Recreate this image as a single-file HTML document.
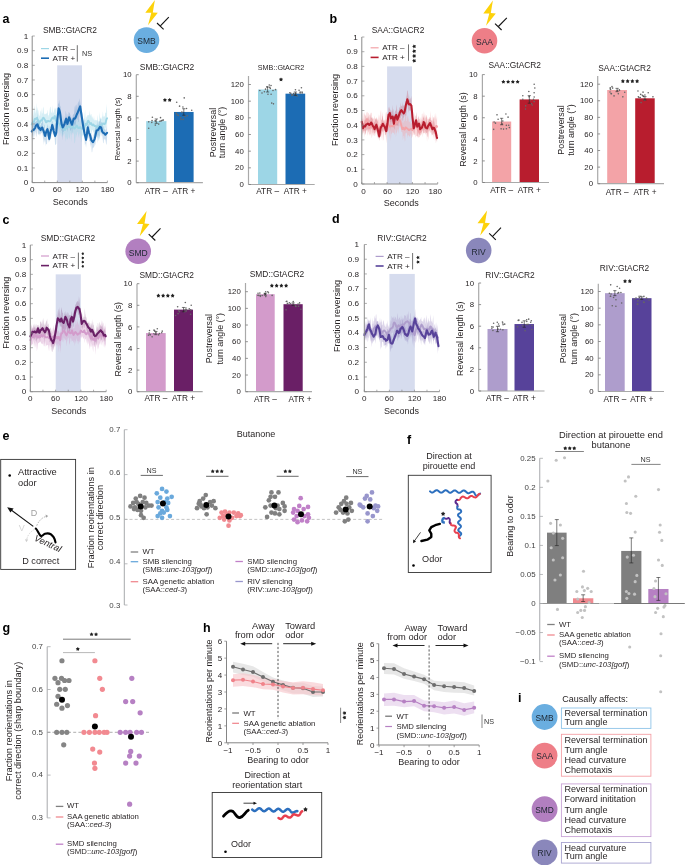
<!DOCTYPE html>
<html><head><meta charset="utf-8"><title>Figure</title>
<style>
html,body{margin:0;padding:0;background:#fff;}
body{width:685px;height:865px;overflow:hidden;font-family:"Liberation Sans",sans-serif;}
svg{display:block;will-change:transform;}
text{font-family:"Liberation Sans",sans-serif;}
</style></head><body>
<svg width="685" height="865" viewBox="0 0 685 865" font-family="Liberation Sans, sans-serif" fill="#231f20">
<rect x="0" y="0" width="685" height="865" fill="#ffffff"/>
<text x="2.5" y="22.5" font-size="12.5" fill="#000" font-weight="bold">a</text>
<text x="329.5" y="23" font-size="12.5" fill="#000" font-weight="bold">b</text>
<text x="2.5" y="223.5" font-size="12.5" fill="#000" font-weight="bold">c</text>
<text x="332" y="223" font-size="12.5" fill="#000" font-weight="bold">d</text>
<text x="2.5" y="440" font-size="12.5" fill="#000" font-weight="bold">e</text>
<text x="407" y="443.5" font-size="12.5" fill="#000" font-weight="bold">f</text>
<text x="2.5" y="632" font-size="12.5" fill="#000" font-weight="bold">g</text>
<text x="203" y="632" font-size="12.5" fill="#000" font-weight="bold">h</text>
<text x="518" y="702" font-size="12.5" fill="#000" font-weight="bold">i</text>
<rect x="57.2" y="65.32" width="24.8" height="117.28" fill="#d6dcee"/>
<polygon points="31.75,109.53 32.17,120.16 32.59,117.01 33,117.34 33.42,108.23 33.84,116.22 34.25,110.58 34.67,105.16 35.14,109.1 35.61,114.37 36.07,110.63 36.54,102.82 37.01,113.19 37.45,106.64 37.88,109.78 38.32,110.68 38.76,114.41 39.23,115.46 39.69,116.57 40.16,110.37 40.63,111.76 41.09,117.21 41.56,107.87 42.03,113.83 42.5,113.08 42.96,108.23 43.43,106.4 43.87,112.1 44.31,114.32 44.74,114.22 45.18,113.66 45.65,114.47 46.12,113.24 46.58,113.72 47.05,113.07 47.52,109.51 47.99,114.96 48.45,115.07 48.92,116.91 49.39,107.53 49.85,114.25 50.32,107.32 50.79,106.62 51.26,112.79 51.72,112.25 52.19,113.5 52.66,105.02 53.12,112.99 53.59,112.5 54.06,110.23 54.53,107.41 54.96,110.54 55.4,107.47 55.84,109.15 56.28,107.23 56.72,115.38 57.15,117.89 57.59,116.22 58.03,118.84 58.5,116.02 58.96,117.83 59.43,114.03 59.9,110.99 60.36,117.1 60.83,122.54 61.3,122.31 61.77,117.56 62.23,121.93 62.7,115.62 63.17,115.83 63.64,124.29 64.1,123.06 64.57,124.37 65.04,124.58 65.5,119.75 65.97,123.06 66.44,119.07 66.91,118.24 67.37,121.23 67.84,115.5 68.31,118.12 68.77,123.04 69.24,119.78 69.71,123.05 70.18,120.65 70.64,121.02 71.11,120.7 71.58,120.35 72.04,117.12 72.51,122 72.98,121.39 73.45,117.93 73.91,121.17 74.38,121.58 74.85,122.83 75.31,121.91 75.78,120.23 76.25,119.62 76.72,115.69 77.18,120.96 77.65,120.86 78.12,116.15 78.58,120.47 79.05,120.14 79.52,118.06 79.99,123.04 80.45,115.62 80.92,122.6 81.39,116.42 81.85,119.34 82.32,120.56 82.79,123 83.26,121.55 83.72,119.99 84.19,120.08 84.66,114.36 85.12,109.5 85.59,120.02 86.06,118.89 86.53,116.08 86.99,117.21 87.46,115.37 87.93,115.1 88.39,115.14 88.86,115.26 89.33,114.27 89.8,110.32 90.26,116.06 90.73,114.81 91.2,113.73 91.66,115.9 92.13,118.81 92.6,116.1 93.07,118.27 93.53,120.12 94,115.72 94.47,120.57 94.93,120.37 95.4,119.47 95.87,120.86 96.34,119.7 96.8,120.73 97.27,120.11 97.74,114.56 98.2,121.27 98.67,121.19 99.14,121.6 99.61,112.08 100.07,117.55 100.54,118.48 101.01,118.88 101.47,118.87 101.94,116.89 102.41,116.19 102.88,111.23 103.34,116.58 103.81,116.77 104.28,115.74 104.74,117.35 105.21,113.1 105.68,112.45 106.15,112.93 106.61,103.96 107.08,111.19 107.08,125.07 106.61,124.4 106.15,125.96 105.68,130.59 105.21,127.05 104.74,132.4 104.28,136.15 103.81,127.19 103.34,133.98 102.88,128.88 102.41,129.32 101.94,134.67 101.47,131.39 101.01,129.02 100.54,131.66 100.07,137.17 99.61,140.73 99.14,130.94 98.67,139.46 98.2,140.86 97.74,133.02 97.27,136.06 96.8,133.98 96.34,136.69 95.87,131.53 95.4,138.51 94.93,134.15 94.47,136.28 94,133.91 93.53,132.15 93.07,131.58 92.6,130.01 92.13,129.87 91.66,136.76 91.2,131.75 90.73,134.81 90.26,127.74 89.8,135.61 89.33,128.28 88.86,129.82 88.39,134.5 87.93,127.06 87.46,130.83 86.99,127.4 86.53,130.44 86.06,136.29 85.59,129.6 85.12,130.7 84.66,131.69 84.19,131.21 83.72,133.85 83.26,136.7 82.79,134.8 82.32,137.42 81.85,134.55 81.39,141.67 80.92,141.47 80.45,133.11 79.99,137.8 79.52,133.76 79.05,133.35 78.58,137.91 78.12,135.21 77.65,131.65 77.18,131.88 76.72,137.73 76.25,134.9 75.78,133.29 75.31,140.01 74.85,142.94 74.38,143.25 73.91,133.53 73.45,134.11 72.98,131.57 72.51,133.45 72.04,132.21 71.58,135.61 71.11,141.91 70.64,132.07 70.18,134.13 69.71,139.39 69.24,137.68 68.77,138.06 68.31,132.49 67.84,140.18 67.37,138.64 66.91,139.48 66.44,138.09 65.97,135.95 65.5,141.99 65.04,137.34 64.57,133.51 64.1,133.48 63.64,136.06 63.17,134.36 62.7,137.59 62.23,133.68 61.77,132.68 61.3,137.16 60.83,135.05 60.36,132.06 59.9,136.44 59.43,132.09 58.96,132.47 58.5,130.25 58.03,128.58 57.59,128.64 57.15,127.49 56.72,125.59 56.28,125.19 55.84,125.47 55.4,128.89 54.96,129.55 54.53,121.06 54.06,128.77 53.59,129.74 53.12,126.41 52.66,132.63 52.19,125.65 51.72,125.36 51.26,124.02 50.79,124.96 50.32,126.58 49.85,135.42 49.39,129.14 48.92,128.74 48.45,127.23 47.99,135.73 47.52,135.35 47.05,129.47 46.58,129.29 46.12,131.56 45.65,125.9 45.18,130.97 44.74,128.41 44.31,128.83 43.87,125.09 43.43,131.73 42.96,125.99 42.5,125.9 42.03,125.74 41.56,132.76 41.09,131.65 40.63,129.05 40.16,132.43 39.69,127.33 39.23,136.46 38.76,134.01 38.32,130.17 37.88,128.32 37.45,127.55 37.01,122.74 36.54,126.22 36.07,127.18 35.61,123.79 35.14,126.27 34.67,132.29 34.25,126.22 33.84,130.85 33.42,132.71 33,128.7 32.59,135.61 32.17,129.71 31.75,131.92" fill="#9dd6e6" opacity="0.42"/>
<polygon points="31.75,122.12 32.17,125.37 32.59,124.91 33,125.75 33.42,117.45 33.84,124.69 34.25,122.03 34.67,119.84 35.09,122.25 35.51,121.44 35.92,122.26 36.34,120.77 36.76,120.81 37.17,119.37 37.59,112.96 38.18,123.07 38.76,122.54 39.2,121.06 39.64,122.5 40.07,126.35 40.51,125.51 40.95,125.04 41.39,122.65 41.82,123.19 42.26,121.9 42.85,119.43 43.43,127.26 43.87,128.87 44.31,124.61 44.74,124.8 45.18,130.7 45.65,128.71 46.12,129.51 46.58,127.42 47.05,127.34 47.52,125.5 47.96,124.07 48.39,128.65 48.83,130.65 49.27,132.86 49.71,125.22 50.15,129.48 50.58,126.33 51.02,124.75 51.61,122.82 52.19,120.6 52.77,122.53 53.36,124.25 53.8,125.87 54.23,122.65 54.67,128.4 55.11,121.9 55.69,122.38 56.28,126.67 56.86,121.87 57.45,113.64 58.03,103.19 58.61,103.96 59.12,99.66 59.63,103.23 60.13,106.98 60.6,105.39 61.07,113.84 61.53,115.2 62.12,121.41 62.7,123.23 63.14,120.33 63.58,123.63 64.01,115.56 64.45,120.4 64.89,119.7 65.33,117.49 65.77,110.53 66.2,113.35 66.79,117.24 67.37,118.88 67.81,113.38 68.25,116.19 68.69,112.06 69.12,112.62 69.71,112.88 70.29,117.36 70.73,113.99 71.17,117.24 71.61,120.57 72.04,117.31 72.48,118.21 72.92,114.98 73.36,114.19 73.8,114.16 74.23,112.38 74.67,107.57 75.11,104.9 75.55,106.67 75.99,111.14 76.42,105.58 76.86,104.31 77.3,110.28 77.74,103.72 78.18,102.28 78.61,101.08 79.05,105.26 79.64,98.23 80.22,102.59 80.8,105.39 81.39,110.04 81.82,111.89 82.26,111.66 82.7,113.82 83.14,120.52 83.58,122.23 84.01,117.24 84.45,123.28 84.89,125.46 85.47,133.42 86.06,134.36 86.5,128.16 86.93,129.59 87.37,126.24 87.81,121.86 88.25,125.26 88.69,123.89 89.12,124.31 89.56,129.94 90,131.66 90.44,134 90.88,136.17 91.31,137 91.75,132.76 92.19,138.28 92.63,136.87 93.07,139.72 93.5,133.67 93.94,135.35 94.38,132.28 94.82,130.73 95.26,126.68 95.69,127.37 96.13,127.51 96.57,123.65 97.01,126.57 97.45,120.1 97.88,125.47 98.32,126.04 98.76,123.09 99.2,121.29 99.64,121.6 100.07,120.75 100.51,116.96 100.95,124.05 101.39,121.81 101.82,122.36 102.26,122.44 102.7,123.88 103.14,126.27 103.58,126.72 104.01,129.25 104.45,128.7 104.89,130.76 105.33,129 105.77,129.93 106.2,129.1 106.64,125.66 107.08,124.82 107.08,137.79 106.64,143.41 106.2,145.1 105.77,141.63 105.33,139.49 104.89,139.15 104.45,139.8 104.01,138.21 103.58,143.07 103.14,143.2 102.7,139.05 102.26,134.73 101.82,136.67 101.39,133.29 100.95,132.48 100.51,131.85 100.07,135.42 99.64,139.27 99.2,136.02 98.76,135.25 98.32,138.6 97.88,142.89 97.45,137.69 97.01,137.16 96.57,136.87 96.13,137.95 95.69,141.26 95.26,145.52 94.82,143.3 94.38,146.31 93.94,146.71 93.5,148.27 93.07,147.11 92.63,148.79 92.19,152.23 91.75,152.35 91.31,145.33 90.88,143.74 90.44,147.87 90,141.57 89.56,141.36 89.12,141.37 88.69,135.82 88.25,138.28 87.81,138.37 87.37,135.26 86.93,139.62 86.5,142.47 86.06,147.83 85.47,143.45 84.89,144.96 84.45,136.88 84.01,134.07 83.58,130.52 83.14,130.21 82.7,129.32 82.26,123.15 81.82,123.13 81.39,120.53 80.8,115.17 80.22,110.79 79.64,117.63 79.05,111.97 78.61,122.07 78.18,122.07 77.74,117.5 77.3,120.65 76.86,118.16 76.42,118.47 75.99,121.96 75.55,124.53 75.11,126.5 74.67,125.22 74.23,123.43 73.8,129.83 73.36,124.98 72.92,127.84 72.48,128.67 72.04,135.03 71.61,127.74 71.17,129.24 70.73,130.67 70.29,130.62 69.71,124.92 69.12,123.83 68.69,124.32 68.25,125.18 67.81,132.24 67.37,129.53 66.79,127.23 66.2,128.7 65.77,124.33 65.33,127.92 64.89,129.22 64.45,128.64 64.01,129.44 63.58,132.31 63.14,131.45 62.7,140.82 62.12,130.48 61.53,130.69 61.07,124.48 60.6,126.81 60.13,119.21 59.63,115.95 59.12,120.62 58.61,111.89 58.03,117.75 57.45,124.3 56.86,130.59 56.28,143.7 55.69,144.89 55.11,144.59 54.67,138.79 54.23,136.04 53.8,134.75 53.36,132.81 52.77,131 52.19,134.24 51.61,133.43 51.02,137.76 50.58,137.61 50.15,139.51 49.71,141.13 49.27,141.43 48.83,140.19 48.39,143.08 47.96,136.9 47.52,135.77 47.05,143.75 46.58,144.41 46.12,144.11 45.65,139.75 45.18,146.47 44.74,138.91 44.31,142.73 43.87,137.89 43.43,145.14 42.85,136.01 42.26,132.91 41.82,133.6 41.39,132.6 40.95,133.78 40.51,133.81 40.07,135.72 39.64,133.62 39.2,134.37 38.76,134.79 38.18,134.01 37.59,127.93 37.17,133.91 36.76,133.07 36.34,137.54 35.92,135.38 35.51,131.52 35.09,132.43 34.67,137.52 34.25,132.36 33.84,133.02 33.42,141.84 33,134.27 32.59,137.3 32.17,134.8 31.75,140.13" fill="#1c6cb4" opacity="0.22"/>
<polyline points="31.75,124.4 32.08,123.7 32.4,123 32.73,122.29 33.05,122.03 33.37,122.04 33.7,122.05 34.02,121.81 34.35,120.68 34.67,119.55 35.01,118.58 35.34,118.59 35.67,118.77 36.01,118.94 36.34,118.72 36.67,118.2 37.01,117.68 37.36,118.61 37.71,119.42 38.06,120.24 38.41,121.19 38.76,122.88 39.09,123.03 39.43,123.19 39.76,122.42 40.09,121.57 40.43,120.73 40.76,120.47 41.09,120.57 41.43,120.67 41.76,120.5 42.1,119.76 42.43,119.03 42.76,118.32 43.1,118.01 43.43,117.69 43.78,117.95 44.13,118.5 44.48,119.11 44.83,119.73 45.18,120.4 45.52,121.17 45.85,121.94 46.18,122.24 46.52,121.81 46.85,121.37 47.18,121.02 47.52,121.47 47.85,121.24 48.19,121.02 48.52,121.06 48.85,121.16 49.19,121.27 49.52,121.33 49.85,121.35 50.19,121.37 50.52,121.22 50.86,120.49 51.19,119.75 51.52,119.01 51.86,118.46 52.19,117.93 52.52,117.57 52.86,117.71 53.19,118.18 53.52,118.65 53.86,118.59 54.19,117.4 54.53,116.22 54.88,115.99 55.23,117.63 55.58,119.26 55.93,120.89 56.28,121.05 56.63,121.1 56.98,121.15 57.33,121.58 57.68,122.11 58.03,122.65 58.36,122.9 58.7,123.21 59.03,123.51 59.36,123.9 59.7,124.44 60.03,124.98 60.36,125.54 60.7,126.42 61.03,127.31 61.37,128.2 61.7,128.16 62.03,127.8 62.37,127.44 62.7,127.59 63.03,128.19 63.37,128.8 63.7,129.34 64.04,129.57 64.37,129.8 64.7,130.03 65.04,129.96 65.37,129.34 65.7,128.71 66.04,128.35 66.37,128.21 66.7,128.07 67.04,127.74 67.37,126.88 67.71,126.51 68.04,126.15 68.37,126.3 68.71,126.46 69.04,126.62 69.37,126.89 69.71,127.22 70.04,127.05 70.38,127.01 70.71,127.19 71.04,127.37 71.38,127.5 71.71,126.89 72.04,126.28 72.38,126.34 72.71,126.51 73.04,126.72 73.38,126.93 73.71,127.35 74.05,127.98 74.38,128.61 74.71,128.49 75.05,128.01 75.38,127.53 75.71,127.05 76.05,126.55 76.38,126.05 76.72,125.55 77.05,125.97 77.38,126.68 77.72,127.38 78.05,127.9 78.38,127.96 78.72,128.03 79.05,128.09 79.38,127.76 79.72,127.43 80.05,127.1 80.39,127.37 80.72,127.9 81.05,128.43 81.39,128.79 81.72,128.57 82.05,128.35 82.39,128.17 82.72,128.39 83.06,128.6 83.39,128.82 83.72,128.59 84.06,127.93 84.39,127.27 84.72,126.45 85.06,125.47 85.39,124.48 85.72,123.77 86.06,124.03 86.39,124.45 86.73,124.87 87.06,123.73 87.39,122.45 87.73,121.18 88.06,120.7 88.39,120.69 88.73,121.35 89.06,122.03 89.4,122.73 89.73,123.43 90.06,124.11 90.4,123.78 90.73,123.45 91.06,123.12 91.4,123.55 91.73,124.26 92.06,124.96 92.4,125.28 92.73,125.12 93.07,124.97 93.4,124.48 93.73,125 94.07,125.52 94.4,126.04 94.73,126.06 95.07,126 95.4,125.94 95.74,126.21 96.07,126.33 96.4,126.46 96.74,126.72 97.07,127.38 97.4,128.05 97.74,128.71 98.07,127.8 98.4,126.86 98.74,125.91 99.07,125.64 99.41,125.72 99.74,125.81 100.07,125.7 100.41,125.42 100.74,125.15 101.07,124.87 101.41,124.69 101.74,124.51 102.08,124.33 102.41,124.05 102.74,123.75 103.08,123.45 103.41,123.41 103.74,123.66 104.08,123.91 104.41,124.11 104.74,124.06 105.08,123.51 105.41,122.95 105.75,121.85 106.08,120.67 106.41,119.48 106.75,118.72 107.08,118.26" fill="none" stroke="#9dd6e6" stroke-width="1.9" stroke-linejoin="round" stroke-linecap="round"/>
<polyline points="31.75,131.48 32.08,131.04 32.4,130.61 32.73,130.17 33.05,129.95 33.37,129.86 33.7,129.78 34.02,129.6 34.35,129.06 34.67,128.52 35,128.04 35.32,127.3 35.64,126.5 35.97,125.7 36.29,125.14 36.62,124.91 36.94,124.67 37.27,124.45 37.59,124.37 37.98,126.03 38.37,127.65 38.76,128.33 39.11,128.06 39.46,127.82 39.81,128.59 40.16,129.36 40.51,130.13 40.86,129.58 41.21,128.95 41.56,128.32 41.91,127.86 42.26,127.46 42.65,128.57 43.04,129.68 43.43,130.79 43.78,131.43 44.13,132.66 44.48,134.04 44.83,135.42 45.18,135.95 45.52,134.53 45.85,133.12 46.18,131.98 46.52,131.25 46.85,130.52 47.18,129.8 47.52,129.09 47.87,130.87 48.22,132.64 48.57,134.7 48.92,136.8 49.27,138.89 49.62,137.02 49.97,134.86 50.32,132.7 50.67,131.24 51.02,130.19 51.41,128.64 51.8,126.9 52.19,125.06 52.58,126.33 52.97,127.81 53.36,129.33 53.71,130.94 54.06,132.21 54.41,133.43 54.76,134.65 55.11,135.95 55.5,135.03 55.89,134.1 56.28,132.62 56.67,127.71 57.06,122.82 57.45,118.68 57.83,115.32 58.22,111.92 58.61,108.36 58.92,109.01 59.22,109.67 59.52,110.75 59.83,111.89 60.13,113.03 60.48,116 60.83,118.69 61.18,121.39 61.53,123.9 61.92,124.99 62.31,126.08 62.7,127.5 63.05,126.83 63.4,126.15 63.75,125.48 64.1,124.83 64.45,124.19 64.8,123.06 65.15,121.9 65.5,120.73 65.85,119.57 66.2,118.64 66.59,120.46 66.98,122.28 67.37,123.94 67.72,122.87 68.07,121.78 68.42,120.3 68.77,118.82 69.12,117.34 69.51,118.23 69.9,119.12 70.29,120.09 70.64,121.19 70.99,122.28 71.34,123.38 71.69,124.05 72.04,124.7 72.39,123.25 72.74,122 73.09,120.79 73.45,119.57 73.8,118.49 74.15,118.62 74.5,118.76 74.85,118.55 75.2,118.06 75.55,117.58 75.9,116.66 76.25,115.79 76.6,114.93 76.95,114.13 77.3,113.53 77.65,112.69 78,111.85 78.35,110.97 78.7,110.09 79.05,109.21 79.44,108.17 79.83,107.12 80.22,106.34 80.61,109.18 81,112.02 81.39,114.51 81.74,116.73 82.09,118.96 82.44,121.23 82.79,123.65 83.14,126.08 83.49,128.02 83.84,129.82 84.19,131.61 84.54,133.41 84.89,134.9 85.28,136.41 85.67,137.95 86.06,139.9 86.41,137.57 86.76,135.24 87.11,132.62 87.46,130 87.81,127.38 88.16,128.97 88.51,130.64 88.86,132.32 89.21,133.21 89.56,133.83 89.91,134.69 90.26,135.87 90.61,137.28 90.96,138.68 91.31,140.15 91.66,140.64 92.01,141.12 92.36,141.55 92.72,141.86 93.07,142.16 93.42,141.34 93.77,140.69 94.12,140.04 94.47,139.38 94.82,138.28 95.17,136.61 95.52,134.93 95.87,133.46 96.22,132.01 96.57,130.56 96.92,130.42 97.27,130.33 97.62,130.24 97.97,130.03 98.32,129.75 98.67,129 99.02,128.4 99.37,127.95 99.72,127.5 100.07,126.85 100.42,127 100.77,127.14 101.12,127.52 101.47,128.8 101.82,130.07 102.18,131.52 102.53,131.97 102.88,132.42 103.23,132.87 103.58,133.14 103.93,133.16 104.28,133.19 104.63,133.64 104.98,134.2 105.33,134.77 105.68,134.4 106.03,134.02 106.38,133.64 106.73,133.23 107.08,132.78" fill="none" stroke="#1c6cb4" stroke-width="2.1" stroke-linejoin="round" stroke-linecap="round"/>
<line x1="32.2" y1="36" x2="32.2" y2="182.6" stroke="#8a8a8a" stroke-width="1"/>
<line x1="32.2" y1="182.6" x2="107.4" y2="182.6" stroke="#8a8a8a" stroke-width="1"/>
<line x1="32.2" y1="182.6" x2="34.8" y2="182.6" stroke="#8a8a8a" stroke-width="0.7"/>
<text x="28.2" y="185.2" font-size="8.1" text-anchor="end">0</text>
<line x1="32.2" y1="167.94" x2="34.8" y2="167.94" stroke="#8a8a8a" stroke-width="0.7"/>
<text x="28.2" y="170.54" font-size="8.1" text-anchor="end">0.1</text>
<line x1="32.2" y1="153.28" x2="34.8" y2="153.28" stroke="#8a8a8a" stroke-width="0.7"/>
<text x="28.2" y="155.88" font-size="8.1" text-anchor="end">0.2</text>
<line x1="32.2" y1="138.62" x2="34.8" y2="138.62" stroke="#8a8a8a" stroke-width="0.7"/>
<text x="28.2" y="141.22" font-size="8.1" text-anchor="end">0.3</text>
<line x1="32.2" y1="123.96" x2="34.8" y2="123.96" stroke="#8a8a8a" stroke-width="0.7"/>
<text x="28.2" y="126.56" font-size="8.1" text-anchor="end">0.4</text>
<line x1="32.2" y1="109.3" x2="34.8" y2="109.3" stroke="#8a8a8a" stroke-width="0.7"/>
<text x="28.2" y="111.9" font-size="8.1" text-anchor="end">0.5</text>
<line x1="32.2" y1="94.64" x2="34.8" y2="94.64" stroke="#8a8a8a" stroke-width="0.7"/>
<text x="28.2" y="97.24" font-size="8.1" text-anchor="end">0.6</text>
<line x1="32.2" y1="79.98" x2="34.8" y2="79.98" stroke="#8a8a8a" stroke-width="0.7"/>
<text x="28.2" y="82.58" font-size="8.1" text-anchor="end">0.7</text>
<line x1="32.2" y1="65.32" x2="34.8" y2="65.32" stroke="#8a8a8a" stroke-width="0.7"/>
<text x="28.2" y="67.92" font-size="8.1" text-anchor="end">0.8</text>
<line x1="32.2" y1="50.66" x2="34.8" y2="50.66" stroke="#8a8a8a" stroke-width="0.7"/>
<text x="28.2" y="53.26" font-size="8.1" text-anchor="end">0.9</text>
<line x1="32.2" y1="36" x2="34.8" y2="36" stroke="#8a8a8a" stroke-width="0.7"/>
<text x="28.2" y="38.6" font-size="8.1" text-anchor="end">1</text>
<line x1="32.2" y1="182.6" x2="32.2" y2="180.6" stroke="#8a8a8a" stroke-width="0.7"/>
<line x1="44.73" y1="182.6" x2="44.73" y2="180.6" stroke="#8a8a8a" stroke-width="0.7"/>
<line x1="57.27" y1="182.6" x2="57.27" y2="180.6" stroke="#8a8a8a" stroke-width="0.7"/>
<line x1="69.8" y1="182.6" x2="69.8" y2="180.6" stroke="#8a8a8a" stroke-width="0.7"/>
<line x1="82.33" y1="182.6" x2="82.33" y2="180.6" stroke="#8a8a8a" stroke-width="0.7"/>
<line x1="94.87" y1="182.6" x2="94.87" y2="180.6" stroke="#8a8a8a" stroke-width="0.7"/>
<line x1="107.4" y1="182.6" x2="107.4" y2="180.6" stroke="#8a8a8a" stroke-width="0.7"/>
<text x="32.2" y="191.6" font-size="8.1" text-anchor="middle">0</text>
<text x="57.27" y="191.6" font-size="8.1" text-anchor="middle">60</text>
<text x="82.33" y="191.6" font-size="8.1" text-anchor="middle">120</text>
<text x="107.4" y="191.6" font-size="8.1" text-anchor="middle">180</text>
<text x="70.3" y="204.8" font-size="9" text-anchor="middle">Seconds</text>
<text transform="translate(9.2,109) rotate(-90)" font-size="9" text-anchor="middle">Fraction reversing</text>
<text x="70" y="32.5" font-size="8.4" text-anchor="middle">SMB::GtACR2</text>
<line x1="41" y1="48.6" x2="49" y2="48.6" stroke="#9dd6e6" stroke-width="1.2"/>
<line x1="41" y1="58.2" x2="49" y2="58.2" stroke="#1c6cb4" stroke-width="1.6"/>
<text x="52.6" y="51.2" font-size="8.1">ATR –</text>
<text x="52.6" y="60.8" font-size="8.1">ATR +</text>
<line x1="77.3" y1="45.2" x2="77.3" y2="61.6" stroke="#333" stroke-width="0.7"/>
<text x="81.9" y="56.2" font-size="7.3" fill="#333">NS</text>
<rect x="387.1" y="66.4" width="24.9" height="117.6" fill="#d6dcee"/>
<polygon points="361.75,118.6 362.17,119.64 362.59,111.65 363,120.05 363.42,118.12 363.84,112.39 364.25,115.11 364.67,112.09 365.14,117.08 365.61,114.17 366.07,116.75 366.54,112.58 367.01,112.28 367.47,111.68 367.94,117.01 368.41,112.78 368.88,113.22 369.34,115.39 369.81,114.21 370.28,122.21 370.74,112.74 371.21,112.66 371.68,113.1 372.15,120.69 372.61,117.5 373.08,117.86 373.55,118.71 374.01,119.1 374.48,115.2 374.95,119.29 375.42,118.25 375.88,118.8 376.35,117.13 376.82,119.19 377.28,120.85 377.75,118.94 378.22,120.34 378.69,113.78 379.15,122.93 379.62,114.59 380.09,118.87 380.55,112.4 381.02,109.84 381.49,118.89 381.96,120.18 382.42,111.43 382.89,115.46 383.36,122.05 383.82,119.43 384.29,120.96 384.76,119.93 385.23,119.17 385.69,113.56 386.16,111.38 386.63,112.87 387.09,118.36 387.56,118.09 388.03,115.6 388.5,118.59 388.96,117.59 389.43,113.36 389.9,114.83 390.36,120.36 390.83,112.55 391.3,122.05 391.77,120.22 392.23,120.01 392.7,118.96 393.17,119.84 393.64,117.26 394.1,121.79 394.57,120.54 395.04,116.16 395.5,117.33 395.97,116.98 396.44,118.13 396.91,116.1 397.37,117.51 397.81,116.16 398.25,112.77 398.69,111.29 399.12,108.69 399.71,112.95 400.29,114.28 400.73,112.85 401.17,118.13 401.61,118.36 402.04,116.73 402.48,120.86 402.92,123.26 403.36,122.51 403.8,115.46 404.23,120.69 404.67,121.51 405.11,114.06 405.55,114.87 406.01,113 406.48,121.16 406.95,121.14 407.42,116.47 407.88,115.39 408.35,122.46 408.82,115.95 409.28,122.54 409.75,121.55 410.22,121 410.69,123.76 411.15,123.44 411.62,122.84 412.09,119.95 412.55,121.14 413.02,122.67 413.49,119.63 413.96,119.49 414.42,112.19 414.89,120.61 415.36,120.79 415.82,121.97 416.29,122.14 416.76,115.94 417.23,117.95 417.69,118.75 418.16,122.74 418.63,116.24 419.09,117.56 419.56,124.23 420.03,122.7 420.5,116.56 420.96,123.12 421.43,121.33 421.9,113.78 422.36,113.56 422.83,118.43 423.3,110.89 423.77,118.29 424.23,112.12 424.7,120.51 425.17,113.67 425.64,118.33 426.1,115.87 426.57,114.71 427.04,116.77 427.5,119.08 427.97,119.48 428.44,117.95 428.91,120.23 429.37,117.51 429.84,116.73 430.31,117.94 430.77,110.71 431.24,120.65 431.71,121.17 432.18,114.82 432.64,119.5 433.11,122.12 433.58,120.93 434.04,116.33 434.51,118.85 434.98,113.67 435.45,119.43 435.91,112.78 436.5,120.35 437.08,116.86 437.08,132.18 436.5,138.14 435.91,131.75 435.45,140.42 434.98,138.49 434.51,131.62 434.04,141.05 433.58,133.57 433.11,138.12 432.64,133.33 432.18,130.07 431.71,136.63 431.24,131.44 430.77,132.01 430.31,133.3 429.84,131.96 429.37,130.34 428.91,136.4 428.44,140.35 427.97,131.31 427.5,131.72 427.04,142.49 426.57,132.97 426.1,131.87 425.64,134.2 425.17,134.49 424.7,132.83 424.23,132.93 423.77,132.79 423.3,132.82 422.83,137.36 422.36,129.91 421.9,133.39 421.43,134.57 420.96,134.7 420.5,135.71 420.03,135.62 419.56,137.54 419.09,137.08 418.63,136.72 418.16,138.23 417.69,135.93 417.23,136.31 416.76,136.14 416.29,135.56 415.82,137.68 415.36,135.24 414.89,132.92 414.42,135.31 413.96,133.67 413.49,131.74 413.02,134.15 412.55,135.79 412.09,137.16 411.62,138.25 411.15,134.34 410.69,133.83 410.22,135.82 409.75,136.22 409.28,136.63 408.82,135.21 408.35,135.23 407.88,135.32 407.42,138.12 406.95,132.11 406.48,133.48 406.01,133.36 405.55,133.18 405.11,141.63 404.67,133.81 404.23,142.05 403.8,135.9 403.36,135.55 402.92,140.56 402.48,132.81 402.04,131.47 401.61,132.13 401.17,130.91 400.73,127.02 400.29,126.06 399.71,126.01 399.12,127.75 398.69,129.62 398.25,133.77 397.81,128.89 397.37,130.26 396.91,133.35 396.44,131.9 395.97,136.99 395.5,130.82 395.04,129.6 394.57,135.19 394.1,133.4 393.64,132.81 393.17,132.73 392.7,133 392.23,131.49 391.77,133.99 391.3,133.49 390.83,140.99 390.36,131.11 389.9,131.99 389.43,138.07 388.96,130.77 388.5,129.09 388.03,134.61 387.56,128.73 387.09,132.33 386.63,134.02 386.16,130.36 385.69,137.24 385.23,131.65 384.76,130.25 384.29,130.52 383.82,136.29 383.36,140.26 382.89,140.41 382.42,131.9 381.96,130.2 381.49,140.19 381.02,130.82 380.55,131.69 380.09,132.48 379.62,139.92 379.15,131.78 378.69,133.27 378.22,139.46 377.75,133.2 377.28,139.23 376.82,132.21 376.35,132.15 375.88,130.13 375.42,133.67 374.95,131.8 374.48,136.39 374.01,135.19 373.55,135.6 373.08,132.73 372.61,133.6 372.15,136.55 371.68,138.34 371.21,131.62 370.74,135.71 370.28,134.08 369.81,133.81 369.34,135.99 368.88,132.3 368.41,132.12 367.94,135.69 367.47,133.65 367.01,127.33 366.54,130.78 366.07,129.58 365.61,133.8 365.14,130.67 364.67,131.27 364.25,137.82 363.84,130.99 363.42,133.34 363,130.87 362.59,134.73 362.17,131.43 361.75,130.05" fill="#f3a3a7" opacity="0.42"/>
<polygon points="361.75,117.52 362.34,120.01 362.92,123.36 363.5,122.67 364.09,122.61 364.53,119.17 364.96,120.49 365.4,120.24 365.84,113.9 366.28,120.29 366.72,119.41 367.15,120 367.59,118.65 368.03,116.3 368.47,119.6 368.91,115.96 369.34,119.87 369.78,120.41 370.22,116.49 370.66,112.91 371.09,117.88 371.53,117.16 371.97,118.29 372.41,119.48 372.85,116.77 373.28,122.66 373.72,123.84 374.16,121.48 374.6,122.52 375.04,119.2 375.47,119.94 375.91,118.47 376.35,120.15 376.93,116.92 377.52,122.24 377.96,120.42 378.39,125.65 378.83,128.43 379.27,126.13 379.71,125.48 380.15,127.7 380.58,125.58 381.02,123.55 381.46,120.28 381.9,119.78 382.34,115.46 382.77,117.05 383.21,120.22 383.65,121.55 384.09,122.05 384.53,123.37 384.96,119.16 385.4,122.35 385.84,126.66 386.28,124.08 386.86,123.66 387.45,117.74 388.03,113.71 388.61,106.74 389.2,109.42 389.78,106.46 390.36,111.51 390.95,109.63 391.39,111.8 391.82,112.39 392.26,104.76 392.7,111.47 393.28,108.68 393.87,116.14 394.45,114.91 395.04,111.51 395.62,110.71 396.2,109.57 396.79,104.2 397.37,114.16 397.81,112.31 398.25,111.85 398.69,112.5 399.12,108.48 399.71,107.1 400.29,107.63 400.73,102.22 401.17,106.44 401.61,105.47 402.04,106.54 402.48,101.96 402.92,107.26 403.36,104.49 403.8,106.05 404.38,106.66 404.96,104.64 405.55,101.8 406.13,98.1 406.72,95.59 407.3,90.85 407.88,90.42 408.47,99.48 408.91,93.85 409.34,98.88 409.78,99.85 410.22,97.55 410.8,100 411.39,95.76 411.97,107.68 412.55,113.03 413.14,117.23 413.72,121.48 414.31,121.93 414.89,119.39 415.47,115.92 416.06,115.31 416.64,111.99 417.23,122.38 417.66,120.89 418.1,120.14 418.54,115.34 418.98,119.62 419.56,118.38 420.15,123.38 420.58,123.91 421.02,116.96 421.46,124.13 421.9,118.69 422.34,121.09 422.77,120.28 423.21,117.11 423.65,118.22 424.09,114.88 424.53,119.98 424.96,122.27 425.4,122.43 425.84,117.9 426.28,116.42 426.72,118.36 427.15,124.55 427.59,122.77 428.03,121.33 428.47,121.3 428.91,118.66 429.49,119.13 430.07,117.23 430.66,120.02 431.24,120.1 431.82,120.9 432.41,124.7 432.85,120.57 433.28,116.64 433.72,117.65 434.16,121.57 434.6,123.74 435.04,127.17 435.47,126.67 435.91,128.56 436.5,130.97 437.08,129.85 437.08,141.86 436.5,139.56 435.91,143.41 435.47,137.16 435.04,134.87 434.6,134.33 434.16,134.11 433.72,132.16 433.28,133.58 432.85,134.78 432.41,134.83 431.82,134.56 431.24,131 430.66,127.32 430.07,130.81 429.49,130.51 428.91,128.63 428.47,130.93 428.03,132.02 427.59,135.95 427.15,137.52 426.72,133.03 426.28,133.06 425.84,132.71 425.4,131.51 424.96,129.62 424.53,130.02 424.09,132.68 423.65,133.74 423.21,130.37 422.77,131.07 422.34,129.34 421.9,132.56 421.46,131.88 421.02,133.4 420.58,132.8 420.15,134.88 419.56,134.62 418.98,134.55 418.54,131.89 418.1,134.2 417.66,137.98 417.23,132.47 416.64,127.05 416.06,124.2 415.47,126.68 414.89,127.92 414.31,135.21 413.72,134.89 413.14,126.97 412.55,126.33 411.97,121.56 411.39,110.55 410.8,110.9 410.22,109.7 409.78,111 409.34,110.59 408.91,108.67 408.47,113.01 407.88,107.07 407.3,104.5 406.72,110.78 406.13,116.14 405.55,115.17 404.96,113.78 404.38,115.87 403.8,118.35 403.36,116.85 402.92,121.21 402.48,119.44 402.04,115.05 401.61,115.81 401.17,117.07 400.73,114.68 400.29,118.03 399.71,117.98 399.12,120.51 398.69,121.46 398.25,126.62 397.81,124.69 397.37,126.21 396.79,124.69 396.2,126.25 395.62,119.2 395.04,121.65 394.45,129.41 393.87,127.91 393.28,125.11 392.7,120.5 392.26,119.5 391.82,121.67 391.39,121.23 390.95,130.24 390.36,122.03 389.78,121.16 389.2,118.88 388.61,123.4 388.03,131.51 387.45,130.52 386.86,132.21 386.28,143.38 385.84,135.23 385.4,134.32 384.96,135.23 384.53,130.55 384.09,131.22 383.65,131.83 383.21,127.92 382.77,132.65 382.34,130.19 381.9,133.67 381.46,135.84 381.02,132.72 380.58,137.13 380.15,135.63 379.71,138.11 379.27,140.97 378.83,138.7 378.39,137.61 377.96,135.97 377.52,137.05 376.93,130.51 376.35,130.55 375.91,136.13 375.47,130.73 375.04,132.26 374.6,133.58 374.16,133.59 373.72,132.08 373.28,130.68 372.85,128.14 372.41,133.82 371.97,128.99 371.53,129.26 371.09,127.65 370.66,133.12 370.22,127.82 369.78,128.13 369.34,130.36 368.91,131.41 368.47,128.44 368.03,130.93 367.59,129.89 367.15,128.85 366.72,131.82 366.28,128.93 365.84,135.61 365.4,132.76 364.96,134.85 364.53,129.45 364.09,131.41 363.5,130.61 362.92,135.64 362.34,129.53 361.75,127.33" fill="#b81d2e" opacity="0.22"/>
<polyline points="361.75,122.11 362.08,123.24 362.4,124.37 362.73,125.49 363.05,125.82 363.37,125.64 363.7,125.45 364.02,125.24 364.35,124.94 364.67,124.64 365.01,123.53 365.34,122.66 365.67,121.83 366.01,121 366.34,120.29 366.67,119.67 367.01,119.05 367.34,120.11 367.67,121.21 368.01,122.31 368.34,123.41 368.68,124.99 369.01,126.58 369.34,128.17 369.68,127.72 370.01,126.91 370.34,126.11 370.68,125.4 371.01,124.86 371.35,124.31 371.68,123.85 372.01,125.17 372.35,126.49 372.68,127.82 373.01,128.4 373.35,128.77 373.68,129.15 374.01,129.26 374.35,128.08 374.68,126.89 375.02,125.99 375.35,126.28 375.68,126.57 376.02,126.86 376.35,126.17 376.68,126.36 377.02,126.55 377.35,127.04 377.69,127.73 378.02,128.42 378.35,129.02 378.69,129.39 379.02,128.6 379.35,127.81 379.69,127.39 380.02,126.97 380.35,126.55 380.69,125.87 381.02,125.09 381.36,125.31 381.69,125.6 382.02,125.98 382.36,126.37 382.69,126.68 383.02,126.31 383.36,125.94 383.69,125.08 384.03,125.22 384.36,125.6 384.69,125.97 385.03,125.97 385.36,125.63 385.69,125.28 386.03,125.03 386.36,125.1 386.69,125.16 387.03,125.22 387.36,124.77 387.7,124.27 388.03,123.77 388.36,124.29 388.7,125.11 389.03,125.93 389.36,126.46 389.7,126.44 390.03,126.41 390.36,126.39 390.7,126.24 391.03,126.09 391.37,125.94 391.7,126 392.03,126.13 392.37,126.27 392.7,126.37 393.03,125.93 393.37,125.49 393.7,125.13 394.04,125.18 394.37,125.24 394.7,125.29 395.04,124.61 395.37,123.8 395.7,122.99 396.04,122.69 396.37,122.81 396.7,122.92 397.04,122.82 397.37,122.14 397.72,121.07 398.07,120.04 398.42,119.74 398.77,119.44 399.12,119.13 399.51,119.95 399.9,120.74 400.29,121.53 400.64,122.75 400.99,123.96 401.34,125.18 401.69,126.71 402.04,128.25 402.39,129.08 402.74,128.79 403.09,128.28 403.45,127.76 403.8,128.6 404.15,129.09 404.5,129.58 404.85,129.3 405.2,128.4 405.55,127.51 405.88,127.46 406.21,127.73 406.55,128 406.88,128.28 407.22,128.55 407.55,128.83 407.88,129.11 408.22,129.45 408.55,129.81 408.88,130.17 409.22,130.18 409.55,129.84 409.89,129.5 410.22,129.27 410.55,129.15 410.89,129.03 411.22,128.91 411.55,129.28 411.89,129.71 412.22,130.13 412.55,129.61 412.89,128.14 413.22,126.68 413.56,125.7 413.89,125.81 414.22,125.93 414.56,126.03 414.89,125.53 415.22,126.03 415.56,126.53 415.89,126.55 416.23,126.39 416.56,126.23 416.89,126.61 417.23,127.75 417.56,128.71 417.89,129.61 418.23,130.03 418.56,130.44 418.89,130.85 419.23,131.42 419.56,132.03 419.9,131.63 420.23,130.75 420.56,129.42 420.9,128.1 421.23,127.1 421.56,127.14 421.9,127.18 422.23,127.73 422.57,127.12 422.9,126.44 423.23,125.76 423.57,125.39 423.9,125.2 424.23,125 424.57,125.47 424.9,126.26 425.23,127.04 425.57,127.76 425.9,127.15 426.24,126.54 426.57,125.93 426.9,126.09 427.24,126.67 427.57,127.25 427.9,127.44 428.24,127.18 428.57,126.91 428.91,126.61 429.24,126.13 429.57,125.65 429.91,125.17 430.24,125.45 430.57,125.85 430.91,126.26 431.24,126.03 431.57,125.82 431.91,125.62 432.24,125.59 432.58,126.04 432.91,126.49 433.24,126.94 433.58,127.33 433.91,127.22 434.24,127.11 434.58,127.14 434.91,127.25 435.25,127.35 435.58,127.11 435.91,126.33 436.3,126.01 436.69,126.04 437.08,126.72" fill="none" stroke="#f3a3a7" stroke-width="1.9" stroke-linejoin="round" stroke-linecap="round"/>
<polyline points="361.75,121.69 362.14,123.93 362.53,126.17 362.92,128.25 363.31,127.3 363.7,126.34 364.09,125.78 364.44,126.06 364.79,126.34 365.14,126.39 365.49,125.75 365.84,125.11 366.19,124.52 366.54,124.39 366.89,124.25 367.24,124.11 367.59,123.67 367.94,123.68 368.29,123.69 368.64,124.07 368.99,124.53 369.34,124.99 369.69,124.66 370.04,124.41 370.39,124.16 370.74,123.49 371.09,122.48 371.45,122.88 371.8,123.45 372.15,124.28 372.5,125.12 372.85,125.79 373.2,126.29 373.55,126.78 373.9,127.33 374.25,128.25 374.6,129.17 374.95,128.23 375.3,127.27 375.65,126.32 376,125.37 376.35,124.67 376.74,126.14 377.13,127.61 377.52,128.85 377.87,130.3 378.22,131.74 378.57,133.28 378.92,134.82 379.27,136.37 379.62,134.22 379.97,131.87 380.32,129.53 380.67,128.04 381.02,127.05 381.37,126.77 381.72,126.25 382.07,125.47 382.42,124.69 382.77,123.74 383.12,124.35 383.47,124.96 383.82,125.54 384.18,126 384.53,126.46 384.88,126.97 385.23,128.15 385.58,129.32 385.93,130.49 386.28,131.18 386.67,128.54 387.06,125.89 387.45,123.75 387.83,120.44 388.22,117.24 388.61,114.52 389,114.51 389.39,114.11 389.78,113 390.17,114.62 390.56,116.44 390.95,118.44 391.3,118.02 391.65,117.64 392,117.3 392.35,116.96 392.7,116.61 393.09,119.07 393.48,121.54 393.87,123.75 394.26,121.49 394.65,119.23 395.04,117.2 395.43,116.43 395.82,115.65 396.2,114.89 396.59,116.45 396.98,118.03 397.37,119.66 397.72,118.79 398.07,117.91 398.42,116.88 398.77,115.85 399.12,114.82 399.51,113.73 399.9,112.65 400.29,111.51 400.64,111.07 400.99,110.62 401.34,110.17 401.69,110.58 402.04,111.02 402.39,111.92 402.74,112.29 403.09,112.56 403.45,112.82 403.8,113.43 404.18,112.59 404.57,111.75 404.96,110.08 405.35,107.82 405.74,105.56 406.13,104.07 406.52,102.6 406.91,101.09 407.3,99.38 407.69,100.39 408.08,101.71 408.47,103.66 408.82,104.13 409.17,104.42 409.52,104.31 409.87,104.21 410.22,104.04 410.61,104.55 411,105.05 411.39,105.54 411.78,109.52 412.17,113.5 412.55,117.89 412.94,121.48 413.33,125.08 413.72,128.31 414.11,127.11 414.5,125.9 414.89,124.52 415.28,123.11 415.67,121.7 416.06,120.21 416.45,122.23 416.84,124.32 417.23,126.7 417.58,126.04 417.93,125.4 418.28,124.82 418.63,124.23 418.98,123.63 419.37,125.46 419.76,127.3 420.15,129.19 420.5,128.83 420.85,128.47 421.2,128.12 421.55,127.86 421.9,127.59 422.25,126.63 422.6,125.74 422.95,124.85 423.3,123.96 423.65,122.12 424,122.45 424.35,122.78 424.7,124.05 425.05,125.71 425.4,127.36 425.75,127.75 426.1,127.72 426.45,127.68 426.8,127.89 427.15,128.43 427.5,127.34 427.85,126.42 428.2,125.91 428.55,125.41 428.91,124.77 429.29,124.13 429.68,123.49 430.07,123.04 430.46,124.18 430.85,125.33 431.24,126.05 431.63,127.1 432.02,128.16 432.41,129.24 432.76,128.6 433.11,127.95 433.46,127.76 433.81,127.88 434.16,128.01 434.51,128.99 434.86,129.89 435.21,130.78 435.56,131.72 435.91,132.75 436.3,134.68 436.69,136.49 437.08,138.09" fill="none" stroke="#b81d2e" stroke-width="2.1" stroke-linejoin="round" stroke-linecap="round"/>
<line x1="361.8" y1="37" x2="361.8" y2="184" stroke="#8a8a8a" stroke-width="1"/>
<line x1="361.8" y1="184" x2="437.7" y2="184" stroke="#8a8a8a" stroke-width="1"/>
<line x1="361.8" y1="184" x2="364.4" y2="184" stroke="#8a8a8a" stroke-width="0.7"/>
<text x="357.8" y="186.6" font-size="8.1" text-anchor="end">0</text>
<line x1="361.8" y1="169.3" x2="364.4" y2="169.3" stroke="#8a8a8a" stroke-width="0.7"/>
<text x="357.8" y="171.9" font-size="8.1" text-anchor="end">0.1</text>
<line x1="361.8" y1="154.6" x2="364.4" y2="154.6" stroke="#8a8a8a" stroke-width="0.7"/>
<text x="357.8" y="157.2" font-size="8.1" text-anchor="end">0.2</text>
<line x1="361.8" y1="139.9" x2="364.4" y2="139.9" stroke="#8a8a8a" stroke-width="0.7"/>
<text x="357.8" y="142.5" font-size="8.1" text-anchor="end">0.3</text>
<line x1="361.8" y1="125.2" x2="364.4" y2="125.2" stroke="#8a8a8a" stroke-width="0.7"/>
<text x="357.8" y="127.8" font-size="8.1" text-anchor="end">0.4</text>
<line x1="361.8" y1="110.5" x2="364.4" y2="110.5" stroke="#8a8a8a" stroke-width="0.7"/>
<text x="357.8" y="113.1" font-size="8.1" text-anchor="end">0.5</text>
<line x1="361.8" y1="95.8" x2="364.4" y2="95.8" stroke="#8a8a8a" stroke-width="0.7"/>
<text x="357.8" y="98.4" font-size="8.1" text-anchor="end">0.6</text>
<line x1="361.8" y1="81.1" x2="364.4" y2="81.1" stroke="#8a8a8a" stroke-width="0.7"/>
<text x="357.8" y="83.7" font-size="8.1" text-anchor="end">0.7</text>
<line x1="361.8" y1="66.4" x2="364.4" y2="66.4" stroke="#8a8a8a" stroke-width="0.7"/>
<text x="357.8" y="69" font-size="8.1" text-anchor="end">0.8</text>
<line x1="361.8" y1="51.7" x2="364.4" y2="51.7" stroke="#8a8a8a" stroke-width="0.7"/>
<text x="357.8" y="54.3" font-size="8.1" text-anchor="end">0.9</text>
<line x1="361.8" y1="37" x2="364.4" y2="37" stroke="#8a8a8a" stroke-width="0.7"/>
<text x="357.8" y="39.6" font-size="8.1" text-anchor="end">1</text>
<line x1="361.8" y1="184" x2="361.8" y2="182" stroke="#8a8a8a" stroke-width="0.7"/>
<line x1="374.45" y1="184" x2="374.45" y2="182" stroke="#8a8a8a" stroke-width="0.7"/>
<line x1="387.1" y1="184" x2="387.1" y2="182" stroke="#8a8a8a" stroke-width="0.7"/>
<line x1="399.75" y1="184" x2="399.75" y2="182" stroke="#8a8a8a" stroke-width="0.7"/>
<line x1="412.4" y1="184" x2="412.4" y2="182" stroke="#8a8a8a" stroke-width="0.7"/>
<line x1="425.05" y1="184" x2="425.05" y2="182" stroke="#8a8a8a" stroke-width="0.7"/>
<line x1="437.7" y1="184" x2="437.7" y2="182" stroke="#8a8a8a" stroke-width="0.7"/>
<text x="363.5" y="194" font-size="8.1" text-anchor="middle">0</text>
<text x="387.6" y="194" font-size="8.1" text-anchor="middle">60</text>
<text x="412.4" y="194" font-size="8.1" text-anchor="middle">120</text>
<text x="435.2" y="194" font-size="8.1" text-anchor="middle">180</text>
<text x="401.15" y="206.2" font-size="9" text-anchor="middle">Seconds</text>
<text transform="translate(338,110) rotate(-90)" font-size="9" text-anchor="middle">Fraction reversing</text>
<text x="398" y="33" font-size="8.4" text-anchor="middle">SAA::GtACR2</text>
<line x1="370.6" y1="47.8" x2="378.6" y2="47.8" stroke="#f3a3a7" stroke-width="1.2"/>
<line x1="370.6" y1="57.4" x2="378.6" y2="57.4" stroke="#b81d2e" stroke-width="1.6"/>
<text x="382.2" y="50.4" font-size="8.1">ATR –</text>
<text x="382.2" y="60" font-size="8.1">ATR +</text>
<line x1="408.5" y1="44.4" x2="408.5" y2="60.8" stroke="#333" stroke-width="0.7"/>
<polygon points="412.1,46.4 413.21,45.68 413.55,44.4 414.58,45.24 415.9,45.17 415.42,46.4 415.9,47.63 414.58,47.56 413.55,48.4 413.21,47.12" fill="#222"/>
<polygon points="412.1,51.2 413.21,50.48 413.55,49.2 414.58,50.04 415.9,49.97 415.42,51.2 415.9,52.43 414.58,52.36 413.55,53.2 413.21,51.92" fill="#222"/>
<polygon points="412.1,56 413.21,55.28 413.55,54 414.58,54.84 415.9,54.77 415.42,56 415.9,57.23 414.58,57.16 413.55,58 413.21,56.72" fill="#222"/>
<polygon points="412.1,60.8 413.21,60.08 413.55,58.8 414.58,59.64 415.9,59.57 415.42,60.8 415.9,62.03 414.58,61.96 413.55,62.8 413.21,61.52" fill="#222"/>
<rect x="55.7" y="274.34" width="25.1" height="117.36" fill="#d6dcee"/>
<polygon points="30.34,331.04 30.8,330.35 31.27,323.41 31.74,330.54 32.2,328.93 32.67,328.82 33.14,324.4 33.61,328.77 34.07,326.57 34.54,328.05 35.01,326.03 35.47,328.36 35.94,329.18 36.41,331.56 36.88,331.79 37.34,330.51 37.81,330.97 38.28,331.11 38.74,331.34 39.21,331.81 39.68,330.34 40.15,323.66 40.61,326.84 41.08,330.17 41.55,328.21 42.01,329.27 42.48,325.34 42.95,330.8 43.42,328.14 43.88,328.43 44.35,326.75 44.82,327.99 45.28,324.99 45.75,327.62 46.22,331.76 46.69,332.46 47.15,329.66 47.62,330 48.09,325.55 48.55,331.86 49.02,333.94 49.49,330.52 49.96,334.99 50.42,332.77 50.89,333.57 51.36,333.69 51.82,330.55 52.29,332.22 52.76,328.24 53.23,328.48 53.69,324.87 54.16,330.97 54.63,331.22 55.09,329.34 55.56,332.61 56.03,330.82 56.5,323.27 56.96,325.65 57.43,329.46 57.9,331.86 58.36,330.91 58.8,330.88 59.24,333.29 59.68,332.74 60.12,332.86 60.7,330.66 61.28,325.62 61.72,325.31 62.16,320.32 62.6,326.62 63.04,322.84 63.47,316.16 63.91,324.84 64.35,322.48 64.79,327.16 65.23,321.97 65.66,327.5 66.1,327.18 66.54,328.23 66.98,322.96 67.42,328.8 67.85,325.22 68.29,325.72 68.73,326.86 69.17,321.57 69.61,321.19 70.04,323.91 70.48,327.91 70.92,326.05 71.36,325.44 71.8,324.66 72.23,324.65 72.67,325.46 73.11,326.61 73.55,329.14 73.99,327.61 74.42,328.46 74.86,320.47 75.3,318.54 75.74,325.01 76.18,324.5 76.61,322.54 77.05,318.97 77.49,321.71 77.93,322.31 78.36,325.21 78.8,322.38 79.24,328.69 79.68,320.05 80.12,321.68 80.55,318.34 81.02,319.1 81.49,319.22 81.96,326.89 82.42,323.74 82.89,319.93 83.36,326.58 83.82,320.03 84.29,322.01 84.76,324.09 85.23,319.36 85.69,323.63 86.16,325.82 86.63,320.46 87.09,327.6 87.56,324.81 88.03,323.85 88.5,321.19 88.96,328.58 89.43,327.59 89.9,326.9 90.36,327.19 90.83,330.84 91.3,323.67 91.77,331.87 92.23,331.52 92.7,331.65 93.17,328.91 93.64,329.51 94.1,328.4 94.57,334.14 95.04,333.58 95.5,334.07 95.97,334.53 96.44,333.2 96.91,333.04 97.37,326.94 97.84,327.33 98.31,329.92 98.77,330.48 99.24,330.69 99.71,329.84 100.18,323.02 100.64,329.18 101.11,324.33 101.58,320.1 102.04,327.32 102.51,328.97 102.98,324.19 103.45,322.29 103.91,330.45 104.35,327.34 104.79,325.15 105.23,328.27 105.66,322.42 105.66,347.94 105.23,343.93 104.79,348.09 104.35,343.15 103.91,347.11 103.45,340.25 102.98,342.47 102.51,342.02 102.04,345.84 101.58,343.93 101.11,339.58 100.64,345.07 100.18,340.81 99.71,345.01 99.24,342.97 98.77,349.52 98.31,346.68 97.84,343.12 97.37,349.72 96.91,346.41 96.44,343.85 95.97,346.64 95.5,354.97 95.04,344.91 94.57,347.07 94.1,346.87 93.64,344.18 93.17,352.15 92.7,348.48 92.23,344.67 91.77,347.17 91.3,344.17 90.83,342.2 90.36,347.83 89.9,344.92 89.43,349.57 88.96,344.3 88.5,342.89 88.03,340.83 87.56,345.81 87.09,339.25 86.63,343.43 86.16,338.12 85.69,339.53 85.23,338.81 84.76,343.16 84.29,336.42 83.82,339.1 83.36,338.46 82.89,337.2 82.42,336.06 81.96,338.44 81.49,336.3 81.02,338.34 80.55,336.12 80.12,341.7 79.68,342.58 79.24,339.14 78.8,344.89 78.36,341.1 77.93,340.97 77.49,340.45 77.05,344.36 76.61,339.3 76.18,337.76 75.74,343.92 75.3,341.29 74.86,339.66 74.42,346.66 73.99,338.88 73.55,343.23 73.11,341.44 72.67,340.47 72.23,341.24 71.8,338.08 71.36,342.19 70.92,338.86 70.48,337.5 70.04,342.24 69.61,343.42 69.17,344.9 68.73,336.95 68.29,338.32 67.85,338.26 67.42,340.01 66.98,341.97 66.54,346.57 66.1,339.62 65.66,340.46 65.23,339.76 64.79,337.79 64.35,340.9 63.91,337.08 63.47,343.11 63.04,336.61 62.6,342.44 62.16,339.82 61.72,340.16 61.28,339.87 60.7,353.11 60.12,346.37 59.68,344.87 59.24,346.56 58.8,352.65 58.36,344.12 57.9,343.26 57.43,346.97 56.96,343.63 56.5,346.07 56.03,342.14 55.56,344.35 55.09,346.87 54.63,346.2 54.16,343.66 53.69,341.92 53.23,350.4 52.76,346.79 52.29,345.09 51.82,344.08 51.36,346.89 50.89,346.9 50.42,344.31 49.96,351.42 49.49,345.88 49.02,344.26 48.55,351.25 48.09,344.92 47.62,345.25 47.15,344.85 46.69,345.22 46.22,345.84 45.75,346.86 45.28,340.52 44.82,345.97 44.35,346.55 43.88,341.56 43.42,346.63 42.95,342.94 42.48,344.61 42.01,343.77 41.55,343.68 41.08,342.89 40.61,341.13 40.15,341.38 39.68,342.18 39.21,342.6 38.74,343.25 38.28,342.66 37.81,344.26 37.34,348.46 36.88,351.3 36.41,344.76 35.94,340.47 35.47,345.9 35.01,347.77 34.54,344.82 34.07,342.74 33.61,340.47 33.14,345.67 32.67,343.98 32.2,343.81 31.74,344.74 31.27,345.61 30.8,346.93 30.34,352.35" fill="#d39bcb" opacity="0.42"/>
<polygon points="30.34,325.14 30.77,327.86 31.21,324.94 31.65,330.21 32.09,327.59 32.55,327.4 33.02,329.08 33.49,323.44 33.96,328.81 34.42,326.27 34.89,323.59 35.36,325.16 35.82,328.68 36.29,327.71 36.76,324.04 37.34,325.56 37.93,325.46 38.36,324.41 38.8,326.53 39.24,326.15 39.68,328.26 40.12,321.87 40.55,321.97 40.99,320.84 41.43,324.28 41.87,322.94 42.31,319.11 42.74,326.13 43.18,317.72 43.62,321.49 44.06,325.58 44.5,322.98 44.93,326.75 45.37,321.82 45.81,325.24 46.25,320.25 46.69,321.65 47.12,318.37 47.56,325.38 48,324.01 48.44,323.47 49.02,327.94 49.61,329.39 50.04,329.52 50.48,327.64 50.92,327.42 51.36,330.32 51.8,337.98 52.23,338.87 52.67,336.34 53.11,338.14 53.69,336.47 54.28,330.9 54.72,328.76 55.15,325.44 55.59,324.49 56.03,325.34 56.47,322.21 56.91,314.05 57.34,316.75 57.78,311.99 58.36,308.46 58.95,313.71 59.53,307.1 60.12,317.14 60.7,313.78 61.28,306.98 61.87,309.95 62.45,312.67 63.04,312.93 63.62,319.84 64.06,318.13 64.5,311.56 64.93,314.29 65.37,314.77 65.81,310.92 66.25,313.14 66.69,314.38 67.12,316.04 67.71,312.12 68.29,312.95 68.88,316.23 69.46,314.79 70.04,315.4 70.63,315.31 71.21,314.82 71.8,310.76 72.38,316.01 72.96,317.57 73.55,310.64 74.13,313.39 74.72,308.16 75.3,305.14 75.88,304 76.47,302.52 77.05,301.59 77.64,301.59 78.07,300.46 78.51,303.37 78.95,296.62 79.39,299.76 79.97,306.1 80.55,308.93 81.14,314.95 81.72,318.04 82.16,313.51 82.6,318.57 83.04,318.84 83.47,316.93 83.91,316.13 84.35,317.58 84.79,308.21 85.23,313.41 85.81,316.79 86.39,317.4 86.83,320.16 87.27,321.68 87.71,323.05 88.15,323.1 88.58,322.96 89.02,320.55 89.46,323.32 89.9,323.93 90.34,326.46 90.77,322.93 91.21,323.54 91.65,326.04 92.09,319.1 92.53,326.23 92.96,320.94 93.4,325.26 93.84,324.82 94.28,329.62 94.72,331.98 95.15,333.29 95.59,330.91 96.03,329.98 96.47,324.82 96.91,328.18 97.34,330.83 97.78,322.72 98.22,323.7 98.66,329.69 99.09,321.64 99.53,323.04 99.97,326.9 100.41,324.13 100.85,325.53 101.28,326.9 101.72,326.29 102.16,326.32 102.6,320.48 103.04,327.17 103.47,330 103.91,331.24 104.35,329.7 104.79,328.33 105.23,331.93 105.66,325.52 105.66,346.74 105.23,340.9 104.79,339.74 104.35,342.34 103.91,339.31 103.47,337.33 103.04,341.41 102.6,337.21 102.16,336.43 101.72,340.8 101.28,339.25 100.85,340.57 100.41,338.43 99.97,336.14 99.53,336.87 99.09,338.31 98.66,339.96 98.22,339.64 97.78,339.48 97.34,338.17 96.91,343.91 96.47,340.66 96.03,345.52 95.59,339.81 95.15,343.08 94.72,346.08 94.28,342.2 93.84,338.51 93.4,335.79 92.96,336.4 92.53,338.09 92.09,335.9 91.65,342.16 91.21,340.62 90.77,341.59 90.34,334.16 89.9,334.98 89.46,334.49 89.02,337.68 88.58,335.21 88.15,333.91 87.71,332.65 87.27,332.37 86.83,331.12 86.39,328.71 85.81,325.61 85.23,324.06 84.79,325.83 84.35,327.71 83.91,328.42 83.47,324.84 83.04,326.42 82.6,330.27 82.16,326.87 81.72,329.05 81.14,323.22 80.55,318.46 79.97,318.58 79.39,311.8 78.95,314.69 78.51,315.34 78.07,313.23 77.64,309.73 77.05,313.69 76.47,310.67 75.88,319.03 75.3,316.1 74.72,318.78 74.13,321.47 73.55,327.04 72.96,326.19 72.38,322.95 71.8,325.74 71.21,326.68 70.63,325.44 70.04,332.09 69.46,331.83 68.88,329.51 68.29,328.43 67.71,333.69 67.12,328.58 66.69,326.27 66.25,328 65.81,329.82 65.37,329.76 64.93,323.99 64.5,333.93 64.06,330.63 63.62,328.22 63.04,330.75 62.45,332.56 61.87,325.16 61.28,327.39 60.7,325.55 60.12,327.32 59.53,324.12 58.95,323 58.36,323.76 57.78,323.1 57.34,325.64 56.91,328.06 56.47,331.07 56.03,333.27 55.59,340.23 55.15,343.08 54.72,348.08 54.28,343.96 53.69,350.22 53.11,347.11 52.67,350.78 52.23,352.26 51.8,351.15 51.36,348.59 50.92,343.1 50.48,341.8 50.04,341.79 49.61,342.5 49.02,336.86 48.44,337.66 48,332.87 47.56,335.11 47.12,335.66 46.69,332.19 46.25,333.87 45.81,334.82 45.37,335.38 44.93,338.77 44.5,344.06 44.06,335.24 43.62,333.94 43.18,339.49 42.74,337.06 42.31,335.25 41.87,332.05 41.43,334.49 40.99,336.74 40.55,333.6 40.12,343.03 39.68,339.74 39.24,338.28 38.8,338.08 38.36,334.27 37.93,336.92 37.34,336.94 36.76,343.34 36.29,339.39 35.82,340.89 35.36,337.03 34.89,338.99 34.42,340.08 33.96,337.39 33.49,340.59 33.02,336.95 32.55,338.5 32.09,337.97 31.65,345.99 31.21,338.23 30.77,338.66 30.34,342.2" fill="#6a1f66" opacity="0.22"/>
<polyline points="30.34,340.13 30.67,339.43 31,338.72 31.34,338.02 31.67,337.47 32,336.99 32.34,336.5 32.67,336.34 33.01,336.64 33.34,336.94 33.67,337.07 34.01,335.87 34.34,334.67 34.67,333.46 35.01,333.52 35.34,334.71 35.67,335.89 36.01,336.34 36.34,336.12 36.68,335.89 37.01,335.96 37.34,337.09 37.68,337.39 38.01,337.69 38.34,337.16 38.68,336.56 39.01,335.96 39.35,335.84 39.68,336.02 40.01,336.69 40.35,336.9 40.68,336.19 41.01,335.48 41.35,334.82 41.68,335.53 42.01,336.25 42.35,336.47 42.68,336.15 43.02,335.65 43.35,335.15 43.68,334.97 44.02,335.19 44.35,335.41 44.68,336.23 45.02,336.59 45.35,336.95 45.69,337.31 46.02,337.36 46.35,337.34 46.69,337.33 47.02,337.26 47.35,337.16 47.69,337.05 48.02,337.06 48.35,337.43 48.69,337.79 49.02,338.16 49.36,338.34 49.69,338.51 50.02,338.69 50.36,338.99 50.69,339.34 51.02,339.69 51.36,339.9 51.69,339.18 52.03,338.46 52.36,337.75 52.69,337.22 53.03,336.69 53.36,336.15 53.69,336.12 54.03,336.89 54.36,337.66 54.69,338.09 55.03,338.13 55.36,338.17 55.7,338.16 56.03,337.95 56.36,337.41 56.7,336.87 57.03,337.33 57.36,337.92 57.7,338.51 58.03,338.16 58.36,337.15 58.72,336.96 59.07,337.25 59.42,338.35 59.77,339.46 60.12,340.36 60.51,337.89 60.9,335.42 61.28,333.49 61.64,333.36 61.99,333.24 62.34,332.89 62.69,331.96 63.04,331.03 63.39,331.4 63.74,331.18 64.09,330.96 64.44,330.74 64.79,331.76 65.14,332.79 65.49,333.81 65.84,334.42 66.19,334.97 66.54,335.52 66.89,334.62 67.24,333.54 67.59,332.45 67.94,331.76 68.29,331.35 68.64,331.64 68.99,331.98 69.34,332.39 69.69,332.8 70.04,333.3 70.39,333.3 70.74,333.3 71.09,333.08 71.45,331.77 71.8,330.47 72.15,330.38 72.5,331.67 72.85,332.97 73.2,334.27 73.55,334.95 73.9,334.39 74.25,333.82 74.6,333.21 74.95,332.57 75.3,331.94 75.65,332.2 76,332.57 76.35,332.95 76.7,333.43 77.05,334.01 77.4,334.59 77.75,334.8 78.1,334.26 78.45,333.73 78.8,333.48 79.15,333.55 79.5,333.63 79.85,333.63 80.2,332.33 80.55,331.03 80.89,330.45 81.22,330.77 81.56,331.22 81.89,331.68 82.22,331.93 82.56,332.03 82.89,332.12 83.22,332.15 83.56,331.58 83.89,331 84.23,330.42 84.56,331.29 84.89,332.2 85.23,333.11 85.56,333.62 85.89,333.93 86.23,334.24 86.56,334.21 86.89,333.61 87.23,333.02 87.56,332.46 87.9,332.66 88.23,332.86 88.56,333.07 88.9,333.58 89.23,334.17 89.56,334.77 89.9,335.77 90.23,336.88 90.57,337.99 90.9,338.72 91.23,337.84 91.57,336.95 91.9,336.06 92.23,337 92.57,338.32 92.9,339.63 93.23,339.87 93.57,339.37 93.9,338.88 94.24,338.82 94.57,339.79 94.9,340.26 95.24,340.73 95.57,339.87 95.9,339 96.24,338.14 96.57,337.82 96.91,337.73 97.24,337.48 97.57,337.42 97.91,337.65 98.24,337.88 98.57,337.97 98.91,336.99 99.24,336.01 99.57,335.03 99.91,334.8 100.24,334.73 100.58,334.67 100.91,334.8 101.24,335.1 101.58,335.4 101.91,336 102.24,335.95 102.58,335.9 102.91,335.84 103.25,336.16 103.58,336.51 103.91,336.86 104.26,337.11 104.61,337.34 104.96,337.57 105.31,337.19 105.66,336.22" fill="none" stroke="#d39bcb" stroke-width="1.9" stroke-linejoin="round" stroke-linecap="round"/>
<polyline points="30.34,336.42 30.69,335.86 31.04,335.29 31.39,334.73 31.74,333.71 32.09,332.62 32.42,331.86 32.75,331.77 33.09,332.03 33.42,332.29 33.76,332.3 34.09,331.89 34.42,331.47 34.76,331.42 35.09,331.76 35.42,332.11 35.76,332.46 36.09,332.44 36.43,332.31 36.76,332.18 37.15,330.81 37.54,329.55 37.93,328.29 38.28,329.37 38.63,330.77 38.98,332.16 39.33,332.69 39.68,332.52 40.03,331.17 40.38,330.31 40.73,330.15 41.08,329.98 41.43,329.48 41.78,328.99 42.13,328.5 42.48,328.15 42.83,328.73 43.18,329.32 43.53,330.37 43.88,330.74 44.23,331.1 44.58,331.47 44.93,332.36 45.28,331.7 45.64,331.05 45.99,330.02 46.34,328.85 46.69,327.68 47.04,328.09 47.39,328.81 47.74,329.52 48.09,329.81 48.44,329.53 48.83,330.51 49.22,332.06 49.61,334.24 49.96,335.97 50.31,337.32 50.66,338.26 51.01,339.2 51.36,340.09 51.71,340.42 52.06,340.75 52.41,341.21 52.76,342.14 53.11,343.07 53.5,341.75 53.89,340.35 54.28,338.94 54.63,337.04 54.98,335.35 55.33,333.65 55.68,331.83 56.03,329.19 56.38,326.77 56.73,324.36 57.08,322.36 57.43,320.36 57.78,318.36 58.17,318.64 58.56,319.05 58.95,319.43 59.34,320.12 59.73,320.81 60.12,321.48 60.51,320.54 60.9,319.6 61.28,318.54 61.67,319.61 62.06,320.68 62.45,321.96 62.84,322.25 63.23,322.54 63.62,322.97 63.97,321.88 64.32,320.8 64.67,319.53 65.02,318.18 65.37,316.82 65.72,317.42 66.07,318.1 66.42,318.78 66.77,319.64 67.12,320.78 67.51,322.44 67.9,323.85 68.29,324.91 68.68,325.58 69.07,326.41 69.46,327.35 69.85,324.78 70.24,321.93 70.63,319 71.02,318.41 71.41,317.65 71.8,316.89 72.18,317.82 72.57,319.71 72.96,321.59 73.35,320.53 73.74,318.93 74.13,317.34 74.52,315.32 74.91,313.26 75.3,311.19 75.69,309.99 76.08,308.83 76.47,307.66 76.86,307.4 77.25,307.16 77.64,306.92 77.99,307.43 78.34,307.95 78.69,308.46 79.04,308.64 79.39,308.77 79.78,310.6 80.17,312.39 80.55,314.17 80.94,317.51 81.33,320.67 81.72,323.84 82.07,323.09 82.42,322.55 82.77,322 83.12,321.46 83.47,321.08 83.82,320.94 84.18,320.81 84.53,321.03 84.88,321.32 85.23,321.62 85.62,322.5 86,323.05 86.39,323.6 86.74,324.23 87.09,324.93 87.45,325.63 87.8,326.35 88.15,327.07 88.5,327.56 88.85,327.88 89.2,328.1 89.55,328.31 89.9,329.02 90.25,330.07 90.6,331.12 90.95,331.6 91.3,330.88 91.65,330.17 92,329.73 92.35,330.54 92.7,331.35 93.05,332.15 93.4,332.68 93.75,333.92 94.1,335.16 94.45,335.55 94.8,335.84 95.15,336.13 95.5,335.77 95.85,335.65 96.2,335.52 96.55,335.04 96.91,334.35 97.26,333.89 97.61,333.48 97.96,333.12 98.31,332.75 98.66,332.42 99.01,332.03 99.36,331.64 99.71,331.24 100.06,330.81 100.41,330.38 100.76,330.24 101.11,330.82 101.46,331.39 101.81,331.97 102.16,331.85 102.51,332.5 102.86,333.14 103.21,333.92 103.56,334.74 103.91,335.56 104.26,335.54 104.61,335.19 104.96,334.83 105.31,335.21 105.66,336.29" fill="none" stroke="#6a1f66" stroke-width="2.1" stroke-linejoin="round" stroke-linecap="round"/>
<line x1="30.3" y1="245" x2="30.3" y2="391.7" stroke="#8a8a8a" stroke-width="1"/>
<line x1="30.3" y1="391.7" x2="106.2" y2="391.7" stroke="#8a8a8a" stroke-width="1"/>
<line x1="30.3" y1="391.7" x2="32.9" y2="391.7" stroke="#8a8a8a" stroke-width="0.7"/>
<text x="26.3" y="394.3" font-size="8.1" text-anchor="end">0</text>
<line x1="30.3" y1="377.03" x2="32.9" y2="377.03" stroke="#8a8a8a" stroke-width="0.7"/>
<text x="26.3" y="379.63" font-size="8.1" text-anchor="end">0.1</text>
<line x1="30.3" y1="362.36" x2="32.9" y2="362.36" stroke="#8a8a8a" stroke-width="0.7"/>
<text x="26.3" y="364.96" font-size="8.1" text-anchor="end">0.2</text>
<line x1="30.3" y1="347.69" x2="32.9" y2="347.69" stroke="#8a8a8a" stroke-width="0.7"/>
<text x="26.3" y="350.29" font-size="8.1" text-anchor="end">0.3</text>
<line x1="30.3" y1="333.02" x2="32.9" y2="333.02" stroke="#8a8a8a" stroke-width="0.7"/>
<text x="26.3" y="335.62" font-size="8.1" text-anchor="end">0.4</text>
<line x1="30.3" y1="318.35" x2="32.9" y2="318.35" stroke="#8a8a8a" stroke-width="0.7"/>
<text x="26.3" y="320.95" font-size="8.1" text-anchor="end">0.5</text>
<line x1="30.3" y1="303.68" x2="32.9" y2="303.68" stroke="#8a8a8a" stroke-width="0.7"/>
<text x="26.3" y="306.28" font-size="8.1" text-anchor="end">0.6</text>
<line x1="30.3" y1="289.01" x2="32.9" y2="289.01" stroke="#8a8a8a" stroke-width="0.7"/>
<text x="26.3" y="291.61" font-size="8.1" text-anchor="end">0.7</text>
<line x1="30.3" y1="274.34" x2="32.9" y2="274.34" stroke="#8a8a8a" stroke-width="0.7"/>
<text x="26.3" y="276.94" font-size="8.1" text-anchor="end">0.8</text>
<line x1="30.3" y1="259.67" x2="32.9" y2="259.67" stroke="#8a8a8a" stroke-width="0.7"/>
<text x="26.3" y="262.27" font-size="8.1" text-anchor="end">0.9</text>
<line x1="30.3" y1="245" x2="32.9" y2="245" stroke="#8a8a8a" stroke-width="0.7"/>
<text x="26.3" y="247.6" font-size="8.1" text-anchor="end">1</text>
<line x1="30.3" y1="391.7" x2="30.3" y2="389.7" stroke="#8a8a8a" stroke-width="0.7"/>
<line x1="42.95" y1="391.7" x2="42.95" y2="389.7" stroke="#8a8a8a" stroke-width="0.7"/>
<line x1="55.6" y1="391.7" x2="55.6" y2="389.7" stroke="#8a8a8a" stroke-width="0.7"/>
<line x1="68.25" y1="391.7" x2="68.25" y2="389.7" stroke="#8a8a8a" stroke-width="0.7"/>
<line x1="80.9" y1="391.7" x2="80.9" y2="389.7" stroke="#8a8a8a" stroke-width="0.7"/>
<line x1="93.55" y1="391.7" x2="93.55" y2="389.7" stroke="#8a8a8a" stroke-width="0.7"/>
<line x1="106.2" y1="391.7" x2="106.2" y2="389.7" stroke="#8a8a8a" stroke-width="0.7"/>
<text x="30.3" y="400.7" font-size="8.1" text-anchor="middle">0</text>
<text x="55.6" y="400.7" font-size="8.1" text-anchor="middle">60</text>
<text x="80.9" y="400.7" font-size="8.1" text-anchor="middle">120</text>
<text x="106.2" y="400.7" font-size="8.1" text-anchor="middle">180</text>
<text x="68.75" y="413.9" font-size="9" text-anchor="middle">Seconds</text>
<text transform="translate(8.8,312.7) rotate(-90)" font-size="9" text-anchor="middle">Fraction reversing</text>
<text x="68" y="240.7" font-size="8.4" text-anchor="middle">SMD::GtACR2</text>
<line x1="41" y1="256" x2="49" y2="256" stroke="#d39bcb" stroke-width="1.2"/>
<line x1="41" y1="265.6" x2="49" y2="265.6" stroke="#6a1f66" stroke-width="1.6"/>
<text x="52.6" y="258.6" font-size="8.1">ATR –</text>
<text x="52.6" y="268.2" font-size="8.1">ATR +</text>
<line x1="78.4" y1="252.6" x2="78.4" y2="269" stroke="#333" stroke-width="0.7"/>
<polygon points="81.2,253.7 82.05,253.15 82.31,252.18 83.09,252.82 84.09,252.76 83.73,253.7 84.09,254.64 83.09,254.58 82.31,255.22 82.05,254.25" fill="#222"/>
<polygon points="81.2,257.9 82.05,257.35 82.31,256.38 83.09,257.02 84.09,256.96 83.73,257.9 84.09,258.84 83.09,258.78 82.31,259.42 82.05,258.45" fill="#222"/>
<polygon points="81.2,262.1 82.05,261.55 82.31,260.58 83.09,261.22 84.09,261.16 83.73,262.1 84.09,263.04 83.09,262.98 82.31,263.62 82.05,262.65" fill="#222"/>
<polygon points="81.2,266.3 82.05,265.75 82.31,264.78 83.09,265.42 84.09,265.36 83.73,266.3 84.09,267.24 83.09,267.18 82.31,267.82 82.05,266.85" fill="#222"/>
<rect x="389.4" y="273.94" width="25.4" height="117.76" fill="#d6dcee"/>
<polygon points="364.34,320.61 364.8,324.38 365.27,320.78 365.74,325.91 366.2,320.92 366.67,325.48 367.14,324.68 367.61,323.73 368.07,323.72 368.54,319.62 369.01,321.21 369.47,324.3 369.94,323.03 370.41,317.36 370.88,327.92 371.34,328.85 371.81,327.44 372.28,317.26 372.74,323.99 373.21,323.87 373.68,320.71 374.12,321.04 374.55,315.6 374.99,318.05 375.43,318.78 375.87,314.71 376.31,314.18 376.74,320.76 377.18,321.39 377.65,320.92 378.12,323.53 378.58,324.12 379.05,323.39 379.52,322.23 379.99,317.84 380.45,321.66 380.92,322.77 381.39,321.56 381.85,318.86 382.32,325.17 382.79,324.73 383.26,320.5 383.72,320.54 384.19,323.81 384.66,325.42 385.12,326.56 385.59,327.3 386.06,323.11 386.53,324.16 386.99,327.07 387.46,320.17 387.93,324.64 388.39,325.88 388.86,327.38 389.33,328.08 389.8,324.76 390.26,323.4 390.73,319.7 391.2,321.98 391.66,315.74 392.13,317.44 392.6,317.41 393.07,318.14 393.53,315.93 394,319.47 394.47,318.67 394.93,316.02 395.4,317.83 395.87,317.19 396.34,319.16 396.8,320.25 397.27,315.83 397.74,312.71 398.2,319.28 398.67,319.38 399.14,317.79 399.61,317.92 400.07,316 400.54,320.99 401.01,319.44 401.47,319.05 401.94,315.16 402.41,319.63 402.88,319.67 403.34,318.66 403.81,317.98 404.28,315.43 404.74,315.1 405.21,315.85 405.68,316.11 406.15,314.57 406.61,319.04 407.08,316.95 407.55,313.48 408.01,314.97 408.48,310.54 408.95,319.51 409.42,318.27 409.88,319.87 410.35,313.57 410.82,313 411.28,320.65 411.75,320.76 412.22,321.8 412.69,320.49 413.15,315.12 413.62,325.87 414.09,321.54 414.55,327.73 415.02,327 415.49,319.42 415.96,323.74 416.42,319.55 416.89,318.4 417.36,316.96 417.82,319 418.29,318.58 418.76,322.75 419.23,320.33 419.69,320.44 420.16,319.24 420.63,319.34 421.09,316.77 421.56,320.8 422.03,321.2 422.5,321.8 422.96,320.71 423.43,318.34 423.9,322.42 424.36,318.41 424.83,317.35 425.3,319.99 425.77,324.11 426.23,319.28 426.7,314.73 427.17,321.06 427.64,323.3 428.1,321.62 428.57,317.46 429.04,321.15 429.5,320.93 429.97,323.23 430.44,314 430.91,317.51 431.37,321.29 431.84,321.46 432.31,323.49 432.77,320.13 433.24,315.14 433.71,327.67 434.18,325.17 434.64,323.74 435.11,329 435.58,327.12 436.04,322.1 436.51,326.47 436.98,330.51 437.45,324.07 437.91,330.02 437.91,347.52 437.45,354.1 436.98,342.28 436.51,343.37 436.04,344.19 435.58,342.86 435.11,340.31 434.64,339.56 434.18,337.21 433.71,345.18 433.24,340.85 432.77,339.74 432.31,335.69 431.84,335.85 431.37,334.38 430.91,339.26 430.44,334.44 429.97,335.49 429.5,332.99 429.04,342.37 428.57,341.76 428.1,337.55 427.64,334.84 427.17,334.56 426.7,336.47 426.23,335.68 425.77,341.59 425.3,340.95 424.83,343.26 424.36,340.65 423.9,340.48 423.43,332.5 422.96,334.67 422.5,336.5 422.03,340.13 421.56,332.75 421.09,333.91 420.63,339.95 420.16,336.26 419.69,335.7 419.23,339.59 418.76,342.97 418.29,335.79 417.82,333.87 417.36,336.99 416.89,331.97 416.42,341.64 415.96,338.79 415.49,343.26 415.02,341.17 414.55,341.06 414.09,348.34 413.62,343.34 413.15,339.77 412.69,336 412.22,334.86 411.75,338.34 411.28,331.73 410.82,339.87 410.35,331.95 409.88,333.77 409.42,333.63 408.95,329.15 408.48,334.54 408.01,328.63 407.55,330.45 407.08,327.49 406.61,330.94 406.15,330.48 405.68,334.25 405.21,332.75 404.74,331.02 404.28,337.69 403.81,329.22 403.34,329.34 402.88,331.7 402.41,334.29 401.94,331.47 401.47,332.26 401.01,340.03 400.54,333.6 400.07,333.64 399.61,332.24 399.14,333.38 398.67,337.55 398.2,336.43 397.74,332.28 397.27,332.68 396.8,334.45 396.34,333.88 395.87,333.01 395.4,329.28 394.93,332.91 394.47,330.95 394,329.13 393.53,328.85 393.07,329.44 392.6,333.47 392.13,332.84 391.66,332.96 391.2,342.57 390.73,339.66 390.26,337.41 389.8,337.8 389.33,341.2 388.86,340.13 388.39,339.61 387.93,340.89 387.46,342.59 386.99,339.73 386.53,341.81 386.06,345.52 385.59,349.45 385.12,340.25 384.66,337.95 384.19,341 383.72,343.25 383.26,337.31 382.79,338.03 382.32,338.97 381.85,338.26 381.39,336.86 380.92,337.59 380.45,337.27 379.99,336.95 379.52,342.48 379.05,339.64 378.58,337.15 378.12,337.39 377.65,333.13 377.18,338.69 376.74,335.51 376.31,335.92 375.87,338.79 375.43,335.52 374.99,336.86 374.55,338.51 374.12,339.77 373.68,341.18 373.21,334.19 372.74,336.74 372.28,342.98 371.81,342.17 371.34,347.18 370.88,339.91 370.41,342.03 369.94,335.18 369.47,335.82 369.01,337.75 368.54,337.4 368.07,341.37 367.61,341.84 367.14,336.69 366.67,341.04 366.2,334.78 365.74,338.15 365.27,337.15 364.8,337.4 364.34,340.12" fill="#ae9dcc" opacity="0.42"/>
<polygon points="364.34,329.97 364.77,331.09 365.21,329 365.65,328.37 366.09,329.14 366.53,323.22 366.96,325.35 367.4,322.34 367.84,316.56 368.42,323.02 369.01,319.48 369.59,321.79 370.18,319.58 370.61,327.46 371.05,327.35 371.49,328.42 371.93,328.1 372.36,328.04 372.8,332.35 373.24,329.78 373.68,330.1 374.12,330.14 374.55,322.79 374.99,328.5 375.43,324.27 376.01,324.61 376.6,322.11 377.18,321.34 377.77,321.28 378.2,321.12 378.64,322.85 379.08,326.39 379.52,326.21 380.1,329.79 380.69,333.01 381.12,326.33 381.56,324.26 382,331.29 382.44,331.02 382.88,332.25 383.31,329.79 383.75,329.45 384.19,333.34 384.63,334.46 385.07,333.29 385.5,335.77 385.94,332.82 386.38,333.07 386.82,335.17 387.26,329.29 387.69,328.99 388.28,329.51 388.86,331.32 389.3,327.04 389.74,335.14 390.18,337.95 390.61,334.54 391.05,335.75 391.49,336.86 391.93,339.21 392.36,338.85 392.8,334.22 393.24,333.2 393.68,327.61 394.12,332.98 394.7,329.27 395.28,330.41 395.72,328.21 396.16,327.25 396.6,324.13 397.04,324.66 397.47,327.31 397.91,325.16 398.35,329.09 398.79,327.71 399.23,329.31 399.66,325.91 400.1,318.65 400.54,324.8 400.98,323.32 401.42,323.79 401.85,324 402.29,323.06 402.73,317.33 403.17,323.45 403.61,326.65 404.04,326.28 404.48,322.14 404.92,328.33 405.36,326.85 405.8,329.85 406.23,329.67 406.67,330.37 407.11,327.92 407.55,329.78 407.99,327.69 408.42,324.23 408.86,321.05 409.3,320.78 409.88,324.24 410.47,319.15 410.91,318.91 411.34,325.86 411.78,327.49 412.22,320.5 412.66,321.09 413.09,318.68 413.53,317.91 413.97,316.07 414.55,316.38 415.14,308.71 415.72,317.06 416.31,318.46 416.74,316.03 417.18,321.53 417.62,320.89 418.06,321.73 418.5,323.14 418.93,323.44 419.37,326.25 419.81,326.79 420.25,325.64 420.69,323.95 421.12,327.75 421.56,330.88 422,331.41 422.44,332.06 422.88,330.25 423.31,331.62 423.75,329.78 424.19,329.44 424.63,332.03 425.07,333.67 425.5,330.95 425.94,323.63 426.38,329.16 426.82,326.86 427.26,323.23 427.69,329.11 428.13,320.64 428.57,328.62 429.01,330.3 429.45,328.68 429.88,329.21 430.32,326.35 430.76,327.95 431.2,328.18 431.64,325.94 432.07,326.65 432.51,327.07 432.95,328.57 433.39,329.36 433.82,327.38 434.26,329.61 434.7,328.45 435.14,328.69 435.58,327.16 436.16,329.42 436.74,330.22 437.18,333.83 437.62,331.55 438.06,338.49 438.5,335.17 438.5,351.52 438.06,348.66 437.62,345.92 437.18,342.33 436.74,342.57 436.16,345.34 435.58,343.15 435.14,338.06 434.7,339.27 434.26,339.51 433.82,341.07 433.39,340.64 432.95,337.8 432.51,339.45 432.07,338.06 431.64,341.26 431.2,344.82 430.76,342.58 430.32,338.77 429.88,343.52 429.45,343.75 429.01,340.96 428.57,340.48 428.13,337.03 427.69,339.14 427.26,335.23 426.82,335.7 426.38,337.18 425.94,337.75 425.5,340.99 425.07,345.67 424.63,342.89 424.19,344.67 423.75,343.13 423.31,342.18 422.88,341.67 422.44,340.12 422,340.88 421.56,339.89 421.12,345.57 420.69,341.21 420.25,340.2 419.81,338.93 419.37,334.97 418.93,334.61 418.5,333.59 418.06,332.48 417.62,336.35 417.18,333.26 416.74,330.54 416.31,328.12 415.72,331.9 415.14,325.45 414.55,326.38 413.97,331.24 413.53,335.09 413.09,330.96 412.66,340.02 412.22,345.02 411.78,334.94 411.34,335.35 410.91,332.39 410.47,337.23 409.88,334.79 409.3,338.14 408.86,339.92 408.42,337.65 407.99,344.74 407.55,341.39 407.11,341.6 406.67,341.77 406.23,339.89 405.8,340.46 405.36,340.99 404.92,337.39 404.48,340.63 404.04,336.88 403.61,336.98 403.17,335.43 402.73,333.26 402.29,333.02 401.85,334.25 401.42,338.89 400.98,335.33 400.54,335.02 400.1,335.5 399.66,338.49 399.23,336.22 398.79,337.53 398.35,338.54 397.91,340.59 397.47,340.29 397.04,336.35 396.6,337.08 396.16,337.79 395.72,339.2 395.28,339.06 394.7,340.45 394.12,341.46 393.68,344.74 393.24,344.1 392.8,344.86 392.36,347.97 391.93,347.53 391.49,349.32 391.05,347.41 390.61,349.9 390.18,352.36 389.74,345.19 389.3,343.78 388.86,343.19 388.28,343.47 387.69,343.15 387.26,346.89 386.82,344 386.38,348.07 385.94,345.12 385.5,344.9 385.07,344.63 384.63,346.15 384.19,344.69 383.75,346.37 383.31,341.83 382.88,341.83 382.44,341.95 382,341.43 381.56,347.74 381.12,346.96 380.69,349.83 380.1,338.47 379.52,339.54 379.08,339.79 378.64,334.42 378.2,331.89 377.77,330.25 377.18,336.17 376.6,335.32 376.01,335.53 375.43,343.68 374.99,340.51 374.55,340.29 374.12,339.24 373.68,341.09 373.24,342.14 372.8,339.68 372.36,344.38 371.93,340.73 371.49,340.27 371.05,336.61 370.61,339.47 370.18,335.44 369.59,331.17 369.01,330.31 368.42,330.05 367.84,331.99 367.4,335.02 366.96,338.23 366.53,335.38 366.09,340.79 365.65,338.01 365.21,340.35 364.77,340.02 364.34,340.48" fill="#57429a" opacity="0.22"/>
<polyline points="364.34,333.72 364.67,333.21 365,332.71 365.34,332.2 365.67,331.75 366,331.32 366.34,330.9 366.67,330.56 367.01,330.51 367.34,330.47 367.67,330.29 368.01,329.12 368.34,327.94 368.67,326.77 369.01,326.79 369.34,328.41 369.67,330.03 370.01,331.07 370.34,331.56 370.68,332.06 371.01,332.65 371.34,333.6 371.68,332.72 372.01,331.84 372.34,331.57 372.68,331.35 373.01,331.14 373.35,330.38 373.68,329.31 374.03,328.35 374.38,327.62 374.73,327.2 375.08,326.79 375.43,326.3 375.78,326.8 376.13,327.3 376.48,327.75 376.83,327.88 377.18,328.02 377.52,328.04 377.85,327.96 378.18,327.87 378.52,327.77 378.85,327.83 379.18,327.96 379.52,328.09 379.85,328.49 380.19,329.39 380.52,330.3 380.85,331.18 381.19,331.72 381.52,332.26 381.85,332.8 382.19,332.48 382.52,331.99 382.86,331.49 383.19,331.12 383.52,330.9 383.86,330.68 384.19,330.48 384.52,330.75 384.86,331.01 385.19,331.27 385.52,331.75 385.86,332.27 386.19,332.79 386.53,333.53 386.86,333.93 387.19,334.34 387.53,334.38 387.86,333.46 388.19,332.53 388.53,331.61 388.86,331.67 389.19,331.25 389.53,330.83 389.86,330.26 390.2,329.63 390.53,329.01 390.86,328.55 391.2,328.37 391.53,328.19 391.86,327.99 392.2,327.63 392.53,327.26 392.87,326.89 393.2,325.46 393.53,323.73 393.87,322.84 394.2,322.52 394.53,322.79 394.87,323.06 395.2,323.49 395.53,324.55 395.87,325.62 396.2,326.68 396.54,326.97 396.87,327.17 397.2,327.38 397.54,327.02 397.87,326.29 398.2,325.56 398.54,325.17 398.87,325.54 399.21,325.91 399.54,326.28 399.87,326.65 400.21,327.02 400.54,327.39 400.87,326.96 401.21,326.41 401.54,325.85 401.87,325.43 402.21,325.21 402.54,324.98 402.88,324.75 403.21,324.65 403.54,324.55 403.88,324.45 404.21,324.09 404.54,323.69 404.88,323.28 405.21,322.88 405.55,322.49 405.88,322.1 406.21,321.77 406.55,321.64 406.88,321.5 407.21,321.37 407.55,321.28 407.88,321.7 408.21,322.12 408.55,322.44 408.88,322.69 409.22,322.95 409.55,323.43 409.88,324.35 410.22,325.26 410.55,326.15 410.88,326.57 411.22,326.98 411.55,327.39 411.89,327.39 412.22,327.25 412.55,327.78 412.89,328.78 413.22,330.36 413.55,331.94 413.89,333.42 414.22,334.35 414.55,335.28 414.89,334.21 415.22,332.84 415.56,331.41 415.89,329.99 416.22,328.9 416.56,328.06 416.89,327.22 417.22,327.42 417.56,327.26 417.89,327.09 418.23,326.93 418.56,327.87 418.89,328.84 419.23,329.82 419.56,329.48 419.89,328.74 420.23,328.01 420.56,327.21 420.89,326.32 421.23,325.43 421.56,324.6 421.9,325.04 422.23,325.49 422.56,325.94 422.9,326.75 423.23,327.68 423.56,328.6 423.9,329.07 424.23,328.9 424.57,328.73 424.9,328.7 425.23,329.23 425.57,329.75 425.9,330.28 426.23,330.01 426.57,329.31 426.9,328.62 427.23,328.6 427.57,329.06 427.9,329.51 428.24,329.78 428.57,329.62 428.9,329.46 429.24,329.29 429.57,328.35 429.9,327.41 430.24,326.47 430.57,326.46 430.91,326.83 431.24,327.87 431.57,328.51 431.91,328.58 432.24,328.65 432.57,328.83 432.91,329.89 433.24,330.96 433.57,332.02 433.91,332.71 434.24,333.32 434.58,333.92 434.91,334.47 435.24,334.95 435.58,335.44 435.91,335.96 436.24,336.01 436.58,336.07 436.91,336.13 437.25,336.61 437.58,337.13 437.91,337.64" fill="none" stroke="#ae9dcc" stroke-width="1.9" stroke-linejoin="round" stroke-linecap="round"/>
<polyline points="364.34,335.16 364.69,334.4 365.04,333.64 365.39,332.88 365.74,332.52 366.09,332.22 366.44,331.11 366.79,330.22 367.14,329.43 367.49,328.63 367.84,327.36 368.23,326.07 368.62,324.79 369.01,324.25 369.4,326.37 369.79,328.48 370.18,329.75 370.53,330.3 370.88,330.86 371.23,331.75 371.58,332.7 371.93,333.65 372.28,334.23 372.63,334.86 372.98,335.48 373.33,336.08 373.68,336.65 374.03,336.05 374.38,335.49 374.73,334.97 375.08,334.45 375.43,333.71 375.82,331.41 376.21,329.12 376.6,327.44 376.99,327.01 377.38,326.58 377.77,325.39 378.12,326.08 378.47,326.77 378.82,327.74 379.17,328.97 379.52,330.21 379.91,332.36 380.3,334.68 380.69,336.99 381.04,336.93 381.39,336.74 381.74,336.56 382.09,336.32 382.44,336.02 382.79,336.41 383.14,336.91 383.49,337.65 383.84,338.39 384.19,338.99 384.54,339.02 384.89,339.06 385.24,339.1 385.59,339.9 385.94,340.71 386.29,340.34 386.64,340.18 386.99,340.05 387.34,339.92 387.69,339.26 388.08,337.66 388.47,336.07 388.86,334.74 389.21,336.27 389.56,337.81 389.91,339.48 390.26,341.18 390.61,342.88 390.96,343.01 391.31,343.29 391.66,343.58 392.01,343.63 392.36,343.45 392.72,342.57 393.07,341.63 393.42,340.59 393.77,339.55 394.12,338.59 394.51,337.68 394.9,336.76 395.28,335.69 395.64,334.83 395.99,333.97 396.34,333.03 396.69,331.86 397.04,330.7 397.39,330.77 397.74,331.25 398.09,331.72 398.44,332.19 398.79,333.05 399.14,332.74 399.49,332.42 399.84,331.22 400.19,329.89 400.54,328.55 400.89,328.29 401.24,328.35 401.59,328.42 401.94,327.88 402.29,326.91 402.64,327.35 402.99,327.99 403.34,328.89 403.69,329.78 404.04,330.83 404.39,331.97 404.74,333.12 405.09,334.13 405.45,334.48 405.8,334.84 406.15,334.29 406.5,334.8 406.85,335.31 407.2,335.83 407.55,335.63 407.9,334.64 408.25,333.66 408.6,332.41 408.95,331.08 409.3,329.75 409.69,328.63 410.08,327.57 410.47,326.51 410.82,327.34 411.17,328.2 411.52,329.06 411.87,330.21 412.22,331.52 412.57,330.02 412.92,328.33 413.27,326.48 413.62,324.62 413.97,322.71 414.36,321.18 414.75,319.64 415.14,318.4 415.53,320.52 415.92,322.65 416.31,324.38 416.66,324.9 417.01,325.42 417.36,326.21 417.71,327.14 418.06,328.08 418.41,328.82 418.76,329.11 419.11,329.41 419.46,329.92 419.81,330.82 420.16,331.25 420.51,331.75 420.86,332.52 421.21,333.29 421.56,334.05 421.91,334.61 422.26,335.17 422.61,335.73 422.96,335.99 423.31,336.24 423.66,336.25 424.01,336.76 424.36,337.39 424.72,338.02 425.07,338.11 425.42,336.28 425.77,334.45 426.12,332.89 426.47,331.58 426.82,330.27 427.17,331.09 427.52,331.94 427.87,332.79 428.22,333.66 428.57,334.59 428.92,334.58 429.27,334.55 429.62,334.38 429.97,334.2 430.32,334.02 430.67,333.19 431.02,332.34 431.37,331.49 431.72,331.02 432.07,330.62 432.42,331.63 432.77,332.9 433.12,334.29 433.47,335.68 433.82,336.83 434.18,336.14 434.53,335.44 434.88,334.63 435.23,333.62 435.58,332.62 435.97,333.77 436.36,334.79 436.74,335.8 437.09,337.55 437.45,339.75 437.8,341.96 438.15,344.11 438.5,346.15" fill="none" stroke="#57429a" stroke-width="2.1" stroke-linejoin="round" stroke-linecap="round"/>
<line x1="364.3" y1="244.5" x2="364.3" y2="391.7" stroke="#8a8a8a" stroke-width="1"/>
<line x1="364.3" y1="391.7" x2="439.5" y2="391.7" stroke="#8a8a8a" stroke-width="1"/>
<line x1="364.3" y1="391.7" x2="366.9" y2="391.7" stroke="#8a8a8a" stroke-width="0.7"/>
<text x="358.9" y="394.3" font-size="8.1" text-anchor="end">0</text>
<line x1="364.3" y1="376.98" x2="366.9" y2="376.98" stroke="#8a8a8a" stroke-width="0.7"/>
<text x="358.9" y="379.58" font-size="8.1" text-anchor="end">0.1</text>
<line x1="364.3" y1="362.26" x2="366.9" y2="362.26" stroke="#8a8a8a" stroke-width="0.7"/>
<text x="358.9" y="364.86" font-size="8.1" text-anchor="end">0.2</text>
<line x1="364.3" y1="347.54" x2="366.9" y2="347.54" stroke="#8a8a8a" stroke-width="0.7"/>
<text x="358.9" y="350.14" font-size="8.1" text-anchor="end">0.3</text>
<line x1="364.3" y1="332.82" x2="366.9" y2="332.82" stroke="#8a8a8a" stroke-width="0.7"/>
<text x="358.9" y="335.42" font-size="8.1" text-anchor="end">0.4</text>
<line x1="364.3" y1="318.1" x2="366.9" y2="318.1" stroke="#8a8a8a" stroke-width="0.7"/>
<text x="358.9" y="320.7" font-size="8.1" text-anchor="end">0.5</text>
<line x1="364.3" y1="303.38" x2="366.9" y2="303.38" stroke="#8a8a8a" stroke-width="0.7"/>
<text x="358.9" y="305.98" font-size="8.1" text-anchor="end">0.6</text>
<line x1="364.3" y1="288.66" x2="366.9" y2="288.66" stroke="#8a8a8a" stroke-width="0.7"/>
<text x="358.9" y="291.26" font-size="8.1" text-anchor="end">0.7</text>
<line x1="364.3" y1="273.94" x2="366.9" y2="273.94" stroke="#8a8a8a" stroke-width="0.7"/>
<text x="358.9" y="276.54" font-size="8.1" text-anchor="end">0.8</text>
<line x1="364.3" y1="259.22" x2="366.9" y2="259.22" stroke="#8a8a8a" stroke-width="0.7"/>
<text x="358.9" y="261.82" font-size="8.1" text-anchor="end">0.9</text>
<line x1="364.3" y1="244.5" x2="366.9" y2="244.5" stroke="#8a8a8a" stroke-width="0.7"/>
<text x="358.9" y="247.1" font-size="8.1" text-anchor="end">1</text>
<line x1="364.3" y1="391.7" x2="364.3" y2="389.7" stroke="#8a8a8a" stroke-width="0.7"/>
<line x1="376.83" y1="391.7" x2="376.83" y2="389.7" stroke="#8a8a8a" stroke-width="0.7"/>
<line x1="389.37" y1="391.7" x2="389.37" y2="389.7" stroke="#8a8a8a" stroke-width="0.7"/>
<line x1="401.9" y1="391.7" x2="401.9" y2="389.7" stroke="#8a8a8a" stroke-width="0.7"/>
<line x1="414.43" y1="391.7" x2="414.43" y2="389.7" stroke="#8a8a8a" stroke-width="0.7"/>
<line x1="426.97" y1="391.7" x2="426.97" y2="389.7" stroke="#8a8a8a" stroke-width="0.7"/>
<line x1="439.5" y1="391.7" x2="439.5" y2="389.7" stroke="#8a8a8a" stroke-width="0.7"/>
<text x="364.3" y="400.7" font-size="8.1" text-anchor="middle">0</text>
<text x="389.37" y="400.7" font-size="8.1" text-anchor="middle">60</text>
<text x="414.43" y="400.7" font-size="8.1" text-anchor="middle">120</text>
<text x="439.5" y="400.7" font-size="8.1" text-anchor="middle">180</text>
<text x="401.4" y="413.9" font-size="9" text-anchor="middle">Seconds</text>
<text transform="translate(340,316) rotate(-90)" font-size="9" text-anchor="middle">Fraction reversing</text>
<text x="402" y="240.7" font-size="8.4" text-anchor="middle">RIV::GtACR2</text>
<line x1="375.6" y1="256.4" x2="383.6" y2="256.4" stroke="#ae9dcc" stroke-width="1.2"/>
<line x1="375.6" y1="266" x2="383.6" y2="266" stroke="#57429a" stroke-width="1.6"/>
<text x="387.2" y="259" font-size="8.1">ATR –</text>
<text x="387.2" y="268.6" font-size="8.1">ATR +</text>
<line x1="412.6" y1="253" x2="412.6" y2="269.4" stroke="#333" stroke-width="0.7"/>
<polygon points="416.1,257.55 417.11,256.9 417.41,255.74 418.34,256.5 419.54,256.43 419.1,257.55 419.54,258.67 418.34,258.6 417.41,259.36 417.11,258.2" fill="#222"/>
<polygon points="416.1,262.05 417.11,261.4 417.41,260.24 418.34,261 419.54,260.93 419.1,262.05 419.54,263.17 418.34,263.1 417.41,263.86 417.11,262.7" fill="#222"/>
<polygon points="154.9,0 145.3,12.8 151.3,12.8 148,25.2 157.8,12.8 152.8,12.4" fill="#fdd20a"/>
<line x1="168.8" y1="17.2" x2="160.4" y2="25.9" stroke="#111" stroke-width="1.1"/>
<line x1="157" y1="23" x2="163.6" y2="29.4" stroke="#111" stroke-width="1.1"/>
<circle cx="146.5" cy="40.1" r="12.8" fill="#6aaee0"/>
<text x="146.5" y="44.4" font-size="8.5" text-anchor="middle" fill="#1d2630">SMB</text>
<polygon points="492.9,0.6 483.3,13.4 489.3,13.4 486,25.8 495.8,13.4 490.8,13" fill="#fdd20a"/>
<line x1="506.8" y1="17.8" x2="498.4" y2="26.5" stroke="#111" stroke-width="1.1"/>
<line x1="495" y1="23.6" x2="501.6" y2="30" stroke="#111" stroke-width="1.1"/>
<circle cx="484.5" cy="40.7" r="12.8" fill="#ee7e87"/>
<text x="484.5" y="45" font-size="8.5" text-anchor="middle" fill="#1d2630">SAA</text>
<polygon points="146.6,211.1 137,223.9 143,223.9 139.7,236.3 149.5,223.9 144.5,223.5" fill="#fdd20a"/>
<line x1="160.5" y1="228.3" x2="152.1" y2="237" stroke="#111" stroke-width="1.1"/>
<line x1="148.7" y1="234.1" x2="155.3" y2="240.5" stroke="#111" stroke-width="1.1"/>
<circle cx="138.2" cy="251.2" r="12.8" fill="#b27fc0"/>
<text x="138.2" y="255.5" font-size="8.5" text-anchor="middle" fill="#1d2630">SMD</text>
<polygon points="487.1,210.4 477.5,223.2 483.5,223.2 480.2,235.6 490,223.2 485,222.8" fill="#fdd20a"/>
<line x1="501" y1="227.6" x2="492.6" y2="236.3" stroke="#111" stroke-width="1.1"/>
<line x1="489.2" y1="233.4" x2="495.8" y2="239.8" stroke="#111" stroke-width="1.1"/>
<circle cx="478.7" cy="250.5" r="12.8" fill="#8a87bb"/>
<text x="478.7" y="254.8" font-size="8.5" text-anchor="middle" fill="#1d2630">RIV</text>
<rect x="146.2" y="121.14" width="20.2" height="61.56" fill="#9dd6e6"/>
<rect x="174" y="111.96" width="19.6" height="70.74" fill="#1c6cb4"/>
<circle cx="160.52" cy="117.66" r="0.8" fill="#666666"/>
<circle cx="152.38" cy="117.23" r="0.8" fill="#666666"/>
<circle cx="158.73" cy="124.09" r="0.8" fill="#666666"/>
<circle cx="160.92" cy="121.06" r="0.8" fill="#666666"/>
<circle cx="161.67" cy="120.6" r="0.8" fill="#666666"/>
<circle cx="155.22" cy="120.78" r="0.8" fill="#666666"/>
<circle cx="155.43" cy="121.13" r="0.8" fill="#666666"/>
<circle cx="159.84" cy="121.31" r="0.8" fill="#666666"/>
<circle cx="162.72" cy="120.27" r="0.8" fill="#666666"/>
<circle cx="148.71" cy="128.2" r="0.8" fill="#666666"/>
<circle cx="163.33" cy="119.93" r="0.8" fill="#666666"/>
<circle cx="151.77" cy="122.52" r="0.8" fill="#666666"/>
<circle cx="148.76" cy="121.86" r="0.8" fill="#666666"/>
<circle cx="155.31" cy="125.11" r="0.8" fill="#666666"/>
<circle cx="152.03" cy="120.67" r="0.8" fill="#666666"/>
<line x1="156.3" y1="118.98" x2="156.3" y2="123.3" stroke="#222" stroke-width="0.6"/>
<line x1="154.7" y1="118.98" x2="157.9" y2="118.98" stroke="#222" stroke-width="0.6"/>
<line x1="154.7" y1="123.3" x2="157.9" y2="123.3" stroke="#222" stroke-width="0.6"/>
<circle cx="176.7" cy="102.28" r="0.8" fill="#666666"/>
<circle cx="177.16" cy="114.7" r="0.8" fill="#666666"/>
<circle cx="186.52" cy="108.5" r="0.8" fill="#666666"/>
<circle cx="180.73" cy="117.76" r="0.8" fill="#666666"/>
<circle cx="185.1" cy="116.41" r="0.8" fill="#666666"/>
<circle cx="178.33" cy="115.45" r="0.8" fill="#666666"/>
<circle cx="187.37" cy="115.71" r="0.8" fill="#666666"/>
<circle cx="191.72" cy="110.21" r="0.8" fill="#666666"/>
<circle cx="182.92" cy="107.03" r="0.8" fill="#666666"/>
<circle cx="176.37" cy="113.4" r="0.8" fill="#666666"/>
<circle cx="183.24" cy="119.38" r="0.8" fill="#666666"/>
<circle cx="181.88" cy="112.15" r="0.8" fill="#666666"/>
<circle cx="184.21" cy="97.91" r="0.8" fill="#666666"/>
<circle cx="179.58" cy="106.14" r="0.8" fill="#666666"/>
<circle cx="181" cy="119.47" r="0.8" fill="#666666"/>
<line x1="183.8" y1="108.72" x2="183.8" y2="115.2" stroke="#222" stroke-width="0.6"/>
<line x1="182.2" y1="108.72" x2="185.4" y2="108.72" stroke="#222" stroke-width="0.6"/>
<line x1="182.2" y1="115.2" x2="185.4" y2="115.2" stroke="#222" stroke-width="0.6"/>
<line x1="136.3" y1="74.7" x2="136.3" y2="182.7" stroke="#a9a9a9" stroke-width="1.2"/>
<line x1="136.3" y1="182.7" x2="202.9" y2="182.7" stroke="#a9a9a9" stroke-width="1.2"/>
<line x1="136.3" y1="182.7" x2="138.7" y2="182.7" stroke="#777" stroke-width="0.8"/>
<text x="131.6" y="185.3" font-size="7.8" text-anchor="end">0</text>
<line x1="136.3" y1="161.1" x2="138.7" y2="161.1" stroke="#777" stroke-width="0.8"/>
<text x="131.6" y="163.7" font-size="7.8" text-anchor="end">2</text>
<line x1="136.3" y1="139.5" x2="138.7" y2="139.5" stroke="#777" stroke-width="0.8"/>
<text x="131.6" y="142.1" font-size="7.8" text-anchor="end">4</text>
<line x1="136.3" y1="117.9" x2="138.7" y2="117.9" stroke="#777" stroke-width="0.8"/>
<text x="131.6" y="120.5" font-size="7.8" text-anchor="end">6</text>
<line x1="136.3" y1="96.3" x2="138.7" y2="96.3" stroke="#777" stroke-width="0.8"/>
<text x="131.6" y="98.9" font-size="7.8" text-anchor="end">8</text>
<line x1="136.3" y1="74.7" x2="138.7" y2="74.7" stroke="#777" stroke-width="0.8"/>
<text x="131.6" y="77.3" font-size="7.8" text-anchor="end">10</text>
<text x="167" y="70" font-size="8.45" text-anchor="middle">SMB::GtACR2</text>
<polygon points="164.93,98 165.64,99.11 166.92,99.45 166.08,100.48 166.16,101.8 164.93,101.32 163.69,101.8 163.77,100.48 162.93,99.45 164.21,99.11" fill="#222"/>
<polygon points="169.68,98 170.39,99.11 171.67,99.45 170.83,100.48 170.91,101.8 169.68,101.32 168.44,101.8 168.52,100.48 167.68,99.45 168.96,99.11" fill="#222"/>
<text x="156.3" y="193.5" font-size="8.3" text-anchor="middle">ATR –</text>
<text x="183.8" y="193.5" font-size="8.3" text-anchor="middle">ATR +</text>
<text transform="translate(120.3,128.9) rotate(-90)" font-size="7.5" text-anchor="middle">Reversal length (s)</text>
<rect x="258" y="89.5" width="19.2" height="95" fill="#9dd6e6"/>
<rect x="285.5" y="93.67" width="19.7" height="90.83" fill="#1c6cb4"/>
<circle cx="265.52" cy="89.16" r="0.8" fill="#666666"/>
<circle cx="269.26" cy="84.99" r="0.8" fill="#666666"/>
<circle cx="259.81" cy="90.44" r="0.8" fill="#666666"/>
<circle cx="273" cy="90.44" r="0.8" fill="#666666"/>
<circle cx="275.53" cy="89.66" r="0.8" fill="#666666"/>
<circle cx="267.12" cy="86.87" r="0.8" fill="#666666"/>
<circle cx="269.83" cy="87.38" r="0.8" fill="#666666"/>
<circle cx="262.01" cy="93.02" r="0.8" fill="#666666"/>
<circle cx="267.97" cy="94.31" r="0.8" fill="#666666"/>
<circle cx="270.34" cy="88.44" r="0.8" fill="#666666"/>
<circle cx="271.73" cy="103.11" r="0.8" fill="#666666"/>
<circle cx="264.42" cy="91.69" r="0.8" fill="#666666"/>
<circle cx="273.45" cy="103.83" r="0.8" fill="#666666"/>
<circle cx="271.1" cy="94.26" r="0.8" fill="#666666"/>
<circle cx="271.03" cy="85.46" r="0.8" fill="#666666"/>
<line x1="267.6" y1="87" x2="267.6" y2="92" stroke="#222" stroke-width="0.6"/>
<line x1="266" y1="87" x2="269.2" y2="87" stroke="#222" stroke-width="0.6"/>
<line x1="266" y1="92" x2="269.2" y2="92" stroke="#222" stroke-width="0.6"/>
<circle cx="293.69" cy="93.59" r="0.8" fill="#666666"/>
<circle cx="289.83" cy="92.83" r="0.8" fill="#666666"/>
<circle cx="302.04" cy="91.99" r="0.8" fill="#666666"/>
<circle cx="300.16" cy="92.92" r="0.8" fill="#666666"/>
<circle cx="295.94" cy="93.54" r="0.8" fill="#666666"/>
<circle cx="291.78" cy="94.94" r="0.8" fill="#666666"/>
<circle cx="290.78" cy="93.27" r="0.8" fill="#666666"/>
<circle cx="302.19" cy="92.91" r="0.8" fill="#666666"/>
<circle cx="300.16" cy="92.11" r="0.8" fill="#666666"/>
<circle cx="292.31" cy="94.9" r="0.8" fill="#666666"/>
<circle cx="299.06" cy="90.21" r="0.8" fill="#666666"/>
<circle cx="301.43" cy="87.74" r="0.8" fill="#666666"/>
<circle cx="297.04" cy="96.06" r="0.8" fill="#666666"/>
<circle cx="295.45" cy="89.72" r="0.8" fill="#666666"/>
<circle cx="294.93" cy="95.07" r="0.8" fill="#666666"/>
<line x1="295.35" y1="92" x2="295.35" y2="95.33" stroke="#222" stroke-width="0.6"/>
<line x1="293.75" y1="92" x2="296.95" y2="92" stroke="#222" stroke-width="0.6"/>
<line x1="293.75" y1="95.33" x2="296.95" y2="95.33" stroke="#222" stroke-width="0.6"/>
<line x1="248.5" y1="76" x2="248.5" y2="184.5" stroke="#a9a9a9" stroke-width="1.2"/>
<line x1="248.5" y1="184.5" x2="314.7" y2="184.5" stroke="#a9a9a9" stroke-width="1.2"/>
<line x1="248.5" y1="184.5" x2="250.9" y2="184.5" stroke="#777" stroke-width="0.8"/>
<text x="243.8" y="187.1" font-size="7.8" text-anchor="end">0</text>
<line x1="248.5" y1="167.83" x2="250.9" y2="167.83" stroke="#777" stroke-width="0.8"/>
<text x="243.8" y="170.43" font-size="7.8" text-anchor="end">20</text>
<line x1="248.5" y1="151.17" x2="250.9" y2="151.17" stroke="#777" stroke-width="0.8"/>
<text x="243.8" y="153.77" font-size="7.8" text-anchor="end">40</text>
<line x1="248.5" y1="134.5" x2="250.9" y2="134.5" stroke="#777" stroke-width="0.8"/>
<text x="243.8" y="137.1" font-size="7.8" text-anchor="end">60</text>
<line x1="248.5" y1="117.83" x2="250.9" y2="117.83" stroke="#777" stroke-width="0.8"/>
<text x="243.8" y="120.43" font-size="7.8" text-anchor="end">80</text>
<line x1="248.5" y1="101.17" x2="250.9" y2="101.17" stroke="#777" stroke-width="0.8"/>
<text x="243.8" y="103.77" font-size="7.8" text-anchor="end">100</text>
<line x1="248.5" y1="84.5" x2="250.9" y2="84.5" stroke="#777" stroke-width="0.8"/>
<text x="243.8" y="87.1" font-size="7.8" text-anchor="end">120</text>
<text x="281" y="69.5" font-size="7.2" text-anchor="middle">SMB::GtACR2</text>
<polygon points="281,77.4 281.72,78.51 283,78.85 282.16,79.88 282.23,81.2 281,80.72 279.77,81.2 279.84,79.88 279,78.85 280.28,78.51" fill="#222"/>
<text x="267.6" y="194" font-size="8.3" text-anchor="middle">ATR –</text>
<text x="295.35" y="194" font-size="8.3" text-anchor="middle">ATR +</text>
<text transform="translate(215.5,132.5) rotate(-90)" font-size="8.9" text-anchor="middle">Postreversal</text>
<text transform="translate(225,132.5) rotate(-90)" font-size="8.9" text-anchor="middle">turn angle (°)</text>
<rect x="492.1" y="121.54" width="19.1" height="60.96" fill="#f3a3a7"/>
<rect x="519.6" y="99.42" width="19.4" height="83.08" fill="#b81d2e"/>
<circle cx="506.37" cy="125.35" r="0.8" fill="#666666"/>
<circle cx="508.73" cy="125.25" r="0.8" fill="#666666"/>
<circle cx="494.11" cy="122" r="0.8" fill="#666666"/>
<circle cx="501.1" cy="128.84" r="0.8" fill="#666666"/>
<circle cx="508.06" cy="117.15" r="0.8" fill="#666666"/>
<circle cx="495.46" cy="123.17" r="0.8" fill="#666666"/>
<circle cx="502.35" cy="123.93" r="0.8" fill="#666666"/>
<circle cx="502.83" cy="121.07" r="0.8" fill="#666666"/>
<circle cx="498.12" cy="119.28" r="0.8" fill="#666666"/>
<circle cx="505.9" cy="113.99" r="0.8" fill="#666666"/>
<circle cx="506.4" cy="128.69" r="0.8" fill="#666666"/>
<circle cx="503.53" cy="129.09" r="0.8" fill="#666666"/>
<circle cx="493.68" cy="129.33" r="0.8" fill="#666666"/>
<circle cx="497" cy="114.86" r="0.8" fill="#666666"/>
<circle cx="509.37" cy="127.6" r="0.8" fill="#666666"/>
<line x1="501.65" y1="118.3" x2="501.65" y2="124.77" stroke="#222" stroke-width="0.6"/>
<line x1="500.05" y1="118.3" x2="503.25" y2="118.3" stroke="#222" stroke-width="0.6"/>
<line x1="500.05" y1="124.77" x2="503.25" y2="124.77" stroke="#222" stroke-width="0.6"/>
<circle cx="529.06" cy="96.72" r="0.8" fill="#666666"/>
<circle cx="525.49" cy="109.07" r="0.8" fill="#666666"/>
<circle cx="528.82" cy="91.46" r="0.8" fill="#666666"/>
<circle cx="533.46" cy="99.39" r="0.8" fill="#666666"/>
<circle cx="525.66" cy="105.88" r="0.8" fill="#666666"/>
<circle cx="534.13" cy="92.8" r="0.8" fill="#666666"/>
<circle cx="529.91" cy="100.12" r="0.8" fill="#666666"/>
<circle cx="532.21" cy="104.95" r="0.8" fill="#666666"/>
<circle cx="534.18" cy="97.01" r="0.8" fill="#666666"/>
<circle cx="534.15" cy="101.61" r="0.8" fill="#666666"/>
<circle cx="534.81" cy="88.01" r="0.8" fill="#666666"/>
<circle cx="522.79" cy="99.34" r="0.8" fill="#666666"/>
<circle cx="534.18" cy="84.3" r="0.8" fill="#666666"/>
<circle cx="522.8" cy="95.8" r="0.8" fill="#666666"/>
<circle cx="531.46" cy="103.82" r="0.8" fill="#666666"/>
<line x1="529.3" y1="95.64" x2="529.3" y2="103.19" stroke="#222" stroke-width="0.6"/>
<line x1="527.7" y1="95.64" x2="530.9" y2="95.64" stroke="#222" stroke-width="0.6"/>
<line x1="527.7" y1="103.19" x2="530.9" y2="103.19" stroke="#222" stroke-width="0.6"/>
<line x1="482.4" y1="74.6" x2="482.4" y2="182.5" stroke="#a9a9a9" stroke-width="1.2"/>
<line x1="482.4" y1="182.5" x2="549" y2="182.5" stroke="#a9a9a9" stroke-width="1.2"/>
<line x1="482.4" y1="182.5" x2="484.8" y2="182.5" stroke="#777" stroke-width="0.8"/>
<text x="477.7" y="185.1" font-size="7.8" text-anchor="end">0</text>
<line x1="482.4" y1="160.92" x2="484.8" y2="160.92" stroke="#777" stroke-width="0.8"/>
<text x="477.7" y="163.52" font-size="7.8" text-anchor="end">2</text>
<line x1="482.4" y1="139.34" x2="484.8" y2="139.34" stroke="#777" stroke-width="0.8"/>
<text x="477.7" y="141.94" font-size="7.8" text-anchor="end">4</text>
<line x1="482.4" y1="117.76" x2="484.8" y2="117.76" stroke="#777" stroke-width="0.8"/>
<text x="477.7" y="120.36" font-size="7.8" text-anchor="end">6</text>
<line x1="482.4" y1="96.18" x2="484.8" y2="96.18" stroke="#777" stroke-width="0.8"/>
<text x="477.7" y="98.78" font-size="7.8" text-anchor="end">8</text>
<line x1="482.4" y1="74.6" x2="484.8" y2="74.6" stroke="#777" stroke-width="0.8"/>
<text x="477.7" y="77.2" font-size="7.8" text-anchor="end">10</text>
<text x="514.7" y="68.4" font-size="8.4" text-anchor="middle">SAA::GtACR2</text>
<polygon points="503.38,79.8 504.09,80.91 505.37,81.25 504.53,82.28 504.61,83.6 503.38,83.12 502.14,83.6 502.22,82.28 501.38,81.25 502.66,80.91" fill="#222"/>
<polygon points="508.12,79.8 508.84,80.91 510.12,81.25 509.28,82.28 509.36,83.6 508.12,83.12 506.89,83.6 506.97,82.28 506.13,81.25 507.41,80.91" fill="#222"/>
<polygon points="512.88,79.8 513.59,80.91 514.87,81.25 514.03,82.28 514.11,83.6 512.88,83.12 511.64,83.6 511.72,82.28 510.88,81.25 512.16,80.91" fill="#222"/>
<polygon points="517.62,79.8 518.34,80.91 519.62,81.25 518.78,82.28 518.86,83.6 517.62,83.12 516.39,83.6 516.47,82.28 515.63,81.25 516.91,80.91" fill="#222"/>
<text x="501.65" y="192.7" font-size="8.3" text-anchor="middle">ATR –</text>
<text x="529.3" y="192.7" font-size="8.3" text-anchor="middle">ATR +</text>
<text transform="translate(466,129.6) rotate(-90)" font-size="8.9" text-anchor="middle">Reversal length (s)</text>
<rect x="607.2" y="90" width="19.8" height="93.7" fill="#f3a3a7"/>
<rect x="635.2" y="98.3" width="19.5" height="85.4" fill="#b81d2e"/>
<circle cx="619.51" cy="90.57" r="0.8" fill="#666666"/>
<circle cx="610.26" cy="88.87" r="0.8" fill="#666666"/>
<circle cx="610.03" cy="92.06" r="0.8" fill="#666666"/>
<circle cx="617.22" cy="90.48" r="0.8" fill="#666666"/>
<circle cx="610.22" cy="87.71" r="0.8" fill="#666666"/>
<circle cx="610.55" cy="89.45" r="0.8" fill="#666666"/>
<circle cx="611.08" cy="93.69" r="0.8" fill="#666666"/>
<circle cx="612.67" cy="88.11" r="0.8" fill="#666666"/>
<circle cx="618.33" cy="93.74" r="0.8" fill="#666666"/>
<circle cx="624.72" cy="92.2" r="0.8" fill="#666666"/>
<circle cx="622.84" cy="96.85" r="0.8" fill="#666666"/>
<circle cx="611.41" cy="93.62" r="0.8" fill="#666666"/>
<circle cx="614.04" cy="95.9" r="0.8" fill="#666666"/>
<circle cx="611.99" cy="86.64" r="0.8" fill="#666666"/>
<circle cx="619.32" cy="89.75" r="0.8" fill="#666666"/>
<line x1="617.1" y1="88.35" x2="617.1" y2="91.66" stroke="#222" stroke-width="0.6"/>
<line x1="615.5" y1="88.35" x2="618.7" y2="88.35" stroke="#222" stroke-width="0.6"/>
<line x1="615.5" y1="91.66" x2="618.7" y2="91.66" stroke="#222" stroke-width="0.6"/>
<circle cx="638.97" cy="97.47" r="0.8" fill="#666666"/>
<circle cx="648.23" cy="92.69" r="0.8" fill="#666666"/>
<circle cx="652.94" cy="96.86" r="0.8" fill="#666666"/>
<circle cx="640.3" cy="97.45" r="0.8" fill="#666666"/>
<circle cx="644.2" cy="99.84" r="0.8" fill="#666666"/>
<circle cx="644.87" cy="100.2" r="0.8" fill="#666666"/>
<circle cx="638.38" cy="96.82" r="0.8" fill="#666666"/>
<circle cx="640.7" cy="94.4" r="0.8" fill="#666666"/>
<circle cx="643.47" cy="96.57" r="0.8" fill="#666666"/>
<circle cx="643.02" cy="92.13" r="0.8" fill="#666666"/>
<circle cx="641.08" cy="102.59" r="0.8" fill="#666666"/>
<circle cx="637.96" cy="90.94" r="0.8" fill="#666666"/>
<circle cx="642.99" cy="95.87" r="0.8" fill="#666666"/>
<circle cx="642.37" cy="95.33" r="0.8" fill="#666666"/>
<circle cx="644.91" cy="94.93" r="0.8" fill="#666666"/>
<line x1="644.95" y1="96.64" x2="644.95" y2="99.95" stroke="#222" stroke-width="0.6"/>
<line x1="643.35" y1="96.64" x2="646.55" y2="96.64" stroke="#222" stroke-width="0.6"/>
<line x1="643.35" y1="99.95" x2="646.55" y2="99.95" stroke="#222" stroke-width="0.6"/>
<line x1="597.7" y1="76" x2="597.7" y2="183.7" stroke="#a9a9a9" stroke-width="1.2"/>
<line x1="597.7" y1="183.7" x2="664" y2="183.7" stroke="#a9a9a9" stroke-width="1.2"/>
<line x1="597.7" y1="183.7" x2="600.1" y2="183.7" stroke="#777" stroke-width="0.8"/>
<text x="593" y="186.3" font-size="7.8" text-anchor="end">0</text>
<line x1="597.7" y1="167.12" x2="600.1" y2="167.12" stroke="#777" stroke-width="0.8"/>
<text x="593" y="169.72" font-size="7.8" text-anchor="end">20</text>
<line x1="597.7" y1="150.53" x2="600.1" y2="150.53" stroke="#777" stroke-width="0.8"/>
<text x="593" y="153.13" font-size="7.8" text-anchor="end">40</text>
<line x1="597.7" y1="133.95" x2="600.1" y2="133.95" stroke="#777" stroke-width="0.8"/>
<text x="593" y="136.55" font-size="7.8" text-anchor="end">60</text>
<line x1="597.7" y1="117.37" x2="600.1" y2="117.37" stroke="#777" stroke-width="0.8"/>
<text x="593" y="119.97" font-size="7.8" text-anchor="end">80</text>
<line x1="597.7" y1="100.78" x2="600.1" y2="100.78" stroke="#777" stroke-width="0.8"/>
<text x="593" y="103.38" font-size="7.8" text-anchor="end">100</text>
<line x1="597.7" y1="84.2" x2="600.1" y2="84.2" stroke="#777" stroke-width="0.8"/>
<text x="593" y="86.8" font-size="7.8" text-anchor="end">120</text>
<text x="624.5" y="70.7" font-size="8.4" text-anchor="middle">SAA::GtACR2</text>
<polygon points="622.88,79.1 623.59,80.21 624.87,80.55 624.03,81.58 624.11,82.9 622.88,82.42 621.64,82.9 621.72,81.58 620.88,80.55 622.16,80.21" fill="#222"/>
<polygon points="627.62,79.1 628.34,80.21 629.62,80.55 628.78,81.58 628.86,82.9 627.62,82.42 626.39,82.9 626.47,81.58 625.63,80.55 626.91,80.21" fill="#222"/>
<polygon points="632.38,79.1 633.09,80.21 634.37,80.55 633.53,81.58 633.61,82.9 632.38,82.42 631.14,82.9 631.22,81.58 630.38,80.55 631.66,80.21" fill="#222"/>
<polygon points="637.12,79.1 637.84,80.21 639.12,80.55 638.28,81.58 638.36,82.9 637.12,82.42 635.89,82.9 635.97,81.58 635.13,80.55 636.41,80.21" fill="#222"/>
<text x="617.1" y="195.3" font-size="8.3" text-anchor="middle">ATR –</text>
<text x="644.95" y="195.3" font-size="8.3" text-anchor="middle">ATR +</text>
<text transform="translate(563.5,130) rotate(-90)" font-size="8.9" text-anchor="middle">Postreversal</text>
<text transform="translate(574,130) rotate(-90)" font-size="8.9" text-anchor="middle">turn angle (°)</text>
<rect x="146" y="333.06" width="19.7" height="58.64" fill="#d39bcb"/>
<rect x="174" y="309.62" width="19" height="82.08" fill="#6a1f66"/>
<circle cx="150.07" cy="334.58" r="0.8" fill="#666666"/>
<circle cx="161.71" cy="332.7" r="0.8" fill="#666666"/>
<circle cx="162.22" cy="331.14" r="0.8" fill="#666666"/>
<circle cx="149.14" cy="332.98" r="0.8" fill="#666666"/>
<circle cx="148.5" cy="335.17" r="0.8" fill="#666666"/>
<circle cx="153.91" cy="333.81" r="0.8" fill="#666666"/>
<circle cx="159.45" cy="333.57" r="0.8" fill="#666666"/>
<circle cx="150.36" cy="334.76" r="0.8" fill="#666666"/>
<circle cx="155.95" cy="333" r="0.8" fill="#666666"/>
<circle cx="157.3" cy="328.72" r="0.8" fill="#666666"/>
<circle cx="153.99" cy="330.17" r="0.8" fill="#666666"/>
<circle cx="149.48" cy="330.45" r="0.8" fill="#666666"/>
<circle cx="158.64" cy="334.87" r="0.8" fill="#666666"/>
<circle cx="154.6" cy="330.65" r="0.8" fill="#666666"/>
<circle cx="152.12" cy="336.85" r="0.8" fill="#666666"/>
<line x1="155.85" y1="331.44" x2="155.85" y2="334.68" stroke="#222" stroke-width="0.6"/>
<line x1="154.25" y1="331.44" x2="157.45" y2="331.44" stroke="#222" stroke-width="0.6"/>
<line x1="154.25" y1="334.68" x2="157.45" y2="334.68" stroke="#222" stroke-width="0.6"/>
<circle cx="184.75" cy="311.85" r="0.8" fill="#666666"/>
<circle cx="178.8" cy="310.69" r="0.8" fill="#666666"/>
<circle cx="185.96" cy="307.93" r="0.8" fill="#666666"/>
<circle cx="178.06" cy="313.64" r="0.8" fill="#666666"/>
<circle cx="179.5" cy="311.69" r="0.8" fill="#666666"/>
<circle cx="190.75" cy="309.89" r="0.8" fill="#666666"/>
<circle cx="189.26" cy="308.91" r="0.8" fill="#666666"/>
<circle cx="185.15" cy="309.64" r="0.8" fill="#666666"/>
<circle cx="186.3" cy="311.03" r="0.8" fill="#666666"/>
<circle cx="186.47" cy="309.69" r="0.8" fill="#666666"/>
<circle cx="177.63" cy="306.81" r="0.8" fill="#666666"/>
<circle cx="191.22" cy="305.32" r="0.8" fill="#666666"/>
<circle cx="185.31" cy="302.49" r="0.8" fill="#666666"/>
<circle cx="175.56" cy="315.48" r="0.8" fill="#666666"/>
<circle cx="190.56" cy="314.22" r="0.8" fill="#666666"/>
<line x1="183.5" y1="307.46" x2="183.5" y2="311.78" stroke="#222" stroke-width="0.6"/>
<line x1="181.9" y1="307.46" x2="185.1" y2="307.46" stroke="#222" stroke-width="0.6"/>
<line x1="181.9" y1="311.78" x2="185.1" y2="311.78" stroke="#222" stroke-width="0.6"/>
<line x1="137" y1="283.7" x2="137" y2="391.7" stroke="#a9a9a9" stroke-width="1.2"/>
<line x1="137" y1="391.7" x2="202.7" y2="391.7" stroke="#a9a9a9" stroke-width="1.2"/>
<line x1="137" y1="391.7" x2="139.4" y2="391.7" stroke="#777" stroke-width="0.8"/>
<text x="132.3" y="394.3" font-size="7.8" text-anchor="end">0</text>
<line x1="137" y1="370.1" x2="139.4" y2="370.1" stroke="#777" stroke-width="0.8"/>
<text x="132.3" y="372.7" font-size="7.8" text-anchor="end">2</text>
<line x1="137" y1="348.5" x2="139.4" y2="348.5" stroke="#777" stroke-width="0.8"/>
<text x="132.3" y="351.1" font-size="7.8" text-anchor="end">4</text>
<line x1="137" y1="326.9" x2="139.4" y2="326.9" stroke="#777" stroke-width="0.8"/>
<text x="132.3" y="329.5" font-size="7.8" text-anchor="end">6</text>
<line x1="137" y1="305.3" x2="139.4" y2="305.3" stroke="#777" stroke-width="0.8"/>
<text x="132.3" y="307.9" font-size="7.8" text-anchor="end">8</text>
<line x1="137" y1="283.7" x2="139.4" y2="283.7" stroke="#777" stroke-width="0.8"/>
<text x="132.3" y="286.3" font-size="7.8" text-anchor="end">10</text>
<text x="166.7" y="277.5" font-size="8.4" text-anchor="middle">SMD::GtACR2</text>
<polygon points="158.38,293.6 159.09,294.71 160.37,295.05 159.53,296.08 159.61,297.4 158.38,296.92 157.14,297.4 157.22,296.08 156.38,295.05 157.66,294.71" fill="#222"/>
<polygon points="163.12,293.6 163.84,294.71 165.12,295.05 164.28,296.08 164.36,297.4 163.12,296.92 161.89,297.4 161.97,296.08 161.13,295.05 162.41,294.71" fill="#222"/>
<polygon points="167.88,293.6 168.59,294.71 169.87,295.05 169.03,296.08 169.11,297.4 167.88,296.92 166.64,297.4 166.72,296.08 165.88,295.05 167.16,294.71" fill="#222"/>
<polygon points="172.62,293.6 173.34,294.71 174.62,295.05 173.78,296.08 173.86,297.4 172.62,296.92 171.39,297.4 171.47,296.08 170.63,295.05 171.91,294.71" fill="#222"/>
<text x="155.85" y="401" font-size="8.3" text-anchor="middle">ATR –</text>
<text x="183.5" y="401" font-size="8.3" text-anchor="middle">ATR +</text>
<text transform="translate(121,339.2) rotate(-90)" font-size="8.9" text-anchor="middle">Reversal length (s)</text>
<rect x="256" y="294.2" width="18.7" height="97.5" fill="#d39bcb"/>
<rect x="283.5" y="304.2" width="19.2" height="87.5" fill="#6a1f66"/>
<circle cx="272.14" cy="295.39" r="0.8" fill="#666666"/>
<circle cx="264.8" cy="293.83" r="0.8" fill="#666666"/>
<circle cx="260.3" cy="295.49" r="0.8" fill="#666666"/>
<circle cx="265.54" cy="294.26" r="0.8" fill="#666666"/>
<circle cx="258.86" cy="295.38" r="0.8" fill="#666666"/>
<circle cx="262.2" cy="295.46" r="0.8" fill="#666666"/>
<circle cx="268.45" cy="292.71" r="0.8" fill="#666666"/>
<circle cx="258.02" cy="293.24" r="0.8" fill="#666666"/>
<circle cx="267.81" cy="291.7" r="0.8" fill="#666666"/>
<circle cx="259.87" cy="293.11" r="0.8" fill="#666666"/>
<circle cx="265.8" cy="296.61" r="0.8" fill="#666666"/>
<circle cx="260.39" cy="296.35" r="0.8" fill="#666666"/>
<circle cx="257.83" cy="295.29" r="0.8" fill="#666666"/>
<circle cx="264.4" cy="293.99" r="0.8" fill="#666666"/>
<circle cx="265.66" cy="291.79" r="0.8" fill="#666666"/>
<line x1="265.35" y1="293.2" x2="265.35" y2="295.2" stroke="#222" stroke-width="0.6"/>
<line x1="263.75" y1="293.2" x2="266.95" y2="293.2" stroke="#222" stroke-width="0.6"/>
<line x1="263.75" y1="295.2" x2="266.95" y2="295.2" stroke="#222" stroke-width="0.6"/>
<circle cx="295.76" cy="306.41" r="0.8" fill="#666666"/>
<circle cx="287.38" cy="303.84" r="0.8" fill="#666666"/>
<circle cx="289.48" cy="302.72" r="0.8" fill="#666666"/>
<circle cx="298.07" cy="304.1" r="0.8" fill="#666666"/>
<circle cx="294.03" cy="304.96" r="0.8" fill="#666666"/>
<circle cx="295.68" cy="306.13" r="0.8" fill="#666666"/>
<circle cx="287.7" cy="303.19" r="0.8" fill="#666666"/>
<circle cx="299.6" cy="302.9" r="0.8" fill="#666666"/>
<circle cx="286.29" cy="301.57" r="0.8" fill="#666666"/>
<circle cx="290.49" cy="303.74" r="0.8" fill="#666666"/>
<circle cx="298.58" cy="306.32" r="0.8" fill="#666666"/>
<circle cx="286.07" cy="309.86" r="0.8" fill="#666666"/>
<circle cx="293.24" cy="301.65" r="0.8" fill="#666666"/>
<circle cx="300.89" cy="309.2" r="0.8" fill="#666666"/>
<circle cx="286.9" cy="301.36" r="0.8" fill="#666666"/>
<line x1="293.1" y1="302.95" x2="293.1" y2="305.45" stroke="#222" stroke-width="0.6"/>
<line x1="291.5" y1="302.95" x2="294.7" y2="302.95" stroke="#222" stroke-width="0.6"/>
<line x1="291.5" y1="305.45" x2="294.7" y2="305.45" stroke="#222" stroke-width="0.6"/>
<line x1="245.5" y1="283" x2="245.5" y2="391.7" stroke="#a9a9a9" stroke-width="1.2"/>
<line x1="245.5" y1="391.7" x2="312" y2="391.7" stroke="#a9a9a9" stroke-width="1.2"/>
<line x1="245.5" y1="391.7" x2="247.9" y2="391.7" stroke="#777" stroke-width="0.8"/>
<text x="240.8" y="394.3" font-size="7.8" text-anchor="end">0</text>
<line x1="245.5" y1="375.03" x2="247.9" y2="375.03" stroke="#777" stroke-width="0.8"/>
<text x="240.8" y="377.63" font-size="7.8" text-anchor="end">20</text>
<line x1="245.5" y1="358.37" x2="247.9" y2="358.37" stroke="#777" stroke-width="0.8"/>
<text x="240.8" y="360.97" font-size="7.8" text-anchor="end">40</text>
<line x1="245.5" y1="341.7" x2="247.9" y2="341.7" stroke="#777" stroke-width="0.8"/>
<text x="240.8" y="344.3" font-size="7.8" text-anchor="end">60</text>
<line x1="245.5" y1="325.03" x2="247.9" y2="325.03" stroke="#777" stroke-width="0.8"/>
<text x="240.8" y="327.63" font-size="7.8" text-anchor="end">80</text>
<line x1="245.5" y1="308.37" x2="247.9" y2="308.37" stroke="#777" stroke-width="0.8"/>
<text x="240.8" y="310.97" font-size="7.8" text-anchor="end">100</text>
<line x1="245.5" y1="291.7" x2="247.9" y2="291.7" stroke="#777" stroke-width="0.8"/>
<text x="240.8" y="294.3" font-size="7.8" text-anchor="end">120</text>
<text x="277" y="276.5" font-size="8.4" text-anchor="middle">SMD::GtACR2</text>
<polygon points="271.88,283.6 272.59,284.71 273.87,285.05 273.03,286.08 273.11,287.4 271.88,286.92 270.64,287.4 270.72,286.08 269.88,285.05 271.16,284.71" fill="#222"/>
<polygon points="276.62,283.6 277.34,284.71 278.62,285.05 277.78,286.08 277.86,287.4 276.62,286.92 275.39,287.4 275.47,286.08 274.63,285.05 275.91,284.71" fill="#222"/>
<polygon points="281.38,283.6 282.09,284.71 283.37,285.05 282.53,286.08 282.61,287.4 281.38,286.92 280.14,287.4 280.22,286.08 279.38,285.05 280.66,284.71" fill="#222"/>
<polygon points="286.12,283.6 286.84,284.71 288.12,285.05 287.28,286.08 287.36,287.4 286.12,286.92 284.89,287.4 284.97,286.08 284.13,285.05 285.41,284.71" fill="#222"/>
<text x="265.35" y="401.5" font-size="8.3" text-anchor="middle">ATR –</text>
<text x="300.1" y="401.5" font-size="8.3" text-anchor="middle">ATR +</text>
<text transform="translate(211.5,338.7) rotate(-90)" font-size="8.9" text-anchor="middle">Postreversal</text>
<text transform="translate(222.5,338.7) rotate(-90)" font-size="8.9" text-anchor="middle">turn angle (°)</text>
<rect x="487.5" y="329.01" width="20" height="61.99" fill="#ae9dcc"/>
<rect x="514.5" y="324.04" width="19.5" height="66.96" fill="#57429a"/>
<circle cx="500.45" cy="329.26" r="0.8" fill="#666666"/>
<circle cx="503.09" cy="324.64" r="0.8" fill="#666666"/>
<circle cx="491.85" cy="328.19" r="0.8" fill="#666666"/>
<circle cx="493.1" cy="327.09" r="0.8" fill="#666666"/>
<circle cx="498" cy="329.16" r="0.8" fill="#666666"/>
<circle cx="492.92" cy="330.52" r="0.8" fill="#666666"/>
<circle cx="502.9" cy="329.86" r="0.8" fill="#666666"/>
<circle cx="499.23" cy="326.07" r="0.8" fill="#666666"/>
<circle cx="491.85" cy="326.7" r="0.8" fill="#666666"/>
<circle cx="502.46" cy="321.94" r="0.8" fill="#666666"/>
<circle cx="502.72" cy="323.07" r="0.8" fill="#666666"/>
<circle cx="504.69" cy="324.13" r="0.8" fill="#666666"/>
<circle cx="493.61" cy="323.28" r="0.8" fill="#666666"/>
<circle cx="497.29" cy="322.31" r="0.8" fill="#666666"/>
<circle cx="498.53" cy="323.95" r="0.8" fill="#666666"/>
<line x1="497.5" y1="326.31" x2="497.5" y2="331.71" stroke="#222" stroke-width="0.6"/>
<line x1="495.9" y1="326.31" x2="499.1" y2="326.31" stroke="#222" stroke-width="0.6"/>
<line x1="495.9" y1="331.71" x2="499.1" y2="331.71" stroke="#222" stroke-width="0.6"/>
<circle cx="526.68" cy="319.87" r="0.8" fill="#666666"/>
<circle cx="531.3" cy="320.73" r="0.8" fill="#666666"/>
<circle cx="527.99" cy="324.39" r="0.8" fill="#666666"/>
<circle cx="526.79" cy="321.43" r="0.8" fill="#666666"/>
<circle cx="522.6" cy="325.74" r="0.8" fill="#666666"/>
<circle cx="528.69" cy="319.13" r="0.8" fill="#666666"/>
<circle cx="530.67" cy="322.25" r="0.8" fill="#666666"/>
<circle cx="521.98" cy="322.39" r="0.8" fill="#666666"/>
<circle cx="526.36" cy="324.44" r="0.8" fill="#666666"/>
<circle cx="525.07" cy="330.69" r="0.8" fill="#666666"/>
<circle cx="518.89" cy="320.13" r="0.8" fill="#666666"/>
<circle cx="518.22" cy="320.39" r="0.8" fill="#666666"/>
<circle cx="517.58" cy="326.84" r="0.8" fill="#666666"/>
<circle cx="531.9" cy="329.57" r="0.8" fill="#666666"/>
<circle cx="532.1" cy="325.48" r="0.8" fill="#666666"/>
<line x1="524.25" y1="320.8" x2="524.25" y2="327.28" stroke="#222" stroke-width="0.6"/>
<line x1="522.65" y1="320.8" x2="525.85" y2="320.8" stroke="#222" stroke-width="0.6"/>
<line x1="522.65" y1="327.28" x2="525.85" y2="327.28" stroke="#222" stroke-width="0.6"/>
<line x1="478.7" y1="283" x2="478.7" y2="391" stroke="#a9a9a9" stroke-width="1.2"/>
<line x1="478.7" y1="391" x2="544.5" y2="391" stroke="#a9a9a9" stroke-width="1.2"/>
<line x1="478.7" y1="391" x2="481.1" y2="391" stroke="#777" stroke-width="0.8"/>
<text x="474" y="393.6" font-size="7.8" text-anchor="end">0</text>
<line x1="478.7" y1="369.4" x2="481.1" y2="369.4" stroke="#777" stroke-width="0.8"/>
<text x="474" y="372" font-size="7.8" text-anchor="end">2</text>
<line x1="478.7" y1="347.8" x2="481.1" y2="347.8" stroke="#777" stroke-width="0.8"/>
<text x="474" y="350.4" font-size="7.8" text-anchor="end">4</text>
<line x1="478.7" y1="326.2" x2="481.1" y2="326.2" stroke="#777" stroke-width="0.8"/>
<text x="474" y="328.8" font-size="7.8" text-anchor="end">6</text>
<line x1="478.7" y1="304.6" x2="481.1" y2="304.6" stroke="#777" stroke-width="0.8"/>
<text x="474" y="307.2" font-size="7.8" text-anchor="end">8</text>
<line x1="478.7" y1="283" x2="481.1" y2="283" stroke="#777" stroke-width="0.8"/>
<text x="474" y="285.6" font-size="7.8" text-anchor="end">10</text>
<text x="510" y="277.5" font-size="8.4" text-anchor="middle">RIV::GtACR2</text>
<text x="497.5" y="401" font-size="8.3" text-anchor="middle">ATR –</text>
<text x="524.25" y="401" font-size="8.3" text-anchor="middle">ATR +</text>
<text transform="translate(463,338.7) rotate(-90)" font-size="8.9" text-anchor="middle">Reversal length (s)</text>
<rect x="605" y="293.17" width="19.7" height="98.33" fill="#ae9dcc"/>
<rect x="632" y="298.17" width="19.5" height="93.33" fill="#57429a"/>
<circle cx="618.63" cy="292.59" r="0.8" fill="#666666"/>
<circle cx="609.38" cy="293.3" r="0.8" fill="#666666"/>
<circle cx="620.92" cy="292.45" r="0.8" fill="#666666"/>
<circle cx="617.75" cy="293.23" r="0.8" fill="#666666"/>
<circle cx="610.69" cy="284.83" r="0.8" fill="#666666"/>
<circle cx="612.26" cy="305.77" r="0.8" fill="#666666"/>
<circle cx="611.06" cy="293.99" r="0.8" fill="#666666"/>
<circle cx="610.51" cy="296.21" r="0.8" fill="#666666"/>
<circle cx="619.61" cy="288.2" r="0.8" fill="#666666"/>
<circle cx="621.65" cy="302.95" r="0.8" fill="#666666"/>
<circle cx="610.55" cy="296.23" r="0.8" fill="#666666"/>
<circle cx="613.57" cy="297.54" r="0.8" fill="#666666"/>
<circle cx="615.89" cy="306.32" r="0.8" fill="#666666"/>
<circle cx="615.96" cy="299.77" r="0.8" fill="#666666"/>
<circle cx="617.18" cy="286.46" r="0.8" fill="#666666"/>
<line x1="614.85" y1="290.67" x2="614.85" y2="295.67" stroke="#222" stroke-width="0.6"/>
<line x1="613.25" y1="290.67" x2="616.45" y2="290.67" stroke="#222" stroke-width="0.6"/>
<line x1="613.25" y1="295.67" x2="616.45" y2="295.67" stroke="#222" stroke-width="0.6"/>
<circle cx="640.42" cy="299.81" r="0.8" fill="#666666"/>
<circle cx="640.9" cy="296.22" r="0.8" fill="#666666"/>
<circle cx="637.89" cy="300.91" r="0.8" fill="#666666"/>
<circle cx="643.91" cy="296.41" r="0.8" fill="#666666"/>
<circle cx="639.11" cy="296.29" r="0.8" fill="#666666"/>
<circle cx="636.02" cy="298.05" r="0.8" fill="#666666"/>
<circle cx="646.38" cy="298.25" r="0.8" fill="#666666"/>
<circle cx="649.05" cy="300.08" r="0.8" fill="#666666"/>
<circle cx="646.67" cy="298.27" r="0.8" fill="#666666"/>
<circle cx="634.19" cy="299.27" r="0.8" fill="#666666"/>
<circle cx="643.78" cy="302.08" r="0.8" fill="#666666"/>
<circle cx="637.34" cy="304.22" r="0.8" fill="#666666"/>
<circle cx="637.88" cy="304.04" r="0.8" fill="#666666"/>
<circle cx="639.31" cy="297.66" r="0.8" fill="#666666"/>
<circle cx="644.04" cy="302.53" r="0.8" fill="#666666"/>
<line x1="641.75" y1="296.92" x2="641.75" y2="299.42" stroke="#222" stroke-width="0.6"/>
<line x1="640.15" y1="296.92" x2="643.35" y2="296.92" stroke="#222" stroke-width="0.6"/>
<line x1="640.15" y1="299.42" x2="643.35" y2="299.42" stroke="#222" stroke-width="0.6"/>
<line x1="598.3" y1="283.7" x2="598.3" y2="391.5" stroke="#a9a9a9" stroke-width="1.2"/>
<line x1="598.3" y1="391.5" x2="664" y2="391.5" stroke="#a9a9a9" stroke-width="1.2"/>
<line x1="598.3" y1="391.5" x2="600.7" y2="391.5" stroke="#777" stroke-width="0.8"/>
<text x="593.6" y="394.1" font-size="7.8" text-anchor="end">0</text>
<line x1="598.3" y1="374.83" x2="600.7" y2="374.83" stroke="#777" stroke-width="0.8"/>
<text x="593.6" y="377.43" font-size="7.8" text-anchor="end">20</text>
<line x1="598.3" y1="358.17" x2="600.7" y2="358.17" stroke="#777" stroke-width="0.8"/>
<text x="593.6" y="360.77" font-size="7.8" text-anchor="end">40</text>
<line x1="598.3" y1="341.5" x2="600.7" y2="341.5" stroke="#777" stroke-width="0.8"/>
<text x="593.6" y="344.1" font-size="7.8" text-anchor="end">60</text>
<line x1="598.3" y1="324.83" x2="600.7" y2="324.83" stroke="#777" stroke-width="0.8"/>
<text x="593.6" y="327.43" font-size="7.8" text-anchor="end">80</text>
<line x1="598.3" y1="308.17" x2="600.7" y2="308.17" stroke="#777" stroke-width="0.8"/>
<text x="593.6" y="310.77" font-size="7.8" text-anchor="end">100</text>
<line x1="598.3" y1="291.5" x2="600.7" y2="291.5" stroke="#777" stroke-width="0.8"/>
<text x="593.6" y="294.1" font-size="7.8" text-anchor="end">120</text>
<text x="624.5" y="270.5" font-size="8.4" text-anchor="middle">RIV::GtACR2</text>
<polygon points="625.02,279.1 625.74,280.21 627.02,280.55 626.18,281.58 626.26,282.9 625.02,282.42 623.79,282.9 623.87,281.58 623.03,280.55 624.31,280.21" fill="#222"/>
<polygon points="629.77,279.1 630.49,280.21 631.77,280.55 630.93,281.58 631.01,282.9 629.77,282.42 628.54,282.9 628.62,281.58 627.78,280.55 629.06,280.21" fill="#222"/>
<text x="614.85" y="401.5" font-size="8.3" text-anchor="middle">ATR –</text>
<text x="641.75" y="401.5" font-size="8.3" text-anchor="middle">ATR +</text>
<text transform="translate(566,338.7) rotate(-90)" font-size="8.9" text-anchor="middle">Postreversal</text>
<text transform="translate(576.5,338.7) rotate(-90)" font-size="8.9" text-anchor="middle">turn angle (°)</text>
<rect x="0.7" y="459.4" width="74.9" height="110" fill="none" stroke="#333" stroke-width="0.9"/>
<circle cx="9.7" cy="475.5" r="1.3" fill="#000"/>
<text x="18" y="475.1" font-size="9.3">Attractive</text>
<text x="18" y="485.5" font-size="9.3">odor</text>
<line x1="33.3" y1="526.4" x2="9.5" y2="508.8" stroke="#111" stroke-width="1.1"/>
<polygon points="7.2,507.2 13.6,508.6 10.4,512.6" fill="#111"/>
<text x="30.8" y="515.6" font-size="9" fill="#a0a0a0">D</text>
<text x="18.7" y="531.3" font-size="9" fill="#d4d4d4">V</text>
<path d="M36.7,525.7 Q40,518 46.5,516.3" fill="none" stroke="#a0a0a0" stroke-width="0.8" stroke-dasharray="1.6,1.2"/>
<polygon points="48.2,515.9 45.6,514.6 46,517.8" fill="#a0a0a0"/>
<path d="M34.7,529.2 Q28,533 26.6,540" fill="none" stroke="#cccccc" stroke-width="0.8" stroke-dasharray="1.6,1.2"/>
<polygon points="26.3,542.2 25,539.2 28.2,539.6" fill="#cccccc"/>
<path d="M35.8,528.5 C37.5,530 38.5,533.5 40.5,535.8 C42,537 43.2,534.5 45,533.8 C48,532.8 51.5,534 53.6,537.2 C54.8,539 55.2,541 55.5,542.4" fill="none" stroke="#000" stroke-width="2.1" stroke-linecap="round" stroke-linejoin="round"/>
<text transform="translate(33.5,540.2) rotate(25)" font-size="9.2" font-style="italic">Ventral</text>
<text x="22.2" y="563.8" font-size="9.15">D correct</text>
<line x1="124.3" y1="429.7" x2="124.3" y2="605" stroke="#a7a9ac" stroke-width="1"/>
<line x1="124.3" y1="429.7" x2="127.5" y2="429.7" stroke="#a7a9ac" stroke-width="0.8"/>
<text x="120.3" y="431.7" font-size="7.9" text-anchor="end" fill="#444">0.7</text>
<line x1="124.3" y1="474.6" x2="127.5" y2="474.6" stroke="#a7a9ac" stroke-width="0.8"/>
<text x="120.3" y="474.9" font-size="7.9" text-anchor="end" fill="#444">0.6</text>
<line x1="124.3" y1="519.4" x2="127.5" y2="519.4" stroke="#a7a9ac" stroke-width="0.8"/>
<text x="120.3" y="519.7" font-size="7.9" text-anchor="end" fill="#444">0.5</text>
<line x1="124.3" y1="563.8" x2="127.5" y2="563.8" stroke="#a7a9ac" stroke-width="0.8"/>
<text x="120.3" y="564.1" font-size="7.9" text-anchor="end" fill="#444">0.4</text>
<line x1="124.3" y1="605" x2="127.5" y2="605" stroke="#a7a9ac" stroke-width="0.8"/>
<text x="120.3" y="608" font-size="7.9" text-anchor="end" fill="#444">0.3</text>
<line x1="124.3" y1="519.4" x2="384.2" y2="519.4" stroke="#b5b5b5" stroke-width="0.8" stroke-dasharray="3,2.2"/>
<text x="256" y="436.5" font-size="9" text-anchor="middle">Butanone</text>
<text transform="translate(93.6,517.7) rotate(-90)" font-size="9.2" text-anchor="middle">Fraction reorientations in</text>
<text transform="translate(103.2,517.7) rotate(-90)" font-size="9.2" text-anchor="middle">correct direction</text>
<circle cx="135.77" cy="498.54" r="2.35" fill="#808080"/>
<circle cx="140.15" cy="495.91" r="2.35" fill="#808080"/>
<circle cx="144.53" cy="497.67" r="2.35" fill="#808080"/>
<circle cx="133.14" cy="502.92" r="2.35" fill="#808080"/>
<circle cx="130.51" cy="506.43" r="2.35" fill="#808080"/>
<circle cx="134.89" cy="507.3" r="2.35" fill="#808080"/>
<circle cx="137.52" cy="509.93" r="2.35" fill="#808080"/>
<circle cx="141.02" cy="510.81" r="2.35" fill="#808080"/>
<circle cx="145.4" cy="507.3" r="2.35" fill="#808080"/>
<circle cx="148.91" cy="505.55" r="2.35" fill="#808080"/>
<circle cx="151.53" cy="505.55" r="2.35" fill="#808080"/>
<circle cx="138.4" cy="503.8" r="2.35" fill="#808080"/>
<circle cx="136.64" cy="502.05" r="2.35" fill="#808080"/>
<circle cx="142.78" cy="502.05" r="2.35" fill="#808080"/>
<circle cx="141.02" cy="515.19" r="2.35" fill="#808080"/>
<circle cx="143.65" cy="517.81" r="2.35" fill="#808080"/>
<circle cx="134.02" cy="509.05" r="2.35" fill="#808080"/>
<circle cx="146.28" cy="502.92" r="2.35" fill="#808080"/>
<circle cx="162.05" cy="488.91" r="2.35" fill="#6aa9dc"/>
<circle cx="156.79" cy="493.29" r="2.35" fill="#6aa9dc"/>
<circle cx="166.43" cy="491.53" r="2.35" fill="#6aa9dc"/>
<circle cx="171.68" cy="496.79" r="2.35" fill="#6aa9dc"/>
<circle cx="160.29" cy="497.67" r="2.35" fill="#6aa9dc"/>
<circle cx="167.3" cy="498.54" r="2.35" fill="#6aa9dc"/>
<circle cx="164.67" cy="502.05" r="2.35" fill="#6aa9dc"/>
<circle cx="157.67" cy="502.05" r="2.35" fill="#6aa9dc"/>
<circle cx="168.18" cy="502.92" r="2.35" fill="#6aa9dc"/>
<circle cx="158.54" cy="507.3" r="2.35" fill="#6aa9dc"/>
<circle cx="166.43" cy="507.3" r="2.35" fill="#6aa9dc"/>
<circle cx="162.05" cy="510.81" r="2.35" fill="#6aa9dc"/>
<circle cx="163.8" cy="512.56" r="2.35" fill="#6aa9dc"/>
<circle cx="167.3" cy="509.93" r="2.35" fill="#6aa9dc"/>
<circle cx="157.67" cy="516.06" r="2.35" fill="#6aa9dc"/>
<circle cx="162.05" cy="517.81" r="2.35" fill="#6aa9dc"/>
<circle cx="169.93" cy="516.06" r="2.35" fill="#6aa9dc"/>
<circle cx="160.29" cy="513.43" r="2.35" fill="#6aa9dc"/>
<circle cx="205.77" cy="495.04" r="2.35" fill="#808080"/>
<circle cx="203.14" cy="498.54" r="2.35" fill="#808080"/>
<circle cx="199.64" cy="501.17" r="2.35" fill="#808080"/>
<circle cx="198.76" cy="503.8" r="2.35" fill="#808080"/>
<circle cx="201.39" cy="506.43" r="2.35" fill="#808080"/>
<circle cx="197.01" cy="508.18" r="2.35" fill="#808080"/>
<circle cx="204.02" cy="508.18" r="2.35" fill="#808080"/>
<circle cx="210.15" cy="502.05" r="2.35" fill="#808080"/>
<circle cx="213.65" cy="501.17" r="2.35" fill="#808080"/>
<circle cx="211.9" cy="505.55" r="2.35" fill="#808080"/>
<circle cx="215.4" cy="508.18" r="2.35" fill="#808080"/>
<circle cx="207.52" cy="507.3" r="2.35" fill="#808080"/>
<circle cx="206.64" cy="514.31" r="2.35" fill="#808080"/>
<circle cx="200.51" cy="504.67" r="2.35" fill="#808080"/>
<circle cx="221.53" cy="512.56" r="2.35" fill="#f08a90"/>
<circle cx="225.04" cy="511.68" r="2.35" fill="#f08a90"/>
<circle cx="229.42" cy="512.56" r="2.35" fill="#f08a90"/>
<circle cx="233.8" cy="512.56" r="2.35" fill="#f08a90"/>
<circle cx="238.18" cy="513.43" r="2.35" fill="#f08a90"/>
<circle cx="240.81" cy="515.19" r="2.35" fill="#f08a90"/>
<circle cx="219.78" cy="517.81" r="2.35" fill="#f08a90"/>
<circle cx="224.16" cy="519.57" r="2.35" fill="#f08a90"/>
<circle cx="232.05" cy="517.81" r="2.35" fill="#f08a90"/>
<circle cx="236.43" cy="516.06" r="2.35" fill="#f08a90"/>
<circle cx="239.93" cy="516.06" r="2.35" fill="#f08a90"/>
<circle cx="226.79" cy="515.19" r="2.35" fill="#f08a90"/>
<circle cx="223.29" cy="516.06" r="2.35" fill="#f08a90"/>
<circle cx="229.42" cy="520.44" r="2.35" fill="#f08a90"/>
<circle cx="228.54" cy="525.7" r="2.35" fill="#f08a90"/>
<circle cx="271.46" cy="492.41" r="2.35" fill="#808080"/>
<circle cx="278.47" cy="492.41" r="2.35" fill="#808080"/>
<circle cx="274.97" cy="496.79" r="2.35" fill="#808080"/>
<circle cx="270.59" cy="496.79" r="2.35" fill="#808080"/>
<circle cx="268.84" cy="500.29" r="2.35" fill="#808080"/>
<circle cx="282.85" cy="502.92" r="2.35" fill="#808080"/>
<circle cx="284.6" cy="506.43" r="2.35" fill="#808080"/>
<circle cx="284.6" cy="510.81" r="2.35" fill="#808080"/>
<circle cx="279.35" cy="509.05" r="2.35" fill="#808080"/>
<circle cx="275.84" cy="508.18" r="2.35" fill="#808080"/>
<circle cx="265.33" cy="507.3" r="2.35" fill="#808080"/>
<circle cx="270.59" cy="505.55" r="2.35" fill="#808080"/>
<circle cx="277.6" cy="505.55" r="2.35" fill="#808080"/>
<circle cx="271.46" cy="512.56" r="2.35" fill="#808080"/>
<circle cx="267.08" cy="516.94" r="2.35" fill="#808080"/>
<circle cx="279.35" cy="514.31" r="2.35" fill="#808080"/>
<circle cx="274.97" cy="513.43" r="2.35" fill="#808080"/>
<circle cx="300.67" cy="498.19" r="2.35" fill="#c080c8"/>
<circle cx="299.27" cy="505.9" r="2.35" fill="#c080c8"/>
<circle cx="294.02" cy="509.05" r="2.35" fill="#c080c8"/>
<circle cx="293.14" cy="512.56" r="2.35" fill="#c080c8"/>
<circle cx="297.52" cy="510.81" r="2.35" fill="#c080c8"/>
<circle cx="303.65" cy="509.05" r="2.35" fill="#c080c8"/>
<circle cx="308.03" cy="506.95" r="2.35" fill="#c080c8"/>
<circle cx="308.03" cy="514.31" r="2.35" fill="#c080c8"/>
<circle cx="294.02" cy="519.57" r="2.35" fill="#c080c8"/>
<circle cx="297.52" cy="522.19" r="2.35" fill="#c080c8"/>
<circle cx="301.9" cy="520.44" r="2.35" fill="#c080c8"/>
<circle cx="307.15" cy="521.32" r="2.35" fill="#c080c8"/>
<circle cx="308.91" cy="517.81" r="2.35" fill="#c080c8"/>
<circle cx="304.53" cy="516.06" r="2.35" fill="#c080c8"/>
<circle cx="296.64" cy="516.06" r="2.35" fill="#c080c8"/>
<circle cx="346.22" cy="497.67" r="2.35" fill="#808080"/>
<circle cx="343.95" cy="501.17" r="2.35" fill="#808080"/>
<circle cx="341.32" cy="503.8" r="2.35" fill="#808080"/>
<circle cx="338.69" cy="507.3" r="2.35" fill="#808080"/>
<circle cx="336.06" cy="512.56" r="2.35" fill="#808080"/>
<circle cx="343.07" cy="512.56" r="2.35" fill="#808080"/>
<circle cx="349.2" cy="507.3" r="2.35" fill="#808080"/>
<circle cx="351.83" cy="510.81" r="2.35" fill="#808080"/>
<circle cx="350.95" cy="502.92" r="2.35" fill="#808080"/>
<circle cx="346.57" cy="503.8" r="2.35" fill="#808080"/>
<circle cx="347.45" cy="513.43" r="2.35" fill="#808080"/>
<circle cx="344.82" cy="521.32" r="2.35" fill="#808080"/>
<circle cx="348.33" cy="519.57" r="2.35" fill="#808080"/>
<circle cx="340.44" cy="509.93" r="2.35" fill="#808080"/>
<circle cx="371.98" cy="492.41" r="2.35" fill="#9896cc"/>
<circle cx="366.72" cy="495.91" r="2.35" fill="#9896cc"/>
<circle cx="370.22" cy="499.42" r="2.35" fill="#9896cc"/>
<circle cx="364.97" cy="498.54" r="2.35" fill="#9896cc"/>
<circle cx="360.59" cy="505.55" r="2.35" fill="#9896cc"/>
<circle cx="363.22" cy="507.3" r="2.35" fill="#9896cc"/>
<circle cx="375.48" cy="505.55" r="2.35" fill="#9896cc"/>
<circle cx="378.11" cy="506.43" r="2.35" fill="#9896cc"/>
<circle cx="377.23" cy="510.81" r="2.35" fill="#9896cc"/>
<circle cx="367.6" cy="513.43" r="2.35" fill="#9896cc"/>
<circle cx="372.85" cy="516.06" r="2.35" fill="#9896cc"/>
<circle cx="367.6" cy="521.32" r="2.35" fill="#9896cc"/>
<circle cx="359.71" cy="504.67" r="2.35" fill="#9896cc"/>
<circle cx="373.73" cy="508.18" r="2.35" fill="#9896cc"/>
<circle cx="140.67" cy="506.43" r="3" fill="#000"/>
<circle cx="162.92" cy="503.45" r="3" fill="#000"/>
<circle cx="206.3" cy="505" r="3" fill="#000"/>
<circle cx="228.5" cy="516.4" r="3" fill="#000"/>
<circle cx="274.4" cy="505.5" r="3" fill="#000"/>
<circle cx="301" cy="514.3" r="3" fill="#000"/>
<circle cx="345.7" cy="509.4" r="3" fill="#000"/>
<circle cx="369.7" cy="506.4" r="3" fill="#000"/>
<line x1="140.7" y1="475.4" x2="162.9" y2="475.4" stroke="#444" stroke-width="0.8"/>
<text x="151.5" y="473.2" font-size="7.2" text-anchor="middle" fill="#333">NS</text>
<line x1="206.1" y1="476.3" x2="228.5" y2="476.3" stroke="#444" stroke-width="0.8"/>
<polygon points="212.7,469.3 213.42,470.41 214.7,470.75 213.86,471.78 213.93,473.1 212.7,472.62 211.47,473.1 211.54,471.78 210.7,470.75 211.98,470.41" fill="#222"/>
<polygon points="217.2,469.3 217.92,470.41 219.2,470.75 218.36,471.78 218.43,473.1 217.2,472.62 215.97,473.1 216.04,471.78 215.2,470.75 216.48,470.41" fill="#222"/>
<polygon points="221.7,469.3 222.42,470.41 223.7,470.75 222.86,471.78 222.93,473.1 221.7,472.62 220.47,473.1 220.54,471.78 219.7,470.75 220.98,470.41" fill="#222"/>
<line x1="276.7" y1="476.3" x2="298.6" y2="476.3" stroke="#444" stroke-width="0.8"/>
<polygon points="285.35,469.3 286.07,470.41 287.35,470.75 286.51,471.78 286.58,473.1 285.35,472.62 284.12,473.1 284.19,471.78 283.35,470.75 284.63,470.41" fill="#222"/>
<polygon points="289.85,469.3 290.57,470.41 291.85,470.75 291.01,471.78 291.08,473.1 289.85,472.62 288.62,473.1 288.69,471.78 287.85,470.75 289.13,470.41" fill="#222"/>
<line x1="346.2" y1="476.6" x2="368.5" y2="476.6" stroke="#444" stroke-width="0.8"/>
<text x="357.4" y="473.6" font-size="7.2" text-anchor="middle" fill="#333">NS</text>
<line x1="130.7" y1="552" x2="138.2" y2="552" stroke="#808080" stroke-width="1.3"/>
<text x="142.5" y="554" font-size="7.8">WT</text>
<line x1="130.7" y1="561.7" x2="138.2" y2="561.7" stroke="#6aa9dc" stroke-width="1.3"/>
<text x="142.5" y="563.7" font-size="7.8">SMB silencing</text>
<text x="142.5" y="572.4" font-size="7.8">(SMB::<tspan font-style="italic">unc-103[gof]</tspan>)</text>
<line x1="130.7" y1="581.7" x2="138.2" y2="581.7" stroke="#f08a90" stroke-width="1.3"/>
<text x="142.5" y="583.7" font-size="7.8">SAA genetic ablation</text>
<text x="142.5" y="592.4" font-size="7.8">(SAA::<tspan font-style="italic">ced-3</tspan>)</text>
<line x1="235.4" y1="561.5" x2="242.9" y2="561.5" stroke="#c080c8" stroke-width="1.3"/>
<text x="247.2" y="563.5" font-size="7.8">SMD silencing</text>
<text x="247.2" y="572.2" font-size="7.8">(SMD::<tspan font-style="italic">unc-103[gof]</tspan>)</text>
<line x1="235.4" y1="581.5" x2="242.9" y2="581.5" stroke="#9896cc" stroke-width="1.3"/>
<text x="247.2" y="583.5" font-size="7.8">RIV silencing</text>
<text x="247.2" y="592.2" font-size="7.8">(RIV::<tspan font-style="italic">unc-103[gof]</tspan>)</text>
<text x="449" y="458.5" font-size="9" text-anchor="middle">Direction at</text>
<text x="449" y="469" font-size="9" text-anchor="middle">pirouette end</text>
<rect x="408.3" y="475.3" width="82.8" height="97.2" fill="none" stroke="#333" stroke-width="0.9"/>
<polyline points="429.96,491.31 430.26,491.57 430.56,491.81 430.86,492.03 431.16,492.22 431.46,492.37 431.76,492.48 432.06,492.53 432.36,492.53 432.67,492.48 432.97,492.38 433.27,492.23 433.57,492.05 433.88,491.83 434.18,491.59 434.49,491.34 434.79,491.1 435.1,490.86 435.4,490.65 435.7,490.47 436.01,490.33 436.31,490.23 436.61,490.19 436.91,490.2 437.21,490.26 437.51,490.37 437.81,490.53 438.11,490.72 438.41,490.95 438.71,491.19 439.01,491.45 439.31,491.7 439.61,491.94 439.91,492.16 440.21,492.34 440.51,492.49 440.81,492.59 441.11,492.63 441.41,492.62 441.71,492.56 442.01,492.46 442.32,492.3 442.62,492.11 442.92,491.89 443.23,491.65 443.53,491.4 443.84,491.16 444.14,490.92 444.44,490.72 444.75,490.54 445.05,490.41 445.35,490.32 445.66,490.28 445.96,490.3 446.26,490.37 446.56,490.49 446.86,490.65 447.16,490.85 447.46,491.08 447.76,491.33 448.05,491.58 448.35,491.84 448.65,492.07 448.95,492.29 449.25,492.47 449.55,492.6 449.85,492.69 450.15,492.73 450.45,492.71 450.76,492.65 451.06,492.53 451.36,492.37 451.67,492.18 451.97,491.95 452.27,491.71 452.58,491.46 452.88,491.22 453.19,490.99 453.49,490.78 453.79,490.61 454.1,490.49 454.4,490.41 454.7,490.38 455,490.4 455.3,490.48 455.6,490.61 455.9,490.78 456.2,490.98 456.5,491.22 456.8,491.46 457.1,491.72 457.4,491.97 457.7,492.2 458,492.41 458.3,492.59 458.6,492.72 458.9,492.8 459.2,492.83 459.5,492.8 459.8,492.73 460.1,492.61 460.41,492.44 460.71,492.24 461.02,492.01 461.32,491.77 461.62,491.52 461.93,491.28 462.23,491.05 462.54,490.85 462.84,490.69 463.14,490.57 463.44,490.5 463.75,490.48 464.05,490.51 464.35,490.59 464.65,490.73 464.95,490.9 465.25,491.11 465.55,491.35 465.85,491.6 466.14,491.86 466.44,492.1 466.74,492.33 466.88,492.58 467.15,492.8 467.42,492.97 467.7,493.1 467.99,493.18 468.29,493.2 468.61,493.18 468.93,493.11 469.26,493 469.6,492.85 469.94,492.68 470.28,492.49 470.63,492.31 470.97,492.13 471.31,491.96 471.64,491.83 471.97,491.73 472.29,491.68 472.6,491.67 472.9,491.71 473.19,491.81 473.46,491.96 473.9,492.25 474.11,492.54 474.3,492.85 474.49,493.19 474.67,493.53 474.85,493.88 475.03,494.23 475.22,494.55 475.42,494.85 475.63,495.11 475.86,495.33 476.12,495.51 476.39,495.64 477.25,495.74 477.54,495.62 477.83,495.46 478.11,495.25 478.4,495.01 478.68,494.75 478.96,494.48 479.24,494.2 479.52,493.93 479.8,493.69 480.08,493.47" fill="none" stroke="#2c6fbe" stroke-width="2" stroke-linejoin="round" stroke-linecap="round"/>
<polyline points="457.03,499.85 457.42,499.91 457.8,499.96 458.16,499.99 458.51,499.99 458.84,499.95 459.14,499.86 459.42,499.73 459.67,499.56 459.89,499.33 460.09,499.07 460.26,498.76 460.42,498.43 460.51,498.22 460.78,497.94 461.05,497.66 461.33,497.4 461.6,497.15 461.88,496.94 462.17,496.78 462.46,496.66 462.76,496.6 463.06,496.59 463.38,496.63 463.69,496.73 464.01,496.87 464.34,497.04 464.67,497.23 465,497.44 465.33,497.65 465.66,497.84 465.99,498.01 466.31,498.15 466.63,498.24 466.85,498.3 467.16,498.31 467.46,498.27 467.76,498.18 468.06,498.03 468.35,497.85 468.65,497.63 468.94,497.38 469.24,497.12 469.53,496.87 469.83,496.62 470.12,496.4 470.42,496.22 470.72,496.07 471.02,495.98 471.32,495.94 471.62,495.96 471.93,496.03 472.24,496.15 472.55,496.31 472.86,496.51 473.17,496.73 473.48,496.92 473.84,497.06 474.2,497.2 474.55,497.31 474.89,497.38 475.22,497.42 475.54,497.41 475.83,497.34 476.12,497.23 476.38,497.06 476.63,496.84 476.87,496.58 477.1,496.3 477.32,495.98 477.54,495.66 477.76,495.34 477.98,495.03 478.21,494.74 478.45,494.48 478.7,494.27 478.97,494.1 479.25,493.99 479.55,493.93 479.86,493.92" fill="none" stroke="#e8404f" stroke-width="2" stroke-linejoin="round" stroke-linecap="round"/>
<polyline points="457.03,499.85 456.71,500.05 456.41,500.26 456.14,500.47 455.91,500.7 455.72,500.96 455.59,501.23 455.52,501.53 455.49,501.85 455.51,502.19 455.56,502.54 455.64,502.9 455.92,503.16 456.25,503.33 456.56,503.51 456.83,503.71 457.07,503.93 457.25,504.17 457.38,504.45 457.46,504.75 457.5,505.07 457.49,505.42 457.46,505.78 457.42,506.15 457.37,506.52" fill="none" stroke="#5b2a8e" stroke-width="1.9" stroke-linejoin="round" stroke-linecap="round"/>
<polyline points="457.56,506.42 457.42,506.87 457.31,507.29 457.24,507.7 457.21,508.07 457.25,508.41 457.35,508.7 457.54,508.94 457.79,509.13 458.11,509.28 458.49,509.39 458.91,509.48 459.36,509.55 459.82,509.61 460.27,509.68 460.73,510.32 460.96,510.64 461.11,510.96 461.19,511.27 461.18,511.57 461.08,511.86 460.9,512.15 460.64,512.42 460.33,512.69 459.97,512.96 459.59,513.22 459.22,513.49 458.86,513.76 458.55,514.03 458.3,514.3 458.13,514.59 458.04,514.88 458.03,515.18 458.14,515.63 458.33,515.93 458.6,516.23 458.91,516.53 459.26,516.82 459.61,517.12 459.95,517.42 460.26,517.71 460.52,518.01 460.7,518.31 460.81,518.61 460.83,518.91 460.76,519.21 460.61,519.51 460.38,519.81 460.1,520.12 459.77,520.42 459.43,520.73 459.08,521.03 458.76,521.34 458.48,521.64 458.27,521.94 458.13,522.24 458.08,522.54 458.11,522.85 458.23,523.14 458.43,523.44 458.69,523.74 459.01,524.04 459.35,524.33 459.71,524.63 460.05,524.93 460.36,525.22 460.61,525.52 460.79,525.82 460.9,526.12 460.91,526.42 460.84,526.72 460.68,527.02 460.46,527.3 460.18,527.61 459.87,527.92 459.53,528.24 459.19,528.55 458.88,528.87 458.62,529.18 458.42,529.49 458.29,529.79 458.25,530.1 458.29,530.4 458.43,530.69 458.64,530.98 458.91,531.27 459.24,531.56 459.59,531.85 459.96,532.13 460.31,532.42 460.62,532.7 460.88,532.99 461.07,533.29 461.18,533.58 461.2,533.88 461.13,534.19 460.98,534.49 460.76,534.8 460.48,535.12 460.16,535.43 459.83,535.74 459.49,536.06 459.18,536.37 458.92,536.68" fill="none" stroke="#2c6fbe" stroke-width="2" stroke-linejoin="round" stroke-linecap="round"/>
<polyline points="450.46,522.72 450.49,523.11 450.53,523.5 450.59,523.87 450.68,524.2 450.81,524.51 450.97,524.77 451.18,524.99 451.44,525.16 451.73,525.3 452.06,525.39 452.42,525.46 452.8,525.51 453.2,525.54 453.6,525.57 453.99,525.61 454.36,525.66 454.7,525.74 455.01,525.86 455.29,526.02 455.51,526.22 455.97,527.01 455.93,527.32 455.84,527.65 455.71,527.99 455.54,528.33 455.35,528.67 455.15,529.02 454.96,529.37 454.8,529.71 454.66,530.04 454.58,530.37 454.54,530.69 454.57,530.99 454.65,531.28 454.8,531.56 455,531.83 455.24,532.09 455.52,532.34 455.92,532.64 456.32,532.69 456.71,532.75 457.09,532.81 457.44,532.9 457.77,533.02 458.05,533.17 458.29,533.36 458.48,533.6 458.63,533.87 458.73,534.18 458.8,534.53 458.84,534.9 458.86,535.29 458.87,535.69 458.88,536.08 458.9,536.47 458.95,536.84 459.02,537.18 459.14,537.48 459.29,537.75 459.49,537.98 459.74,538.16 460.03,538.31" fill="none" stroke="#e8404f" stroke-width="2" stroke-linejoin="round" stroke-linecap="round"/>
<polyline points="444.68,518.25 445,518.42 445.32,518.57 445.63,518.7 445.94,518.78 446.25,518.82 446.56,518.81 446.86,518.75 447.16,518.64 447.45,518.49 447.75,518.3 448.04,518.1 448.33,517.88 448.74,518.13 449.01,518.34 449.25,518.57 449.45,518.82 449.61,519.08 449.72,519.37 449.78,519.67 449.8,520 449.79,520.34 449.75,520.69 449.7,521.05 449.65,521.4 449.62,521.75 449.61,522.09 449.64,522.41 449.71,522.72 449.82,523" fill="none" stroke="#5b2a8e" stroke-width="1.9" stroke-linejoin="round" stroke-linecap="round"/>
<path d="M444.68,517.99 Q441.53,518.25 442.58,522.19 L444.81,522.72" fill="none" stroke="#2c6fbe" stroke-width="2.4" stroke-linejoin="round"/>
<polygon points="443.1,511.5 443.88,512.72 445.29,513.09 444.37,514.21 444.45,515.66 443.1,515.13 441.75,515.66 441.83,514.21 440.91,513.09 442.32,512.72" fill="#222"/>
<path d="M439.82,523.9 L435.22,525.21 L431.28,527.18 L429.31,530.47 L431.28,533.75 L431.28,537.04 L427.34,539.67 L421.42,540.98" fill="none" stroke="#000" stroke-width="2.4" stroke-linecap="round" stroke-linejoin="round"/>
<line x1="420.5" y1="532.4" x2="414" y2="541.5" stroke="#111" stroke-width="0.8"/>
<polygon points="413.1,543.2 413.3,539.6 416,541.4" fill="#111"/>
<text x="422.1" y="562" font-size="9.1">Odor</text>
<circle cx="413.5" cy="565.5" r="1.3" fill="#000"/>
<text x="611" y="437.6" font-size="9.3" text-anchor="middle">Direction at pirouette end</text>
<text x="611" y="448.4" font-size="9.3" text-anchor="middle">butanone</text>
<rect x="547" y="532.64" width="19.6" height="70.86" fill="#7f7f7f"/>
<rect x="573" y="598.27" width="20.3" height="5.23" fill="#f08a90"/>
<rect x="621.2" y="550.94" width="20.2" height="52.56" fill="#7f7f7f"/>
<rect x="648.3" y="588.98" width="20.2" height="14.52" fill="#b680c3"/>
<line x1="539.75" y1="603.5" x2="599" y2="603.5" stroke="#8c8c8c" stroke-width="0.9"/>
<line x1="599" y1="603.5" x2="614" y2="603.5" stroke="#bcbcbc" stroke-width="0.9"/>
<line x1="614" y1="603.5" x2="684.8" y2="603.5" stroke="#6a6a6a" stroke-width="0.9"/>
<circle cx="556.21" cy="460.21" r="1.55" fill="#c2c2c2"/>
<circle cx="564.54" cy="457.71" r="1.55" fill="#c2c2c2"/>
<circle cx="547.88" cy="481.04" r="1.55" fill="#c2c2c2"/>
<circle cx="550.58" cy="523.33" r="1.55" fill="#c2c2c2"/>
<circle cx="560.38" cy="525" r="1.55" fill="#c2c2c2"/>
<circle cx="553.29" cy="533.12" r="1.55" fill="#c2c2c2"/>
<circle cx="562.67" cy="538.33" r="1.55" fill="#c2c2c2"/>
<circle cx="551.21" cy="547.71" r="1.55" fill="#c2c2c2"/>
<circle cx="553.29" cy="560" r="1.55" fill="#c2c2c2"/>
<circle cx="562.67" cy="557.71" r="1.55" fill="#c2c2c2"/>
<circle cx="560.38" cy="575" r="1.55" fill="#c2c2c2"/>
<circle cx="554.96" cy="580" r="1.55" fill="#c2c2c2"/>
<circle cx="557.46" cy="609.38" r="1.55" fill="#c2c2c2"/>
<circle cx="583.5" cy="571.25" r="1.55" fill="#c2c2c2"/>
<circle cx="582.46" cy="586.88" r="1.55" fill="#c2c2c2"/>
<circle cx="587.67" cy="588.33" r="1.55" fill="#c2c2c2"/>
<circle cx="591.21" cy="591.46" r="1.55" fill="#c2c2c2"/>
<circle cx="576.83" cy="591.46" r="1.55" fill="#c2c2c2"/>
<circle cx="584.33" cy="590.62" r="1.55" fill="#c2c2c2"/>
<circle cx="577.67" cy="598.96" r="1.55" fill="#c2c2c2"/>
<circle cx="589.12" cy="602.5" r="1.55" fill="#c2c2c2"/>
<circle cx="585.38" cy="606.67" r="1.55" fill="#c2c2c2"/>
<circle cx="584.54" cy="610.42" r="1.55" fill="#c2c2c2"/>
<circle cx="580.79" cy="610.42" r="1.55" fill="#c2c2c2"/>
<circle cx="577.67" cy="612.5" r="1.55" fill="#c2c2c2"/>
<circle cx="582.25" cy="617.5" r="1.55" fill="#c2c2c2"/>
<circle cx="628.5" cy="476.88" r="1.55" fill="#c2c2c2"/>
<circle cx="625.17" cy="481.04" r="1.55" fill="#c2c2c2"/>
<circle cx="635.79" cy="496.25" r="1.55" fill="#c2c2c2"/>
<circle cx="626.42" cy="503.54" r="1.55" fill="#c2c2c2"/>
<circle cx="626.83" cy="512.5" r="1.55" fill="#c2c2c2"/>
<circle cx="630.58" cy="513.33" r="1.55" fill="#c2c2c2"/>
<circle cx="635.17" cy="532.08" r="1.55" fill="#c2c2c2"/>
<circle cx="627.25" cy="557.08" r="1.55" fill="#c2c2c2"/>
<circle cx="633.5" cy="555.21" r="1.55" fill="#c2c2c2"/>
<circle cx="636.83" cy="575.42" r="1.55" fill="#c2c2c2"/>
<circle cx="635.17" cy="581.67" r="1.55" fill="#c2c2c2"/>
<circle cx="626.42" cy="591.46" r="1.55" fill="#c2c2c2"/>
<circle cx="628.92" cy="593.54" r="1.55" fill="#c2c2c2"/>
<circle cx="634.54" cy="594.17" r="1.55" fill="#c2c2c2"/>
<circle cx="626.83" cy="598.33" r="1.55" fill="#c2c2c2"/>
<circle cx="658.5" cy="489.58" r="1.55" fill="#c2c2c2"/>
<circle cx="660.17" cy="525" r="1.55" fill="#c2c2c2"/>
<circle cx="659.54" cy="532.29" r="1.55" fill="#c2c2c2"/>
<circle cx="661.83" cy="540.42" r="1.55" fill="#c2c2c2"/>
<circle cx="658.5" cy="560" r="1.55" fill="#c2c2c2"/>
<circle cx="662.25" cy="565.42" r="1.55" fill="#c2c2c2"/>
<circle cx="655.58" cy="581.04" r="1.55" fill="#c2c2c2"/>
<circle cx="653.92" cy="588.54" r="1.55" fill="#c2c2c2"/>
<circle cx="654.96" cy="596.67" r="1.55" fill="#c2c2c2"/>
<circle cx="666" cy="593.75" r="1.55" fill="#c2c2c2"/>
<circle cx="664.96" cy="605.62" r="1.55" fill="#c2c2c2"/>
<circle cx="663.92" cy="607.08" r="1.55" fill="#c2c2c2"/>
<circle cx="657.67" cy="608.33" r="1.55" fill="#c2c2c2"/>
<circle cx="655.58" cy="612.5" r="1.55" fill="#c2c2c2"/>
<circle cx="663.29" cy="616.67" r="1.55" fill="#c2c2c2"/>
<circle cx="661" cy="633.7" r="1.55" fill="#c2c2c2"/>
<circle cx="629.7" cy="647" r="1.55" fill="#c2c2c2"/>
<circle cx="660.7" cy="655.7" r="1.55" fill="#c2c2c2"/>
<circle cx="660.7" cy="691.7" r="1.55" fill="#c2c2c2"/>
<line x1="556.8" y1="519.6" x2="556.8" y2="545.6" stroke="#222" stroke-width="0.6"/>
<line x1="554.8" y1="519.6" x2="558.8" y2="519.6" stroke="#222" stroke-width="0.6"/>
<line x1="554.8" y1="545.6" x2="558.8" y2="545.6" stroke="#222" stroke-width="0.6"/>
<line x1="583.15" y1="594.8" x2="583.15" y2="601.5" stroke="#222" stroke-width="0.6"/>
<line x1="581.15" y1="594.8" x2="585.15" y2="594.8" stroke="#222" stroke-width="0.6"/>
<line x1="581.15" y1="601.5" x2="585.15" y2="601.5" stroke="#222" stroke-width="0.6"/>
<line x1="631.3" y1="537.9" x2="631.3" y2="562.9" stroke="#222" stroke-width="0.6"/>
<line x1="629.3" y1="537.9" x2="633.3" y2="537.9" stroke="#222" stroke-width="0.6"/>
<line x1="629.3" y1="562.9" x2="633.3" y2="562.9" stroke="#222" stroke-width="0.6"/>
<line x1="658.4" y1="577.5" x2="658.4" y2="600.4" stroke="#222" stroke-width="0.6"/>
<line x1="656.4" y1="577.5" x2="660.4" y2="577.5" stroke="#222" stroke-width="0.6"/>
<line x1="656.4" y1="600.4" x2="660.4" y2="600.4" stroke="#222" stroke-width="0.6"/>
<line x1="539.75" y1="458.3" x2="539.75" y2="660.7" stroke="#a7a9ac" stroke-width="1"/>
<line x1="539.75" y1="458.3" x2="542.95" y2="458.3" stroke="#a7a9ac" stroke-width="0.8"/>
<text x="535.55" y="461.1" font-size="7.9" text-anchor="end" fill="#444">0.25</text>
<line x1="539.75" y1="487.34" x2="542.95" y2="487.34" stroke="#a7a9ac" stroke-width="0.8"/>
<text x="535.55" y="490.14" font-size="7.9" text-anchor="end" fill="#444">0.2</text>
<line x1="539.75" y1="516.38" x2="542.95" y2="516.38" stroke="#a7a9ac" stroke-width="0.8"/>
<text x="535.55" y="519.18" font-size="7.9" text-anchor="end" fill="#444">0.15</text>
<line x1="539.75" y1="545.42" x2="542.95" y2="545.42" stroke="#a7a9ac" stroke-width="0.8"/>
<text x="535.55" y="548.22" font-size="7.9" text-anchor="end" fill="#444">0.1</text>
<line x1="539.75" y1="574.46" x2="542.95" y2="574.46" stroke="#a7a9ac" stroke-width="0.8"/>
<text x="535.55" y="577.26" font-size="7.9" text-anchor="end" fill="#444">0.05</text>
<line x1="539.75" y1="603.5" x2="542.95" y2="603.5" stroke="#a7a9ac" stroke-width="0.8"/>
<text x="535.55" y="606.3" font-size="7.9" text-anchor="end" fill="#444">0</text>
<line x1="539.75" y1="632.54" x2="542.95" y2="632.54" stroke="#a7a9ac" stroke-width="0.8"/>
<text x="535.55" y="635.34" font-size="7.9" text-anchor="end" fill="#444">−0.05</text>
<line x1="539.75" y1="661.58" x2="542.95" y2="661.58" stroke="#a7a9ac" stroke-width="0.8"/>
<text x="535.55" y="664.38" font-size="7.9" text-anchor="end" fill="#444">−0.1</text>
<line x1="555.2" y1="451.5" x2="583.9" y2="451.5" stroke="#666" stroke-width="0.8"/>
<polygon points="565.25,446.2 565.97,447.31 567.25,447.65 566.41,448.68 566.48,450 565.25,449.52 564.02,450 564.09,448.68 563.25,447.65 564.53,447.31" fill="#222"/>
<polygon points="569.75,446.2 570.47,447.31 571.75,447.65 570.91,448.68 570.98,450 569.75,449.52 568.52,450 568.59,448.68 567.75,447.65 569.03,447.31" fill="#222"/>
<polygon points="574.25,446.2 574.97,447.31 576.25,447.65 575.41,448.68 575.48,450 574.25,449.52 573.02,450 573.09,448.68 572.25,447.65 573.53,447.31" fill="#222"/>
<line x1="631.4" y1="464.4" x2="660.6" y2="464.4" stroke="#666" stroke-width="0.8"/>
<text x="645.6" y="461.5" font-size="7.2" text-anchor="middle" fill="#333">NS</text>
<text transform="translate(513.2,526) rotate(-90)" font-size="9" text-anchor="middle">Bearing to odor</text>
<line x1="547.2" y1="624.5" x2="554.7" y2="624.5" stroke="#808080" stroke-width="1.3"/>
<text x="559" y="626.5" font-size="7.8">WT</text>
<line x1="547.2" y1="635" x2="554.7" y2="635" stroke="#f08a90" stroke-width="1.3"/>
<text x="559" y="637" font-size="7.8">SAA genetic ablation</text>
<text x="559" y="645.2" font-size="7.8">(SAA::<tspan font-style="italic">ced-3</tspan>)</text>
<line x1="547.2" y1="656.2" x2="554.7" y2="656.2" stroke="#c080c8" stroke-width="1.3"/>
<text x="559" y="658.2" font-size="7.8">SMD silencing</text>
<text x="559" y="666.5" font-size="7.8">(SMD::<tspan font-style="italic">unc-103[gof]</tspan>)</text>
<line x1="47.2" y1="646.7" x2="47.2" y2="817.9" stroke="#a7a9ac" stroke-width="1"/>
<line x1="47.2" y1="646.7" x2="50.6" y2="646.7" stroke="#a7a9ac" stroke-width="0.8"/>
<text x="42.9" y="649" font-size="7.9" text-anchor="end" fill="#444">0.7</text>
<line x1="47.2" y1="689.5" x2="50.6" y2="689.5" stroke="#a7a9ac" stroke-width="0.8"/>
<text x="42.9" y="691.8" font-size="7.9" text-anchor="end" fill="#444">0.6</text>
<line x1="47.2" y1="732.3" x2="50.6" y2="732.3" stroke="#a7a9ac" stroke-width="0.8"/>
<text x="42.9" y="734.6" font-size="7.9" text-anchor="end" fill="#444">0.5</text>
<line x1="47.2" y1="775.1" x2="50.6" y2="775.1" stroke="#a7a9ac" stroke-width="0.8"/>
<text x="42.9" y="777.4" font-size="7.9" text-anchor="end" fill="#444">0.4</text>
<line x1="47.2" y1="817.9" x2="50.6" y2="817.9" stroke="#a7a9ac" stroke-width="0.8"/>
<text x="42.9" y="820.2" font-size="7.9" text-anchor="end" fill="#444">0.3</text>
<line x1="47.2" y1="732.3" x2="149.8" y2="732.3" stroke="#999" stroke-width="0.8" stroke-dasharray="3,2.2"/>
<circle cx="61.96" cy="660.75" r="2.6" fill="#858585"/>
<circle cx="54.94" cy="678.32" r="2.6" fill="#858585"/>
<circle cx="58.01" cy="682.71" r="2.6" fill="#858585"/>
<circle cx="61.52" cy="678.32" r="2.6" fill="#858585"/>
<circle cx="64.6" cy="680.52" r="2.6" fill="#858585"/>
<circle cx="68.99" cy="680.52" r="2.6" fill="#858585"/>
<circle cx="59.77" cy="689.3" r="2.6" fill="#858585"/>
<circle cx="65.26" cy="689.3" r="2.6" fill="#858585"/>
<circle cx="58.01" cy="696.33" r="2.6" fill="#858585"/>
<circle cx="56.69" cy="704.24" r="2.6" fill="#858585"/>
<circle cx="61.96" cy="708.19" r="2.6" fill="#858585"/>
<circle cx="67.45" cy="705.55" r="2.6" fill="#858585"/>
<circle cx="56.69" cy="732.35" r="2.6" fill="#858585"/>
<circle cx="61.96" cy="732.35" r="2.6" fill="#858585"/>
<circle cx="66.8" cy="732.35" r="2.6" fill="#858585"/>
<circle cx="63.72" cy="744.87" r="2.6" fill="#858585"/>
<circle cx="94.91" cy="660.75" r="2.6" fill="#f28a91"/>
<circle cx="99.74" cy="678.32" r="2.6" fill="#f28a91"/>
<circle cx="102.38" cy="689.3" r="2.6" fill="#f28a91"/>
<circle cx="95.57" cy="715.66" r="2.6" fill="#f28a91"/>
<circle cx="83.93" cy="732.35" r="2.6" fill="#f28a91"/>
<circle cx="89.42" cy="732.35" r="2.6" fill="#f28a91"/>
<circle cx="94.91" cy="732.35" r="2.6" fill="#f28a91"/>
<circle cx="99.3" cy="732.35" r="2.6" fill="#f28a91"/>
<circle cx="104.13" cy="732.35" r="2.6" fill="#f28a91"/>
<circle cx="106.99" cy="732.35" r="2.6" fill="#f28a91"/>
<circle cx="92.71" cy="749.04" r="2.6" fill="#f28a91"/>
<circle cx="99.74" cy="752.12" r="2.6" fill="#f28a91"/>
<circle cx="94.47" cy="763.1" r="2.6" fill="#f28a91"/>
<circle cx="94.91" cy="768.37" r="2.6" fill="#f28a91"/>
<circle cx="131.81" cy="678.32" r="2.6" fill="#b680c3"/>
<circle cx="125.66" cy="701.6" r="2.6" fill="#b680c3"/>
<circle cx="132.69" cy="701.6" r="2.6" fill="#b680c3"/>
<circle cx="140.15" cy="712.8" r="2.6" fill="#b680c3"/>
<circle cx="120.17" cy="732.35" r="2.6" fill="#b680c3"/>
<circle cx="125.66" cy="732.35" r="2.6" fill="#b680c3"/>
<circle cx="130.05" cy="732.35" r="2.6" fill="#b680c3"/>
<circle cx="136.64" cy="732.35" r="2.6" fill="#b680c3"/>
<circle cx="141.47" cy="732.35" r="2.6" fill="#b680c3"/>
<circle cx="130.71" cy="751.46" r="2.6" fill="#b680c3"/>
<circle cx="129.61" cy="756.07" r="2.6" fill="#b680c3"/>
<circle cx="139.28" cy="756.07" r="2.6" fill="#b680c3"/>
<circle cx="125.66" cy="763.1" r="2.6" fill="#b680c3"/>
<circle cx="135.98" cy="763.1" r="2.6" fill="#b680c3"/>
<circle cx="129.61" cy="804.17" r="2.6" fill="#b680c3"/>
<circle cx="62" cy="699.8" r="3" fill="#000"/>
<circle cx="94.9" cy="726.6" r="3" fill="#000"/>
<circle cx="131" cy="736.7" r="3" fill="#000"/>
<line x1="63" y1="639.2" x2="130.7" y2="639.2" stroke="#555" stroke-width="0.8"/>
<polygon points="91.55,632.3 92.27,633.41 93.55,633.75 92.71,634.78 92.78,636.1 91.55,635.62 90.32,636.1 90.39,634.78 89.55,633.75 90.83,633.41" fill="#222"/>
<polygon points="96.05,632.3 96.77,633.41 98.05,633.75 97.21,634.78 97.28,636.1 96.05,635.62 94.82,636.1 94.89,634.78 94.05,633.75 95.33,633.41" fill="#222"/>
<line x1="63" y1="652.6" x2="94.9" y2="652.6" stroke="#b0b0b0" stroke-width="0.9"/>
<polygon points="77.8,647 78.52,648.11 79.8,648.45 78.96,649.48 79.03,650.8 77.8,650.32 76.57,650.8 76.64,649.48 75.8,648.45 77.08,648.11" fill="#222"/>
<text transform="translate(11.8,730.7) rotate(-90)" font-size="9.2" text-anchor="middle">Fraction reorientations in</text>
<text transform="translate(21,730.7) rotate(-90)" font-size="9.2" text-anchor="middle">correct direction (sharp boundary)</text>
<line x1="55.8" y1="806.4" x2="63.3" y2="806.4" stroke="#808080" stroke-width="1.3"/>
<text x="67" y="808.4" font-size="7.8">WT</text>
<line x1="55.8" y1="817" x2="63.3" y2="817" stroke="#f08a90" stroke-width="1.3"/>
<text x="67" y="819" font-size="7.8">SAA genetic ablation</text>
<text x="67" y="827.3" font-size="7.8">(SAA::<tspan font-style="italic">ced-3</tspan>)</text>
<line x1="55.8" y1="844.2" x2="63.3" y2="844.2" stroke="#c080c8" stroke-width="1.3"/>
<text x="67" y="846.2" font-size="7.8">SMD silencing</text>
<text x="67" y="854.2" font-size="7.8">(SMD::<tspan font-style="italic">unc-103[gof]</tspan>)</text>
<polygon points="233,661.69 243,663.69 253,666.17 263,671.9 273,677.4 283,680.62 293,682.92 303,682.64 313,686.08 323,686.57 323,696.46 313,696.98 303,693.87 293,693.5 283,690.16 273,686.48 263,681.51 253,676.82 243,674.92 233,672.53" fill="#d9d9d9" opacity="0.62"/>
<polygon points="233,674.22 243,673.17 253,674.8 263,678 273,679.09 283,681.3 293,682.25 303,681.28 313,682.36 323,684.03 323,695.62 313,694.95 303,694.2 293,694.51 283,692.53 273,689.86 263,689.3 253,687.15 243,686.1 233,686.75" fill="#f7c5c9" opacity="0.62"/>
<polyline points="233,666.77 243,669.48 253,672.02 263,677.1 273,681.84 283,684.89 293,687.77 303,688.27 313,692 323,692" fill="none" stroke="#6d6d6d" stroke-width="1.1" stroke-linejoin="round" stroke-linecap="round"/>
<circle cx="233" cy="666.77" r="2" fill="#6d6d6d"/>
<circle cx="243" cy="669.48" r="2" fill="#6d6d6d"/>
<circle cx="253" cy="672.02" r="2" fill="#6d6d6d"/>
<circle cx="263" cy="677.1" r="2" fill="#6d6d6d"/>
<circle cx="273" cy="681.84" r="2" fill="#6d6d6d"/>
<circle cx="283" cy="684.89" r="2" fill="#6d6d6d"/>
<circle cx="293" cy="687.77" r="2" fill="#6d6d6d"/>
<circle cx="303" cy="688.27" r="2" fill="#6d6d6d"/>
<circle cx="313" cy="692" r="2" fill="#6d6d6d"/>
<circle cx="323" cy="692" r="2" fill="#6d6d6d"/>
<polyline points="233,680.15 243,679.81 253,681.5 263,684.04 273,684.38 283,686.41 293,687.94 303,687.77 313,689.12 323,690.31" fill="none" stroke="#f0828a" stroke-width="1.1" stroke-linejoin="round" stroke-linecap="round"/>
<circle cx="233" cy="680.15" r="2" fill="#f0828a"/>
<circle cx="243" cy="679.81" r="2" fill="#f0828a"/>
<circle cx="253" cy="681.5" r="2" fill="#f0828a"/>
<circle cx="263" cy="684.04" r="2" fill="#f0828a"/>
<circle cx="273" cy="684.38" r="2" fill="#f0828a"/>
<circle cx="283" cy="686.41" r="2" fill="#f0828a"/>
<circle cx="293" cy="687.94" r="2" fill="#f0828a"/>
<circle cx="303" cy="687.77" r="2" fill="#f0828a"/>
<circle cx="313" cy="689.12" r="2" fill="#f0828a"/>
<circle cx="323" cy="690.31" r="2" fill="#f0828a"/>
<line x1="278" y1="642.89" x2="278" y2="719.09" stroke="#222" stroke-width="0.75" stroke-dasharray="2.2,1.8"/>
<line x1="226.5" y1="641.2" x2="226.5" y2="742.8" stroke="#777" stroke-width="0.9"/>
<line x1="226.5" y1="742.8" x2="328" y2="742.8" stroke="#777" stroke-width="0.9"/>
<line x1="224.3" y1="742.8" x2="226.5" y2="742.8" stroke="#777" stroke-width="0.7"/>
<text x="222.2" y="745.7" font-size="8" text-anchor="end">0</text>
<line x1="224.3" y1="725.87" x2="226.5" y2="725.87" stroke="#777" stroke-width="0.7"/>
<text x="222.2" y="728.77" font-size="8" text-anchor="end">1</text>
<line x1="224.3" y1="708.93" x2="226.5" y2="708.93" stroke="#777" stroke-width="0.7"/>
<text x="222.2" y="711.83" font-size="8" text-anchor="end">2</text>
<line x1="224.3" y1="692" x2="226.5" y2="692" stroke="#777" stroke-width="0.7"/>
<text x="222.2" y="694.9" font-size="8" text-anchor="end">3</text>
<line x1="224.3" y1="675.07" x2="226.5" y2="675.07" stroke="#777" stroke-width="0.7"/>
<text x="222.2" y="677.97" font-size="8" text-anchor="end">4</text>
<line x1="224.3" y1="658.13" x2="226.5" y2="658.13" stroke="#777" stroke-width="0.7"/>
<text x="222.2" y="661.03" font-size="8" text-anchor="end">5</text>
<line x1="224.3" y1="641.2" x2="226.5" y2="641.2" stroke="#777" stroke-width="0.7"/>
<text x="222.2" y="644.1" font-size="8" text-anchor="end">6</text>
<line x1="228" y1="742.8" x2="228" y2="745" stroke="#777" stroke-width="0.7"/>
<text x="228" y="753" font-size="8" text-anchor="middle">−1</text>
<line x1="253" y1="742.8" x2="253" y2="745" stroke="#777" stroke-width="0.7"/>
<text x="253" y="753" font-size="8" text-anchor="middle">−0.5</text>
<line x1="278" y1="742.8" x2="278" y2="745" stroke="#777" stroke-width="0.7"/>
<text x="278" y="753" font-size="8" text-anchor="middle">0</text>
<line x1="303" y1="742.8" x2="303" y2="745" stroke="#777" stroke-width="0.7"/>
<text x="303" y="753" font-size="8" text-anchor="middle">0.5</text>
<line x1="328" y1="742.8" x2="328" y2="745" stroke="#777" stroke-width="0.7"/>
<text x="328" y="753" font-size="8" text-anchor="middle">1</text>
<text x="278" y="762.8" font-size="9" text-anchor="middle">Bearing to odor</text>
<text transform="translate(211.6,691) rotate(-90)" font-size="9" text-anchor="middle">Reorientations per minute</text>
<text x="274.7" y="628.7" font-size="9.3" text-anchor="end">Away</text>
<text x="274.7" y="638.2" font-size="9.3" text-anchor="end">from odor</text>
<text x="285.2" y="628.7" font-size="9.3">Toward</text>
<text x="285.2" y="638.2" font-size="9.3">odor</text>
<line x1="272.2" y1="643.7" x2="243.7" y2="643.7" stroke="#111" stroke-width="0.9"/>
<polygon points="240.2,643.7 245.2,641.7 245.2,645.7" fill="#111"/>
<line x1="283.2" y1="643.7" x2="312.7" y2="643.7" stroke="#111" stroke-width="0.9"/>
<polygon points="316.2,643.7 311.2,641.7 311.2,645.7" fill="#111"/>
<line x1="232.2" y1="713" x2="239" y2="713" stroke="#6d6d6d" stroke-width="1.2"/>
<text x="243.5" y="715.5" font-size="7.8">WT</text>
<line x1="232.2" y1="723.3" x2="239" y2="723.3" stroke="#f0828a" stroke-width="1.2"/>
<text x="243.5" y="725.5" font-size="7.8">SAA genetic ablation</text>
<text x="243.5" y="734.4" font-size="7.8">(SAA::<tspan font-style="italic">ced-3</tspan>)</text>
<polygon points="384.01,663.12 394.03,663.25 404.05,668.26 414.07,671.44 424.09,674.73 434.11,680.81 444.13,681.42 454.15,681.47 464.17,682.2 474.19,685.56 474.19,695.42 464.17,693.07 454.15,692.66 444.13,691.96 434.11,690.32 424.09,683.78 414.07,681.02 404.05,678.87 394.03,674.45 384.01,673.92" fill="#d9d9d9" opacity="0.62"/>
<polygon points="384.01,693.51 394.03,692.8 404.05,694.93 414.07,695.08 424.09,700.39 434.11,701.07 444.13,702.18 454.15,700.55 464.17,703.14 474.19,701.6 474.19,713.15 464.17,715.69 454.15,713.43 444.13,714.41 434.11,712.27 424.09,711.13 414.07,706.34 404.05,707.24 394.03,705.69 384.01,706" fill="#e2cbe8" opacity="0.62"/>
<polyline points="384.01,668.18 394.03,669.03 404.05,674.09 414.07,676.62 424.09,679.15 434.11,685.06 444.13,686.25 454.15,687.09 464.17,688.1 474.19,690.97" fill="none" stroke="#6d6d6d" stroke-width="1.1" stroke-linejoin="round" stroke-linecap="round"/>
<circle cx="384.01" cy="668.18" r="2" fill="#6d6d6d"/>
<circle cx="394.03" cy="669.03" r="2" fill="#6d6d6d"/>
<circle cx="404.05" cy="674.09" r="2" fill="#6d6d6d"/>
<circle cx="414.07" cy="676.62" r="2" fill="#6d6d6d"/>
<circle cx="424.09" cy="679.15" r="2" fill="#6d6d6d"/>
<circle cx="434.11" cy="685.06" r="2" fill="#6d6d6d"/>
<circle cx="444.13" cy="686.25" r="2" fill="#6d6d6d"/>
<circle cx="454.15" cy="687.09" r="2" fill="#6d6d6d"/>
<circle cx="464.17" cy="688.1" r="2" fill="#6d6d6d"/>
<circle cx="474.19" cy="690.97" r="2" fill="#6d6d6d"/>
<polyline points="384.01,699.41 394.03,699.41 404.05,701.61 414.07,701.1 424.09,705.66 434.11,706.17 444.13,707.86 454.15,707.01 464.17,709.88 474.19,707.86" fill="none" stroke="#b680c3" stroke-width="1.1" stroke-linejoin="round" stroke-linecap="round"/>
<circle cx="384.01" cy="699.41" r="2" fill="#b680c3"/>
<circle cx="394.03" cy="699.41" r="2" fill="#b680c3"/>
<circle cx="404.05" cy="701.61" r="2" fill="#b680c3"/>
<circle cx="414.07" cy="701.1" r="2" fill="#b680c3"/>
<circle cx="424.09" cy="705.66" r="2" fill="#b680c3"/>
<circle cx="434.11" cy="706.17" r="2" fill="#b680c3"/>
<circle cx="444.13" cy="707.86" r="2" fill="#b680c3"/>
<circle cx="454.15" cy="707.01" r="2" fill="#b680c3"/>
<circle cx="464.17" cy="709.88" r="2" fill="#b680c3"/>
<circle cx="474.19" cy="707.86" r="2" fill="#b680c3"/>
<line x1="429.1" y1="645.39" x2="429.1" y2="721.36" stroke="#222" stroke-width="0.75" stroke-dasharray="2.2,1.8"/>
<line x1="378.7" y1="643.7" x2="378.7" y2="745" stroke="#777" stroke-width="0.9"/>
<line x1="378.7" y1="745" x2="479.2" y2="745" stroke="#777" stroke-width="0.9"/>
<line x1="376.5" y1="745" x2="378.7" y2="745" stroke="#777" stroke-width="0.7"/>
<text x="374.4" y="747.9" font-size="8" text-anchor="end">0</text>
<line x1="376.5" y1="728.12" x2="378.7" y2="728.12" stroke="#777" stroke-width="0.7"/>
<text x="374.4" y="731.02" font-size="8" text-anchor="end">1</text>
<line x1="376.5" y1="711.23" x2="378.7" y2="711.23" stroke="#777" stroke-width="0.7"/>
<text x="374.4" y="714.13" font-size="8" text-anchor="end">2</text>
<line x1="376.5" y1="694.35" x2="378.7" y2="694.35" stroke="#777" stroke-width="0.7"/>
<text x="374.4" y="697.25" font-size="8" text-anchor="end">3</text>
<line x1="376.5" y1="677.47" x2="378.7" y2="677.47" stroke="#777" stroke-width="0.7"/>
<text x="374.4" y="680.37" font-size="8" text-anchor="end">4</text>
<line x1="376.5" y1="660.58" x2="378.7" y2="660.58" stroke="#777" stroke-width="0.7"/>
<text x="374.4" y="663.48" font-size="8" text-anchor="end">5</text>
<line x1="376.5" y1="643.7" x2="378.7" y2="643.7" stroke="#777" stroke-width="0.7"/>
<text x="374.4" y="646.6" font-size="8" text-anchor="end">6</text>
<line x1="379" y1="745" x2="379" y2="747.2" stroke="#777" stroke-width="0.7"/>
<text x="379" y="755.2" font-size="8" text-anchor="middle">−1</text>
<line x1="404.05" y1="745" x2="404.05" y2="747.2" stroke="#777" stroke-width="0.7"/>
<text x="404.05" y="755.2" font-size="8" text-anchor="middle">−0.5</text>
<line x1="429.1" y1="745" x2="429.1" y2="747.2" stroke="#777" stroke-width="0.7"/>
<text x="429.1" y="755.2" font-size="8" text-anchor="middle">0</text>
<line x1="454.15" y1="745" x2="454.15" y2="747.2" stroke="#777" stroke-width="0.7"/>
<text x="454.15" y="755.2" font-size="8" text-anchor="middle">0.5</text>
<line x1="479.2" y1="745" x2="479.2" y2="747.2" stroke="#777" stroke-width="0.7"/>
<text x="479.2" y="755.2" font-size="8" text-anchor="middle">1</text>
<text x="429.1" y="765" font-size="9" text-anchor="middle">Bearing to odor</text>
<text transform="translate(363.3,693.7) rotate(-90)" font-size="9" text-anchor="middle">Reorientations per minute</text>
<text x="427" y="630.5" font-size="9.3" text-anchor="end">Away</text>
<text x="427" y="640" font-size="9.3" text-anchor="end">from odor</text>
<text x="437.5" y="630.5" font-size="9.3">Toward</text>
<text x="437.5" y="640" font-size="9.3">odor</text>
<line x1="424.5" y1="645.5" x2="396" y2="645.5" stroke="#111" stroke-width="0.9"/>
<polygon points="392.5,645.5 397.5,643.5 397.5,647.5" fill="#111"/>
<line x1="435.5" y1="645.5" x2="465" y2="645.5" stroke="#111" stroke-width="0.9"/>
<polygon points="468.5,645.5 463.5,643.5 463.5,647.5" fill="#111"/>
<line x1="385.2" y1="716.2" x2="392" y2="716.2" stroke="#6d6d6d" stroke-width="1.2"/>
<text x="396.5" y="718.7" font-size="7.8">WT</text>
<line x1="385.2" y1="726.5" x2="392" y2="726.5" stroke="#b680c3" stroke-width="1.2"/>
<text x="396.5" y="728.7" font-size="7.8">SMD silencing</text>
<text x="396.5" y="737.6" font-size="7.8">(SMD::<tspan font-style="italic">unc-103[gof]</tspan>)</text>
<line x1="340.6" y1="707.7" x2="340.6" y2="723" stroke="#555" stroke-width="0.7"/>
<polygon points="342.4,713.05 343.51,712.33 343.85,711.05 344.88,711.89 346.2,711.82 345.72,713.05 346.2,714.28 344.88,714.21 343.85,715.05 343.51,713.77" fill="#222"/>
<polygon points="342.4,717.55 343.51,716.83 343.85,715.55 344.88,716.39 346.2,716.32 345.72,717.55 346.2,718.78 344.88,718.71 343.85,719.55 343.51,718.27" fill="#222"/>
<line x1="482" y1="714.5" x2="482" y2="728" stroke="#555" stroke-width="0.7"/>
<text x="484" y="724.2" font-size="7.2" fill="#333">NS</text>
<text x="267.2" y="778" font-size="9" text-anchor="middle">Direction at</text>
<text x="267.2" y="787.5" font-size="9" text-anchor="middle">reorientation start</text>
<rect x="212.2" y="792.5" width="109.5" height="65" fill="none" stroke="#333" stroke-width="0.9"/>
<path d="M223.5,816.2 C227,812 230,809.5 233,811.5 C236,814 236,818 240,817.5 C243.5,817 245,812 248.3,810.3" fill="none" stroke="#000" stroke-width="2.8" stroke-linecap="round"/>
<line x1="243.5" y1="803.2" x2="254.5" y2="803.2" stroke="#111" stroke-width="0.8"/>
<polygon points="257,803.2 253.5,801.7 253.5,804.7" fill="#111"/>
<polyline points="252.2,809.5 252.49,809.78 252.79,810.06 253.08,810.31 253.38,810.53 253.67,810.71 253.97,810.85 254.27,810.93 254.57,810.96 254.87,810.94 255.17,810.86 255.48,810.73 255.78,810.56 256.09,810.34 256.39,810.1 256.7,809.84 257.01,809.57 257.32,809.3 257.62,809.05 257.93,808.82 258.24,808.62 258.54,808.46 258.85,808.35 259.15,808.3 259.45,808.29 259.75,808.35 260.05,808.45 260.34,808.61 260.64,808.8 260.93,809.04 261.23,809.3 261.52,809.58 261.81,809.87 262.11,810.15 262.4,810.41 262.69,810.65 262.99,810.86 263.29,811.02 263.58,811.14 263.88,811.2 264.18,811.21 264.49,811.16 264.79,811.06 265.09,810.92 265.4,810.73 265.71,810.5 266.01,810.25 266.32,809.99 266.63,809.72 266.94,809.45 267.24,809.21 267.55,808.99 267.86,808.8 268.16,808.67 268.46,808.58 268.77,808.54 269.07,808.56 269.36,808.63 269.66,808.76 269.96,808.93 270.25,809.14 270.55,809.39 270.84,809.66 271.13,809.94 271.43,810.23 271.72,810.51 272.01,810.76 272.31,810.99 272.6,811.18 272.9,811.33 273.2,811.42 273.5,811.46 273.8,811.45 274.1,811.38 274.41,811.26 274.71,811.1 275.02,810.89 275.33,810.65 275.63,810.4 275.94,810.13 276.25,809.86 276.56,809.6 276.86,809.37 277.17,809.16 277.47,809 277.78,808.88 278.08,808.81 278.38,808.79 278.68,808.83 278.98,808.93 279.28,809.07 279.57,809.26 279.87,809.49 280.16,809.75 280.45,810.02 280.75,810.31 281.04,810.59 281.33,810.86 281.63,811.11 281.92,811.32 282.22,811.5 282.52,811.62 282.82,811.7 283.12,811.72 283.42,811.68 283.72,811.59 284.03,811.45 284.33,811.27 284.64,811.05 284.94,810.81 285.25,810.54 285.56,810.27 285.87,810.01 286.18,809.76 286.48,809.53 286.79,809.34 287.09,809.19 287.4,809.09 287.7,809.05 288,809.05 288.3,809.12 288.6,809.23 288.89,809.4 289.19,809.6 289.48,809.84 289.77,810.11 290.09,810.41 290.31,810.76 290.52,811.1 290.74,811.43 290.97,811.73 291.2,812 291.45,812.22 291.71,812.4 291.99,812.52 292.28,812.59 292.59,812.61 292.91,812.58 293.25,812.51 293.59,812.39 293.95,812.25 294.31,812.08 294.67,811.89 295.04,811.71 295.4,811.53 295.76,811.38 296.11,811.25 296.45,811.15 296.77,811.1 297.09,811.1 297.38,811.15" fill="none" stroke="#2c6fbe" stroke-width="2.5" stroke-linejoin="round" stroke-linecap="round"/>
<polyline points="278.5,818 278.84,818.22 279.17,818.43 279.51,818.62 279.83,818.78 280.16,818.89 280.47,818.95 280.77,818.96 281.07,818.92 281.36,818.82 281.64,818.66 281.91,818.46 282.18,818.21 282.44,817.93 282.7,817.63 282.96,817.32 283.21,817 283.47,816.7 283.73,816.43 284,816.18 284.28,815.98 284.56,815.83 284.85,815.73 285.14,815.69 285.45,815.7 285.76,815.77 286.08,815.88 286.41,816.04 286.75,816.23 287.08,816.44 287.42,816.67 287.76,816.89 288.09,817.1 288.43,817.28 288.75,817.44 289.07,817.55 289.39,817.61 289.69,817.61 289.99,817.56 290.28,817.46 290.56,817.3 290.83,817.09 291.1,816.84 291.36,816.56 291.62,816.26 291.87,815.95 292.13,815.64 292.39,815.34 292.65,815.06 292.92,814.82 293.19,814.62 293.47,814.47 293.76,814.38 294.06,814.34 294.37,814.36 294.68,814.43 294.79,814.57 295.15,814.65 295.52,814.76 295.89,814.9 296.27,815.04 296.65,815.18 297.02,815.31 297.39,815.42 297.74,815.5 298.07,815.53 298.39,815.52 298.69,815.45 298.97,815.34 299.22,815.17 299.46,814.95 299.68,814.68 299.88,814.38 300.08,814.05 300.26,813.7 300.44,813.33 300.63,812.97 300.81,812.63 301.01,812.3 301.22,812.01 301.44,811.76 301.69,811.55 301.95,811.4 302.23,811.3" fill="none" stroke="#e8404f" stroke-width="2.5" stroke-linejoin="round" stroke-linecap="round"/>
<polygon points="305.5,807.1 306.32,808.37 307.78,808.76 306.82,809.93 306.91,811.44 305.5,810.89 304.09,811.44 304.18,809.93 303.22,808.76 304.68,808.37" fill="#222"/>
<text x="231" y="847" font-size="9">Odor</text>
<circle cx="225.5" cy="851.7" r="1.3" fill="#000"/>
<text x="562.2" y="702" font-size="9">Causally affects:</text>
<circle cx="544.6" cy="717" r="12.9" fill="#6aaee0"/>
<text x="544.6" y="720.5" font-size="8.4" text-anchor="middle" fill="#1d2630">SMB</text>
<rect x="561.4" y="708" width="89.5" height="20.4" fill="none" stroke="#8ec3e8" stroke-width="0.9"/>
<text x="564.5" y="716.3" font-size="9.05">Reversal termination</text>
<text x="564.5" y="724.6" font-size="9.05">Turn angle</text>
<circle cx="544.6" cy="755.6" r="12.9" fill="#ee7e87"/>
<text x="544.6" y="759.1" font-size="8.4" text-anchor="middle" fill="#1d2630">SAA</text>
<rect x="561.4" y="734.3" width="89.5" height="41.9" fill="none" stroke="#f4a0a6" stroke-width="0.9"/>
<text x="564.5" y="742.5" font-size="9.05">Reversal termination</text>
<text x="564.5" y="752.7" font-size="9.05">Turn angle</text>
<text x="564.5" y="762.9" font-size="9.05">Head curvature</text>
<text x="564.5" y="773.1" font-size="9.05">Chemotaxis</text>
<circle cx="544.6" cy="809.2" r="12.9" fill="#b27fc0"/>
<text x="544.6" y="812.7" font-size="8.4" text-anchor="middle" fill="#1d2630">SMD</text>
<rect x="561.4" y="783.9" width="89.5" height="52.7" fill="none" stroke="#c9a4d6" stroke-width="0.9"/>
<text x="564.5" y="792.1" font-size="9.05">Reversal termination</text>
<text x="564.5" y="802.3" font-size="9.05">Forward inititation</text>
<text x="564.5" y="812.5" font-size="9.05">Turn angle</text>
<text x="564.5" y="822.7" font-size="9.05">Head curvature</text>
<text x="564.5" y="832.9" font-size="9.05">Chemotaxis</text>
<circle cx="544.6" cy="852.5" r="12.9" fill="#8a87bb"/>
<text x="544.6" y="856" font-size="8.4" text-anchor="middle" fill="#1d2630">RIV</text>
<rect x="561.4" y="842.5" width="89.5" height="20.6" fill="none" stroke="#a8a4d0" stroke-width="0.9"/>
<text x="564.5" y="850.8" font-size="9.05">Head curvature</text>
<text x="564.5" y="859.1" font-size="9.05">Turn angle</text>
</svg>
</body></html>
